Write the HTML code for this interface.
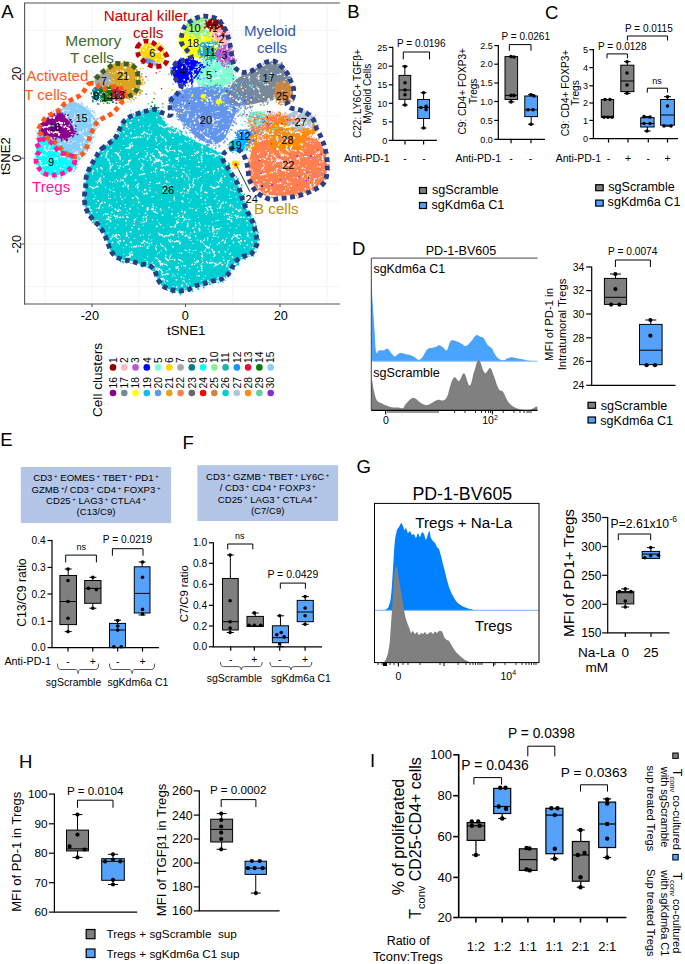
<!DOCTYPE html>
<html><head><meta charset="utf-8"><style>
html,body{margin:0;padding:0;background:#fff;}
body{width:685px;height:964px;overflow:hidden;position:relative;}
svg{position:absolute;left:0;top:0;font-family:"Liberation Sans", sans-serif;}
</style></head><body>
<svg width="685" height="964" viewBox="0 0 685 964">
<defs><pattern id="spk" patternUnits="userSpaceOnUse" width="121" height="109"><path fill="#fff" d="M54.7,61.0h1.5v1.5h-1.5zM56.3,55.4h1v1h-1zM22.3,55.8h1v1h-1zM96.0,10.3h1v1h-1zM11.0,88.3h1.5v1.5h-1.5zM5.1,107.1h1.5v1.5h-1.5zM79.1,67.1h1v1h-1zM1.8,57.6h1v1h-1zM23.0,26.4h1v1h-1zM56.1,48.0h1.5v1.5h-1.5zM62.8,69.8h1v1h-1zM80.2,49.8h1v1h-1zM120.7,108.5h1.5v1.5h-1.5zM85.6,34.4h1v1h-1zM35.0,7.7h1.5v1.5h-1.5zM48.4,92.3h1v1h-1zM115.9,92.4h1v1h-1zM25.4,99.2h1v1h-1zM118.6,43.3h1v1h-1zM76.2,84.9h1v1h-1zM10.5,36.3h1.5v1.5h-1.5zM91.7,12.9h1v1h-1zM12.2,6.5h1.5v1.5h-1.5zM21.5,61.0h1v1h-1zM23.1,79.8h1v1h-1zM77.9,12.7h1v1h-1zM25.8,29.4h1.5v1.5h-1.5zM97.2,33.2h1.5v1.5h-1.5zM25.5,43.0h1.5v1.5h-1.5zM77.7,10.9h1.5v1.5h-1.5zM25.8,28.2h1.5v1.5h-1.5zM39.8,32.3h1v1h-1zM10.9,63.5h1v1h-1zM72.8,40.5h1v1h-1zM116.1,52.7h1v1h-1zM104.8,19.9h1v1h-1zM109.9,89.1h1v1h-1zM23.0,80.6h1.5v1.5h-1.5zM23.8,103.6h1.5v1.5h-1.5zM73.0,45.9h1v1h-1zM4.7,104.9h1v1h-1zM85.3,28.0h1.5v1.5h-1.5zM72.2,32.0h1v1h-1zM87.2,7.5h1v1h-1zM67.7,92.9h1v1h-1zM33.9,100.0h1v1h-1zM2.0,29.3h1v1h-1zM7.3,19.2h1v1h-1zM69.2,14.3h1v1h-1zM107.8,106.9h1.5v1.5h-1.5zM83.6,63.7h1v1h-1zM4.2,2.0h1.5v1.5h-1.5zM84.8,104.9h1v1h-1zM77.0,52.6h1.5v1.5h-1.5zM38.6,108.9h1v1h-1zM66.1,80.3h1.5v1.5h-1.5zM89.2,76.7h1.5v1.5h-1.5zM110.7,38.3h1.5v1.5h-1.5zM109.0,95.0h1v1h-1zM95.7,94.1h1v1h-1zM75.6,41.7h1v1h-1zM73.7,8.7h1v1h-1zM120.2,95.9h1.5v1.5h-1.5zM47.0,80.1h1v1h-1zM53.3,91.4h1v1h-1zM90.8,3.2h1v1h-1zM58.2,25.1h1.5v1.5h-1.5zM60.2,67.0h1.5v1.5h-1.5zM31.0,1.2h1v1h-1zM82.1,22.1h1v1h-1zM109.6,71.9h1v1h-1zM107.9,35.6h1.5v1.5h-1.5zM24.0,47.0h1.5v1.5h-1.5zM110.6,95.9h1v1h-1zM70.6,34.5h1v1h-1zM60.1,91.2h1.5v1.5h-1.5zM86.1,103.6h1v1h-1zM20.5,49.1h1v1h-1zM25.9,45.1h1v1h-1zM59.8,34.4h1.5v1.5h-1.5zM118.8,49.3h1v1h-1zM3.8,95.1h1v1h-1zM85.7,62.2h1v1h-1zM95.8,2.1h1v1h-1zM55.0,2.7h1.5v1.5h-1.5zM28.7,15.4h1v1h-1zM76.1,48.7h1v1h-1zM79.3,88.0h1.5v1.5h-1.5zM82.8,21.7h1v1h-1zM21.6,1.2h1v1h-1zM86.4,19.5h1v1h-1zM41.8,76.0h1v1h-1zM74.3,82.4h1v1h-1zM95.8,98.8h1v1h-1zM112.8,78.7h1v1h-1zM54.9,68.2h1.5v1.5h-1.5zM45.6,62.0h1.5v1.5h-1.5zM96.4,102.9h1v1h-1zM78.8,22.3h1.5v1.5h-1.5zM99.0,69.9h1.5v1.5h-1.5zM25.8,98.1h1.5v1.5h-1.5zM118.3,58.5h1.5v1.5h-1.5zM38.8,99.2h1.5v1.5h-1.5zM42.2,9.0h1v1h-1zM66.6,83.7h1v1h-1zM3.4,88.2h1v1h-1zM96.8,18.8h1v1h-1zM95.3,15.3h1v1h-1zM62.5,78.9h1.5v1.5h-1.5zM83.4,103.1h1v1h-1zM114.8,9.4h1v1h-1zM63.7,31.6h1.5v1.5h-1.5zM77.3,57.0h1.5v1.5h-1.5zM67.8,34.0h1v1h-1zM102.3,98.2h1v1h-1zM102.9,105.6h1v1h-1zM69.3,21.9h1v1h-1zM60.9,66.0h1v1h-1zM117.3,56.2h1v1h-1zM96.9,61.4h1v1h-1zM83.6,7.2h1v1h-1zM50.1,104.3h1.5v1.5h-1.5zM32.6,51.6h1v1h-1zM52.5,88.9h1.5v1.5h-1.5zM57.7,34.6h1v1h-1zM74.8,100.9h1v1h-1zM94.3,2.5h1v1h-1zM27.5,74.9h1v1h-1zM43.0,67.6h1v1h-1zM88.4,13.4h1v1h-1zM30.3,21.6h1v1h-1zM52.8,41.0h1v1h-1zM64.1,17.4h1v1h-1zM76.4,69.6h1v1h-1zM103.0,66.7h1.5v1.5h-1.5zM28.2,80.7h1.5v1.5h-1.5zM109.2,34.4h1v1h-1zM111.7,23.8h1.5v1.5h-1.5zM107.4,14.6h1v1h-1zM87.9,28.3h1v1h-1zM100.7,46.0h1.5v1.5h-1.5zM15.2,43.9h1.5v1.5h-1.5zM2.1,21.9h1.5v1.5h-1.5zM110.3,105.6h1v1h-1zM61.2,82.6h1v1h-1zM83.0,20.6h1v1h-1zM12.8,4.1h1v1h-1zM62.3,62.0h1v1h-1zM22.3,22.2h1.5v1.5h-1.5zM119.8,101.0h1v1h-1zM7.5,103.7h1v1h-1zM92.5,35.6h1v1h-1zM62.3,46.9h1v1h-1zM1.6,76.4h1.5v1.5h-1.5zM21.9,49.5h1.5v1.5h-1.5zM49.0,21.3h1v1h-1zM62.0,1.7h1.5v1.5h-1.5zM97.0,76.8h1.5v1.5h-1.5zM76.2,44.1h1v1h-1zM61.0,107.1h1.5v1.5h-1.5zM31.2,99.3h1.5v1.5h-1.5zM94.1,88.8h1v1h-1zM108.5,95.9h1.5v1.5h-1.5zM92.8,83.4h1v1h-1zM87.4,7.7h1v1h-1zM56.7,1.2h1v1h-1zM77.3,68.0h1v1h-1zM114.3,72.6h1v1h-1zM79.8,62.1h1v1h-1zM47.1,109.0h1v1h-1zM84.9,83.0h1.5v1.5h-1.5zM2.8,67.1h1.5v1.5h-1.5zM31.1,43.8h1v1h-1zM23.6,40.9h1v1h-1zM30.4,98.7h1v1h-1zM61.4,105.4h1v1h-1zM120.4,69.5h1.5v1.5h-1.5zM9.2,65.1h1.5v1.5h-1.5zM5.5,101.4h1v1h-1zM57.1,18.4h1v1h-1zM74.0,6.4h1.5v1.5h-1.5zM50.9,57.4h1v1h-1zM44.2,31.1h1.5v1.5h-1.5zM67.8,30.9h1.5v1.5h-1.5zM35.8,1.5h1v1h-1zM5.2,17.1h1.5v1.5h-1.5zM47.2,97.8h1.5v1.5h-1.5zM6.1,107.8h1.5v1.5h-1.5zM8.9,98.7h1v1h-1zM57.8,106.1h1v1h-1zM63.3,102.2h1.5v1.5h-1.5zM56.7,106.7h1.5v1.5h-1.5zM73.0,12.5h1v1h-1zM55.1,22.2h1v1h-1zM63.9,13.6h1v1h-1zM80.8,49.7h1v1h-1zM70.5,45.7h1.5v1.5h-1.5zM64.2,108.7h1.5v1.5h-1.5zM88.8,26.0h1v1h-1zM108.0,85.5h1v1h-1zM43.5,29.6h1.5v1.5h-1.5zM68.4,64.5h1v1h-1zM91.2,20.7h1v1h-1zM118.5,99.8h1.5v1.5h-1.5zM4.8,6.6h1v1h-1zM51.4,67.9h1v1h-1zM65.5,7.9h1v1h-1zM81.8,60.0h1v1h-1zM45.2,52.2h1v1h-1zM41.6,81.2h1.5v1.5h-1.5zM9.0,13.1h1.5v1.5h-1.5zM75.5,83.8h1v1h-1zM51.3,28.1h1.5v1.5h-1.5zM44.6,71.2h1.5v1.5h-1.5zM39.4,59.8h1.5v1.5h-1.5zM111.4,46.6h1v1h-1zM11.7,95.4h1v1h-1zM10.0,61.5h1v1h-1zM82.9,32.6h1.5v1.5h-1.5zM9.2,23.2h1.5v1.5h-1.5zM9.9,33.1h1.5v1.5h-1.5zM84.0,30.8h1v1h-1zM43.3,79.1h1v1h-1zM14.2,77.3h1v1h-1zM111.1,102.5h1.5v1.5h-1.5zM53.0,87.5h1v1h-1zM38.4,43.6h1.5v1.5h-1.5zM108.3,27.1h1v1h-1zM44.2,39.6h1v1h-1zM46.9,21.3h1v1h-1zM96.4,58.9h1.5v1.5h-1.5zM68.1,19.2h1.5v1.5h-1.5zM106.6,30.7h1v1h-1zM62.4,59.3h1v1h-1zM116.9,71.0h1.5v1.5h-1.5zM7.8,59.6h1.5v1.5h-1.5zM10.2,8.9h1.5v1.5h-1.5zM108.8,9.2h1v1h-1zM17.4,81.3h1v1h-1zM29.7,24.0h1.5v1.5h-1.5zM63.1,83.4h1v1h-1zM40.9,105.5h1.5v1.5h-1.5zM59.7,58.6h1.5v1.5h-1.5zM85.7,99.7h1v1h-1zM100.0,72.7h1.5v1.5h-1.5zM97.5,90.9h1.5v1.5h-1.5zM115.9,69.8h1v1h-1zM85.9,87.4h1v1h-1zM50.9,15.9h1.5v1.5h-1.5zM119.9,40.9h1v1h-1zM24.7,46.3h1v1h-1zM117.3,6.5h1v1h-1zM13.9,70.6h1.5v1.5h-1.5zM21.7,6.8h1v1h-1zM70.7,99.1h1v1h-1zM13.1,20.1h1v1h-1zM28.5,78.2h1v1h-1zM27.1,20.2h1v1h-1zM20.9,82.6h1v1h-1zM66.3,89.1h1v1h-1zM31.5,96.7h1.5v1.5h-1.5zM41.4,59.7h1.5v1.5h-1.5zM58.4,24.1h1v1h-1zM114.6,87.4h1v1h-1zM63.8,56.2h1v1h-1zM119.8,71.7h1v1h-1zM1.3,51.5h1v1h-1zM96.4,77.7h1v1h-1zM19.0,17.1h1v1h-1zM31.4,94.7h1v1h-1zM77.1,108.2h1v1h-1zM64.7,16.4h1.5v1.5h-1.5zM0.2,89.5h1.5v1.5h-1.5zM99.5,9.0h1v1h-1zM86.7,10.6h1v1h-1zM56.7,104.1h1v1h-1zM103.7,33.1h1.5v1.5h-1.5zM50.5,99.9h1v1h-1zM100.0,22.7h1v1h-1zM63.6,17.2h1.5v1.5h-1.5zM37.7,33.9h1v1h-1zM37.0,50.9h1.5v1.5h-1.5zM43.5,74.9h1v1h-1zM47.7,50.3h1.5v1.5h-1.5zM100.4,71.3h1v1h-1zM45.6,77.4h1v1h-1zM68.3,49.9h1v1h-1zM120.0,87.1h1v1h-1zM74.5,31.7h1v1h-1zM65.3,32.5h1v1h-1zM47.5,72.7h1v1h-1zM24.2,79.7h1v1h-1zM114.3,61.3h1.5v1.5h-1.5zM40.1,90.1h1v1h-1zM17.0,10.3h1.5v1.5h-1.5zM85.7,19.6h1v1h-1zM101.3,64.6h1v1h-1zM27.4,17.1h1v1h-1zM49.2,7.9h1.5v1.5h-1.5zM51.7,55.8h1v1h-1zM92.8,89.5h1v1h-1zM40.1,44.9h1v1h-1zM48.5,76.3h1.5v1.5h-1.5zM95.6,72.0h1v1h-1zM2.2,36.1h1v1h-1zM78.7,11.6h1v1h-1zM61.6,86.0h1.5v1.5h-1.5zM74.0,17.3h1.5v1.5h-1.5zM109.3,59.8h1v1h-1zM60.6,15.5h1.5v1.5h-1.5zM119.4,56.2h1.5v1.5h-1.5zM101.1,21.5h1.5v1.5h-1.5zM75.9,21.6h1v1h-1zM29.6,62.8h1.5v1.5h-1.5zM39.8,101.3h1v1h-1zM56.0,13.5h1.5v1.5h-1.5zM16.4,98.5h1v1h-1zM67.8,61.1h1v1h-1zM110.0,108.1h1.5v1.5h-1.5zM72.8,13.4h1.5v1.5h-1.5zM34.9,97.8h1v1h-1zM69.4,90.6h1v1h-1zM66.3,8.3h1v1h-1zM21.8,107.6h1.5v1.5h-1.5zM79.7,33.5h1.5v1.5h-1.5zM89.3,41.6h1v1h-1zM97.3,1.8h1v1h-1zM56.6,15.6h1v1h-1zM68.9,18.9h1v1h-1zM31.9,61.9h1v1h-1zM77.6,4.1h1.5v1.5h-1.5zM17.5,104.6h1v1h-1zM56.9,44.8h1v1h-1zM83.4,82.6h1.5v1.5h-1.5zM58.8,108.4h1.5v1.5h-1.5zM103.5,44.6h1v1h-1zM68.5,98.7h1v1h-1zM63.5,47.1h1.5v1.5h-1.5zM38.8,6.0h1.5v1.5h-1.5zM108.9,79.8h1v1h-1zM91.0,33.2h1v1h-1zM8.4,13.6h1v1h-1zM60.8,43.2h1v1h-1zM84.1,57.4h1v1h-1zM37.1,43.1h1v1h-1zM8.3,99.3h1.5v1.5h-1.5zM80.6,94.4h1v1h-1zM97.4,24.2h1.5v1.5h-1.5zM68.6,98.5h1v1h-1zM95.9,13.5h1v1h-1zM115.1,0.1h1v1h-1zM36.2,35.4h1v1h-1zM108.3,88.9h1v1h-1zM43.1,63.8h1v1h-1zM3.8,97.9h1v1h-1zM60.3,101.8h1.5v1.5h-1.5zM57.2,22.5h1v1h-1zM111.6,97.8h1v1h-1zM101.4,38.6h1v1h-1zM20.8,95.9h1.5v1.5h-1.5zM24.4,68.9h1v1h-1zM106.5,5.5h1v1h-1zM87.8,34.1h1.5v1.5h-1.5zM105.2,77.7h1v1h-1zM84.2,102.2h1v1h-1zM9.6,24.3h1v1h-1zM86.0,21.4h1v1h-1zM28.5,72.4h1.5v1.5h-1.5zM45.1,72.2h1.5v1.5h-1.5zM71.4,25.0h1v1h-1zM112.1,72.7h1v1h-1zM77.4,9.8h1.5v1.5h-1.5zM53.3,57.6h1v1h-1zM5.5,65.4h1v1h-1zM30.4,87.6h1v1h-1zM34.5,82.4h1v1h-1zM33.8,59.7h1v1h-1zM108.5,107.7h1v1h-1zM55.9,81.8h1v1h-1zM112.4,54.5h1v1h-1zM67.3,70.3h1v1h-1zM79.6,85.3h1v1h-1zM61.2,92.1h1.5v1.5h-1.5zM63.0,103.7h1v1h-1zM94.3,18.0h1v1h-1zM28.5,48.0h1.5v1.5h-1.5zM95.2,86.2h1v1h-1zM59.2,24.1h1v1h-1zM60.4,3.9h1v1h-1zM86.5,62.4h1.5v1.5h-1.5zM21.8,16.5h1v1h-1zM60.0,47.4h1v1h-1zM31.8,87.0h1v1h-1zM109.8,62.0h1v1h-1zM95.8,25.9h1v1h-1zM37.6,4.6h1v1h-1zM75.2,57.3h1v1h-1zM71.2,9.6h1.5v1.5h-1.5zM20.8,27.8h1v1h-1zM83.6,90.6h1.5v1.5h-1.5zM7.4,44.8h1v1h-1zM26.2,105.8h1v1h-1zM59.2,83.0h1.5v1.5h-1.5zM17.5,49.6h1.5v1.5h-1.5zM4.7,26.2h1.5v1.5h-1.5zM17.1,42.8h1v1h-1zM51.4,8.3h1v1h-1zM120.5,83.2h1.5v1.5h-1.5zM27.8,27.6h1v1h-1zM29.2,50.3h1.5v1.5h-1.5zM44.0,36.7h1.5v1.5h-1.5zM73.9,4.3h1v1h-1zM78.6,6.4h1v1h-1zM84.1,94.2h1v1h-1zM107.3,50.4h1v1h-1zM102.0,41.5h1.5v1.5h-1.5zM26.1,37.9h1v1h-1zM66.5,17.9h1v1h-1zM25.9,51.0h1v1h-1zM54.1,108.3h1.5v1.5h-1.5zM103.8,22.0h1.2v1.2h-1.2zM103.4,23.4h1.5v1.5h-1.5zM102.9,24.2h1.2v1.2h-1.2zM7.2,79.6h0.9v0.9h-0.9zM6.4,78.0h0.9v0.9h-0.9zM6.5,76.5h1.5v1.5h-1.5zM6.7,75.7h1.2v1.2h-1.2zM18.1,64.9h1.5v1.5h-1.5zM19.8,64.4h1.5v1.5h-1.5zM20.7,65.0h1.2v1.2h-1.2zM22.1,63.9h1.5v1.5h-1.5zM23.1,64.3h1.2v1.2h-1.2zM17.1,92.8h1.5v1.5h-1.5zM16.9,91.7h0.9v0.9h-0.9zM16.4,89.4h1.2v1.2h-1.2zM16.2,88.2h1.2v1.2h-1.2zM15.2,87.7h1.2v1.2h-1.2zM14.4,86.6h1.2v1.2h-1.2zM92.5,38.0h1.2v1.2h-1.2zM93.0,36.6h1.5v1.5h-1.5zM93.3,36.1h0.9v0.9h-0.9zM92.0,34.3h0.9v0.9h-0.9zM92.5,32.9h1.5v1.5h-1.5zM91.1,31.5h1.2v1.2h-1.2zM90.4,30.8h1.5v1.5h-1.5zM77.2,42.1h0.9v0.9h-0.9zM76.9,42.9h1.2v1.2h-1.2zM75.2,43.1h1.2v1.2h-1.2zM74.4,44.5h0.9v0.9h-0.9zM73.4,43.7h1.2v1.2h-1.2zM117.9,16.0h1.5v1.5h-1.5zM119.2,17.1h0.9v0.9h-0.9zM120.5,18.5h0.9v0.9h-0.9zM120.9,19.6h1.2v1.2h-1.2zM12.8,2.3h0.9v0.9h-0.9zM12.9,1.2h1.2v1.2h-1.2zM14.1,0.2h1.2v1.2h-1.2zM15.6,108.4h0.9v0.9h-0.9zM86.0,100.4h1.5v1.5h-1.5zM85.5,98.8h1.5v1.5h-1.5zM84.4,97.9h1.2v1.2h-1.2zM30.4,55.5h1.2v1.2h-1.2zM31.1,54.0h0.9v0.9h-0.9zM32.7,53.3h1.2v1.2h-1.2zM32.8,52.8h1.2v1.2h-1.2zM34.0,51.8h1.5v1.5h-1.5zM35.8,51.9h1.2v1.2h-1.2zM113.6,105.5h1.5v1.5h-1.5zM115.3,107.2h0.9v0.9h-0.9zM116.6,107.7h0.9v0.9h-0.9zM117.5,108.1h0.9v0.9h-0.9zM119.0,108.1h1.2v1.2h-1.2zM119.3,107.5h1.5v1.5h-1.5zM120.9,107.3h0.9v0.9h-0.9zM1.2,107.5h1.5v1.5h-1.5zM105.4,47.9h1.2v1.2h-1.2zM105.0,47.5h1.2v1.2h-1.2zM105.7,46.1h1.2v1.2h-1.2zM106.1,44.3h1.5v1.5h-1.5zM106.2,42.9h1.2v1.2h-1.2zM106.6,42.0h0.9v0.9h-0.9zM107.7,41.7h1.2v1.2h-1.2zM42.6,61.2h1.5v1.5h-1.5zM40.9,60.6h0.9v0.9h-0.9zM40.1,60.5h1.5v1.5h-1.5zM39.3,60.4h1.5v1.5h-1.5zM8.5,39.1h0.9v0.9h-0.9zM8.4,38.2h1.2v1.2h-1.2zM8.8,36.9h1.2v1.2h-1.2zM8.1,35.6h0.9v0.9h-0.9zM8.2,34.5h1.2v1.2h-1.2zM109.9,2.8h1.5v1.5h-1.5zM109.4,1.6h1.5v1.5h-1.5zM107.7,0.6h1.5v1.5h-1.5zM106.2,0.4h1.5v1.5h-1.5zM5.3,13.8h0.9v0.9h-0.9zM5.0,14.9h1.2v1.2h-1.2zM5.0,16.6h1.5v1.5h-1.5zM4.7,17.3h0.9v0.9h-0.9zM91.2,12.3h1.2v1.2h-1.2zM92.8,11.2h1.2v1.2h-1.2zM93.5,11.4h0.9v0.9h-0.9zM94.9,10.0h1.5v1.5h-1.5zM96.0,10.5h0.9v0.9h-0.9zM97.3,10.1h1.5v1.5h-1.5zM61.4,62.2h1.2v1.2h-1.2zM61.8,62.7h0.9v0.9h-0.9zM62.9,63.2h0.9v0.9h-0.9zM63.7,64.4h0.9v0.9h-0.9zM65.2,65.2h1.2v1.2h-1.2zM65.3,66.7h0.9v0.9h-0.9zM67.0,67.4h0.9v0.9h-0.9zM67.4,68.3h0.9v0.9h-0.9zM67.3,70.6h0.9v0.9h-0.9zM61.3,108.1h1.5v1.5h-1.5zM62.9,0.2h1.2v1.2h-1.2zM63.8,0.8h0.9v0.9h-0.9zM65.3,1.0h0.9v0.9h-0.9zM66.6,108.8h1.5v1.5h-1.5zM67.4,1.0h1.2v1.2h-1.2zM69.0,0.7h0.9v0.9h-0.9zM70.0,108.9h1.2v1.2h-1.2zM71.9,108.9h1.2v1.2h-1.2zM120.1,22.6h1.2v1.2h-1.2zM118.9,21.9h1.5v1.5h-1.5zM118.1,20.2h0.9v0.9h-0.9zM116.6,19.8h1.2v1.2h-1.2zM115.6,18.8h1.2v1.2h-1.2zM114.6,18.1h0.9v0.9h-0.9zM114.0,17.5h1.2v1.2h-1.2zM112.6,16.1h1.2v1.2h-1.2zM98.8,44.1h1.5v1.5h-1.5zM97.6,44.8h1.2v1.2h-1.2zM97.2,45.8h0.9v0.9h-0.9zM95.5,46.1h1.2v1.2h-1.2zM94.3,45.9h1.5v1.5h-1.5zM93.5,47.0h1.2v1.2h-1.2zM92.4,48.4h0.9v0.9h-0.9zM29.3,44.8h1.2v1.2h-1.2zM31.2,45.8h0.9v0.9h-0.9zM31.4,46.6h0.9v0.9h-0.9zM32.2,46.4h1.5v1.5h-1.5zM33.4,48.5h0.9v0.9h-0.9zM33.8,48.7h0.9v0.9h-0.9zM34.7,50.5h1.5v1.5h-1.5zM35.6,50.5h1.2v1.2h-1.2zM36.7,51.9h0.9v0.9h-0.9zM8.6,50.4h1.5v1.5h-1.5zM7.1,51.0h1.2v1.2h-1.2zM7.2,52.0h1.5v1.5h-1.5zM6.5,54.2h1.5v1.5h-1.5zM5.5,55.0h0.9v0.9h-0.9zM4.0,55.5h1.2v1.2h-1.2zM3.7,55.6h1.2v1.2h-1.2zM2.2,57.4h0.9v0.9h-0.9zM61.6,13.6h1.2v1.2h-1.2zM60.5,13.0h1.2v1.2h-1.2zM59.4,13.1h0.9v0.9h-0.9zM57.5,13.1h0.9v0.9h-0.9zM60.8,15.8h1.5v1.5h-1.5zM60.0,14.2h0.9v0.9h-0.9zM59.0,13.9h1.2v1.2h-1.2zM58.6,12.1h0.9v0.9h-0.9zM109.8,59.1h0.9v0.9h-0.9zM110.2,58.1h1.2v1.2h-1.2zM109.7,56.9h1.5v1.5h-1.5zM109.9,55.4h0.9v0.9h-0.9zM109.5,54.4h1.2v1.2h-1.2zM108.9,53.2h1.2v1.2h-1.2zM108.8,51.6h0.9v0.9h-0.9zM108.2,50.2h1.2v1.2h-1.2zM107.4,49.1h0.9v0.9h-0.9zM4.2,39.2h0.9v0.9h-0.9zM5.2,38.2h1.5v1.5h-1.5zM6.9,38.1h1.5v1.5h-1.5zM8.0,37.7h1.5v1.5h-1.5zM8.3,36.9h1.2v1.2h-1.2zM9.0,36.0h1.2v1.2h-1.2zM11.0,35.6h1.2v1.2h-1.2zM35.0,73.9h1.2v1.2h-1.2zM35.4,74.1h1.2v1.2h-1.2zM37.4,73.6h1.5v1.5h-1.5zM37.8,73.3h1.5v1.5h-1.5zM113.4,82.0h1.2v1.2h-1.2zM112.6,81.7h0.9v0.9h-0.9zM110.3,81.0h0.9v0.9h-0.9zM54.6,47.9h0.9v0.9h-0.9zM54.5,49.2h1.5v1.5h-1.5zM55.1,49.5h1.5v1.5h-1.5zM57.0,50.4h1.2v1.2h-1.2zM57.0,52.1h0.9v0.9h-0.9zM56.8,3.7h1.2v1.2h-1.2zM56.2,3.8h1.2v1.2h-1.2zM55.4,4.5h1.5v1.5h-1.5zM53.7,6.3h1.5v1.5h-1.5zM53.8,7.1h1.2v1.2h-1.2zM53.2,8.2h1.5v1.5h-1.5zM84.8,42.9h1.5v1.5h-1.5zM85.8,44.3h1.2v1.2h-1.2zM87.8,44.2h1.5v1.5h-1.5zM88.4,44.2h1.5v1.5h-1.5zM90.1,43.9h1.5v1.5h-1.5zM91.1,44.1h0.9v0.9h-0.9zM42.2,17.9h1.2v1.2h-1.2zM40.8,17.5h0.9v0.9h-0.9zM40.7,16.6h1.2v1.2h-1.2zM39.4,16.0h1.2v1.2h-1.2zM37.7,15.9h1.5v1.5h-1.5zM37.1,14.8h1.2v1.2h-1.2zM43.1,18.5h0.9v0.9h-0.9zM43.6,17.2h1.2v1.2h-1.2zM44.8,17.0h1.5v1.5h-1.5zM46.7,16.9h1.5v1.5h-1.5zM48.0,16.5h1.5v1.5h-1.5zM48.6,15.4h1.2v1.2h-1.2zM50.3,15.8h1.5v1.5h-1.5zM51.8,16.1h1.5v1.5h-1.5zM87.5,97.1h1.5v1.5h-1.5zM88.7,96.8h1.5v1.5h-1.5zM89.1,98.4h1.2v1.2h-1.2zM89.1,100.0h0.9v0.9h-0.9zM90.1,100.5h1.5v1.5h-1.5zM90.8,102.8h1.5v1.5h-1.5zM90.8,103.1h1.5v1.5h-1.5zM74.0,100.8h0.9v0.9h-0.9zM74.6,100.7h1.5v1.5h-1.5zM76.4,98.8h0.9v0.9h-0.9zM114.0,106.9h0.9v0.9h-0.9zM115.2,106.7h1.5v1.5h-1.5zM116.3,106.5h0.9v0.9h-0.9zM117.0,106.6h0.9v0.9h-0.9zM104.7,104.0h1.5v1.5h-1.5zM106.5,104.9h0.9v0.9h-0.9zM107.2,104.5h1.2v1.2h-1.2zM49.8,36.3h0.9v0.9h-0.9zM48.5,37.4h1.5v1.5h-1.5zM48.0,39.2h1.2v1.2h-1.2zM18.6,27.2h1.5v1.5h-1.5zM16.6,27.6h1.2v1.2h-1.2zM15.0,27.3h0.9v0.9h-0.9zM14.1,27.9h1.5v1.5h-1.5zM12.8,27.8h1.5v1.5h-1.5zM11.6,28.3h1.2v1.2h-1.2zM10.2,29.2h0.9v0.9h-0.9zM9.9,28.7h0.9v0.9h-0.9zM8.2,28.4h0.9v0.9h-0.9zM35.3,65.2h0.9v0.9h-0.9zM34.5,62.8h0.9v0.9h-0.9zM33.8,62.6h0.9v0.9h-0.9zM34.0,61.4h0.9v0.9h-0.9zM34.4,59.1h0.9v0.9h-0.9zM34.7,58.8h1.5v1.5h-1.5zM80.4,40.5h0.9v0.9h-0.9zM81.1,38.3h1.2v1.2h-1.2zM80.2,37.5h1.5v1.5h-1.5zM80.6,36.5h1.2v1.2h-1.2zM80.8,34.7h0.9v0.9h-0.9zM117.6,101.6h1.5v1.5h-1.5zM117.1,101.4h1.5v1.5h-1.5zM116.2,100.5h1.2v1.2h-1.2zM114.5,99.6h1.5v1.5h-1.5zM91.7,43.5h0.9v0.9h-0.9zM92.7,44.4h1.2v1.2h-1.2zM93.6,44.9h1.2v1.2h-1.2zM95.1,45.5h1.2v1.2h-1.2zM67.8,74.8h1.5v1.5h-1.5zM67.8,76.3h1.2v1.2h-1.2zM68.6,77.5h1.5v1.5h-1.5zM68.2,79.3h0.9v0.9h-0.9zM67.5,80.6h0.9v0.9h-0.9zM66.5,81.2h1.2v1.2h-1.2zM66.9,82.1h0.9v0.9h-0.9zM65.2,83.5h0.9v0.9h-0.9zM111.8,55.9h1.2v1.2h-1.2zM110.8,56.8h0.9v0.9h-0.9zM109.9,57.3h0.9v0.9h-0.9zM33.4,48.4h1.2v1.2h-1.2zM34.5,49.7h1.5v1.5h-1.5zM35.8,49.2h0.9v0.9h-0.9zM37.1,50.0h1.5v1.5h-1.5zM38.1,50.5h0.9v0.9h-0.9zM39.3,51.3h1.5v1.5h-1.5zM40.3,53.0h1.5v1.5h-1.5zM40.8,54.0h0.9v0.9h-0.9zM41.4,54.4h0.9v0.9h-0.9zM80.1,51.8h1.5v1.5h-1.5zM79.8,49.7h1.2v1.2h-1.2zM79.8,48.6h0.9v0.9h-0.9zM79.9,47.2h1.5v1.5h-1.5zM79.5,46.6h0.9v0.9h-0.9zM80.2,44.9h0.9v0.9h-0.9zM81.2,44.0h1.2v1.2h-1.2zM81.0,41.9h0.9v0.9h-0.9zM118.7,25.2h1.2v1.2h-1.2zM117.7,23.7h1.2v1.2h-1.2zM117.2,23.1h0.9v0.9h-0.9zM35.5,103.6h1.2v1.2h-1.2zM34.6,102.6h0.9v0.9h-0.9zM33.2,102.2h1.5v1.5h-1.5zM32.0,101.7h1.2v1.2h-1.2zM31.0,100.0h0.9v0.9h-0.9zM30.3,99.8h1.5v1.5h-1.5zM25.6,100.2h1.5v1.5h-1.5zM26.5,99.4h1.5v1.5h-1.5zM26.7,97.9h0.9v0.9h-0.9zM22.5,84.1h1.5v1.5h-1.5zM24.6,83.8h1.5v1.5h-1.5zM24.9,83.5h0.9v0.9h-0.9zM26.2,84.3h0.9v0.9h-0.9zM120.8,50.6h1.5v1.5h-1.5zM120.2,50.0h0.9v0.9h-0.9zM120.1,47.9h1.5v1.5h-1.5zM119.2,47.3h1.2v1.2h-1.2zM118.1,46.2h1.2v1.2h-1.2zM117.4,45.0h1.5v1.5h-1.5zM117.0,44.1h1.5v1.5h-1.5zM115.5,43.3h1.5v1.5h-1.5zM114.5,42.9h0.9v0.9h-0.9zM95.9,76.8h1.2v1.2h-1.2zM94.7,77.7h1.2v1.2h-1.2zM92.9,78.6h1.5v1.5h-1.5zM92.0,78.2h1.5v1.5h-1.5zM91.2,77.7h1.5v1.5h-1.5zM27.6,25.1h1.2v1.2h-1.2zM26.0,24.6h0.9v0.9h-0.9zM25.6,23.7h1.5v1.5h-1.5zM24.2,23.3h1.2v1.2h-1.2zM22.7,23.0h1.2v1.2h-1.2zM21.8,23.7h1.2v1.2h-1.2zM20.2,24.4h1.5v1.5h-1.5zM71.3,77.6h1.2v1.2h-1.2zM71.8,76.4h0.9v0.9h-0.9zM72.0,74.9h1.5v1.5h-1.5zM71.0,74.1h1.2v1.2h-1.2zM71.5,72.1h1.5v1.5h-1.5zM71.8,71.2h1.2v1.2h-1.2zM71.9,69.5h1.2v1.2h-1.2zM73.4,68.9h1.2v1.2h-1.2zM91.4,8.0h0.9v0.9h-0.9zM91.3,9.3h1.5v1.5h-1.5zM91.3,10.6h1.2v1.2h-1.2zM91.2,12.5h1.5v1.5h-1.5zM91.4,12.8h0.9v0.9h-0.9zM91.5,14.2h0.9v0.9h-0.9zM92.6,15.3h1.2v1.2h-1.2zM91.8,17.4h1.5v1.5h-1.5zM98.0,98.5h1.5v1.5h-1.5zM98.7,97.2h1.5v1.5h-1.5zM99.1,95.7h1.2v1.2h-1.2zM99.9,94.5h0.9v0.9h-0.9zM100.6,93.6h1.2v1.2h-1.2zM101.2,93.5h1.2v1.2h-1.2zM102.2,92.6h0.9v0.9h-0.9zM104.0,92.7h1.5v1.5h-1.5zM101.6,59.3h1.2v1.2h-1.2zM101.1,57.9h0.9v0.9h-0.9zM100.1,57.9h1.5v1.5h-1.5zM81.0,75.5h0.9v0.9h-0.9zM80.1,76.7h1.2v1.2h-1.2zM79.5,78.2h1.2v1.2h-1.2zM79.5,79.1h0.9v0.9h-0.9zM79.6,80.6h1.5v1.5h-1.5zM78.9,82.3h0.9v0.9h-0.9zM47.3,55.5h0.9v0.9h-0.9zM45.7,55.3h1.5v1.5h-1.5zM44.8,55.3h0.9v0.9h-0.9zM43.9,56.0h1.2v1.2h-1.2zM42.4,56.0h1.2v1.2h-1.2zM40.5,56.2h1.5v1.5h-1.5zM40.0,55.2h0.9v0.9h-0.9zM41.1,46.5h0.9v0.9h-0.9zM39.0,46.5h1.2v1.2h-1.2zM38.6,45.2h1.2v1.2h-1.2zM66.1,6.6h1.5v1.5h-1.5zM66.3,5.0h1.2v1.2h-1.2zM66.6,3.7h0.9v0.9h-0.9zM79.2,23.0h1.5v1.5h-1.5zM81.2,23.6h0.9v0.9h-0.9zM81.8,25.2h0.9v0.9h-0.9zM82.9,25.9h0.9v0.9h-0.9zM83.9,27.0h1.5v1.5h-1.5zM83.9,27.4h1.5v1.5h-1.5zM85.1,28.8h1.5v1.5h-1.5zM86.2,29.1h1.5v1.5h-1.5zM87.6,29.2h1.2v1.2h-1.2zM4.5,63.9h0.9v0.9h-0.9zM3.7,66.2h1.5v1.5h-1.5zM3.8,67.0h1.5v1.5h-1.5zM3.0,67.6h0.9v0.9h-0.9zM59.1,41.7h1.5v1.5h-1.5zM58.0,41.3h1.5v1.5h-1.5zM57.1,41.1h0.9v0.9h-0.9zM92.6,61.0h1.5v1.5h-1.5zM91.8,62.5h1.2v1.2h-1.2zM92.2,64.0h0.9v0.9h-0.9zM92.3,64.9h0.9v0.9h-0.9zM19.5,3.6h0.9v0.9h-0.9zM20.7,4.5h0.9v0.9h-0.9zM21.9,3.4h1.2v1.2h-1.2zM23.1,3.5h0.9v0.9h-0.9zM24.7,2.7h1.2v1.2h-1.2zM25.0,1.2h1.2v1.2h-1.2zM24.7,0.5h0.9v0.9h-0.9zM24.4,107.1h1.5v1.5h-1.5zM34.9,31.4h1.2v1.2h-1.2zM34.4,30.1h1.2v1.2h-1.2zM34.2,29.0h0.9v0.9h-0.9zM34.7,27.0h1.2v1.2h-1.2zM41.6,27.9h1.2v1.2h-1.2zM40.4,27.0h1.5v1.5h-1.5zM39.0,25.6h1.2v1.2h-1.2zM115.7,16.0h1.5v1.5h-1.5zM115.7,16.5h1.2v1.2h-1.2zM114.3,17.2h1.5v1.5h-1.5zM113.7,17.5h1.2v1.2h-1.2zM112.0,18.2h1.2v1.2h-1.2zM110.9,18.6h0.9v0.9h-0.9zM110.2,20.0h1.5v1.5h-1.5zM120.5,69.9h0.9v0.9h-0.9zM0.4,70.8h1.2v1.2h-1.2zM1.3,70.4h1.5v1.5h-1.5zM2.2,71.7h0.9v0.9h-0.9zM3.2,73.2h0.9v0.9h-0.9zM3.2,73.2h1.2v1.2h-1.2zM3.8,74.7h1.5v1.5h-1.5zM4.4,75.8h0.9v0.9h-0.9zM16.9,74.2h1.2v1.2h-1.2zM15.7,75.1h1.2v1.2h-1.2zM15.5,75.8h0.9v0.9h-0.9zM16.0,77.0h1.5v1.5h-1.5zM15.8,78.3h1.5v1.5h-1.5zM45.4,46.7h1.2v1.2h-1.2zM44.3,45.8h1.2v1.2h-1.2zM42.7,45.5h1.2v1.2h-1.2zM41.6,44.5h0.9v0.9h-0.9zM43.8,39.3h1.5v1.5h-1.5zM44.9,40.4h1.5v1.5h-1.5zM45.5,41.3h1.2v1.2h-1.2zM46.4,41.8h1.5v1.5h-1.5zM48.4,41.0h0.9v0.9h-0.9zM49.0,40.9h0.9v0.9h-0.9zM50.5,40.9h0.9v0.9h-0.9zM51.5,40.8h0.9v0.9h-0.9zM52.9,41.3h1.5v1.5h-1.5zM68.7,16.3h0.9v0.9h-0.9zM67.6,18.4h0.9v0.9h-0.9zM68.1,19.1h1.2v1.2h-1.2zM67.0,19.8h0.9v0.9h-0.9zM21.2,54.1h0.9v0.9h-0.9zM20.8,55.1h0.9v0.9h-0.9zM21.3,57.0h0.9v0.9h-0.9zM20.2,58.1h1.5v1.5h-1.5zM20.1,58.3h1.5v1.5h-1.5zM19.1,59.5h1.2v1.2h-1.2zM40.4,45.3h1.5v1.5h-1.5zM39.5,45.2h1.2v1.2h-1.2zM39.4,43.2h0.9v0.9h-0.9zM39.2,42.7h0.9v0.9h-0.9zM37.5,42.0h1.5v1.5h-1.5zM36.9,40.9h0.9v0.9h-0.9zM35.6,39.9h1.2v1.2h-1.2zM34.4,39.2h1.5v1.5h-1.5zM97.0,73.2h1.2v1.2h-1.2zM96.8,72.9h1.2v1.2h-1.2zM98.1,71.6h1.5v1.5h-1.5zM98.7,70.3h1.2v1.2h-1.2zM99.4,68.8h1.2v1.2h-1.2zM100.1,68.5h1.2v1.2h-1.2zM57.8,22.5h0.9v0.9h-0.9zM56.3,22.7h1.5v1.5h-1.5zM55.5,22.6h1.2v1.2h-1.2zM54.3,22.7h1.2v1.2h-1.2zM52.8,23.0h1.5v1.5h-1.5zM51.3,22.6h0.9v0.9h-0.9zM50.6,22.2h0.9v0.9h-0.9zM48.7,23.0h1.5v1.5h-1.5zM47.6,22.3h1.2v1.2h-1.2z"/></pattern></defs>
<text x="347.3" y="18.3" font-size="18.5" fill="#000" text-anchor="start" >B</text>
<line x1="392.8" y1="46.8" x2="392.8" y2="140.4" stroke="#000" stroke-width="1.2" />
<line x1="388.8" y1="47.4" x2="392.8" y2="47.4" stroke="#000" stroke-width="1.2" />
<text x="387.3" y="50.64" font-size="9" fill="#000" text-anchor="end" >25</text>
<line x1="388.8" y1="66.2" x2="392.8" y2="66.2" stroke="#000" stroke-width="1.2" />
<text x="387.3" y="69.44" font-size="9" fill="#000" text-anchor="end" >20</text>
<line x1="388.8" y1="84.8" x2="392.8" y2="84.8" stroke="#000" stroke-width="1.2" />
<text x="387.3" y="88.04" font-size="9" fill="#000" text-anchor="end" >15</text>
<line x1="388.8" y1="103.3" x2="392.8" y2="103.3" stroke="#000" stroke-width="1.2" />
<text x="387.3" y="106.54" font-size="9" fill="#000" text-anchor="end" >10</text>
<line x1="388.8" y1="121.9" x2="392.8" y2="121.9" stroke="#000" stroke-width="1.2" />
<text x="387.3" y="125.14" font-size="9" fill="#000" text-anchor="end" >5</text>
<line x1="388.8" y1="140.4" x2="392.8" y2="140.4" stroke="#000" stroke-width="1.2" />
<text x="387.3" y="143.64" font-size="9" fill="#000" text-anchor="end" >0</text>
<line x1="392.2" y1="140.4" x2="436.9" y2="140.4" stroke="#000" stroke-width="1.2" />
<line x1="405" y1="140.4" x2="405" y2="144.4" stroke="#000" stroke-width="1.2" />
<line x1="423.6" y1="140.4" x2="423.6" y2="144.4" stroke="#000" stroke-width="1.2" />
<line x1="404.85" y1="66.2" x2="404.85" y2="75.4" stroke="#000" stroke-width="1.0" />
<line x1="401.93" y1="66.2" x2="407.78" y2="66.2" stroke="#000" stroke-width="1.0" />
<line x1="404.85" y1="99.3" x2="404.85" y2="105" stroke="#000" stroke-width="1.0" />
<line x1="401.93" y1="105" x2="407.78" y2="105" stroke="#000" stroke-width="1.0" />
<rect x="399" y="75.4" width="11.7" height="23.9" fill="#7f7f7f" stroke="#000" stroke-width="1.0" />
<line x1="399" y1="90" x2="410.7" y2="90" stroke="#000" stroke-width="1.0" />
<circle cx="405" cy="66.5" r="1.8" fill="#000"/>
<circle cx="405" cy="82.8" r="1.8" fill="#000"/>
<circle cx="405" cy="90" r="1.8" fill="#000"/>
<circle cx="405" cy="94.8" r="1.8" fill="#000"/>
<circle cx="405" cy="105" r="1.8" fill="#000"/>
<line x1="423.6" y1="92.7" x2="423.6" y2="99.5" stroke="#000" stroke-width="1.0" />
<line x1="420.65" y1="92.7" x2="426.55" y2="92.7" stroke="#000" stroke-width="1.0" />
<line x1="423.6" y1="118.5" x2="423.6" y2="128" stroke="#000" stroke-width="1.0" />
<line x1="420.65" y1="128" x2="426.55" y2="128" stroke="#000" stroke-width="1.0" />
<rect x="417.7" y="99.5" width="11.8" height="19" fill="#54a2fc" stroke="#000" stroke-width="1.0" />
<line x1="417.7" y1="107.5" x2="429.5" y2="107.5" stroke="#000" stroke-width="1.0" />
<circle cx="423.6" cy="92.7" r="1.8" fill="#000"/>
<circle cx="420.9" cy="107.5" r="1.8" fill="#000"/>
<circle cx="426.1" cy="106.2" r="1.8" fill="#000"/>
<circle cx="426.1" cy="109.6" r="1.8" fill="#000"/>
<circle cx="423.6" cy="128" r="1.8" fill="#000"/>
<polyline points="403.3,59.4 403.3,52 429.5,52 429.5,59.4" stroke="#000" stroke-width="1.0" fill="none" />
<text x="397" y="46.8" font-size="10" fill="#000" text-anchor="start" >P = 0.0196</text>
<text x="0" y="0" font-size="10.1" fill="#000" text-anchor="middle" transform="translate(361.1 93.6) rotate(-90)" >C22: LY6C+ TGFβ+</text>
<text x="0" y="0" font-size="10.1" fill="#000" text-anchor="middle" transform="translate(371.3 93.6) rotate(-90)" >Myeloid Cells</text>
<text x="344" y="161.5" font-size="10.5" fill="#000" text-anchor="start" >Anti-PD-1</text>
<text x="405" y="161.5" font-size="10.5" fill="#000" text-anchor="middle" >-</text>
<text x="424" y="161.5" font-size="10.5" fill="#000" text-anchor="middle" >-</text>
<line x1="498.3" y1="45" x2="498.3" y2="139.3" stroke="#000" stroke-width="1.2" />
<line x1="494.3" y1="45.6" x2="498.3" y2="45.6" stroke="#000" stroke-width="1.2" />
<text x="492.8" y="48.84" font-size="9" fill="#000" text-anchor="end" >2.5</text>
<line x1="494.3" y1="64.2" x2="498.3" y2="64.2" stroke="#000" stroke-width="1.2" />
<text x="492.8" y="67.44" font-size="9" fill="#000" text-anchor="end" >2.0</text>
<line x1="494.3" y1="83" x2="498.3" y2="83" stroke="#000" stroke-width="1.2" />
<text x="492.8" y="86.24" font-size="9" fill="#000" text-anchor="end" >1.5</text>
<line x1="494.3" y1="101.5" x2="498.3" y2="101.5" stroke="#000" stroke-width="1.2" />
<text x="492.8" y="104.74" font-size="9" fill="#000" text-anchor="end" >1.0</text>
<line x1="494.3" y1="120.4" x2="498.3" y2="120.4" stroke="#000" stroke-width="1.2" />
<text x="492.8" y="123.64" font-size="9" fill="#000" text-anchor="end" >0.5</text>
<line x1="494.3" y1="139.3" x2="498.3" y2="139.3" stroke="#000" stroke-width="1.2" />
<text x="492.8" y="142.54" font-size="9" fill="#000" text-anchor="end" >0.0</text>
<line x1="497.7" y1="139.3" x2="545" y2="139.3" stroke="#000" stroke-width="1.2" />
<line x1="511.1" y1="139.3" x2="511.1" y2="143.3" stroke="#000" stroke-width="1.2" />
<line x1="531" y1="139.3" x2="531" y2="143.3" stroke="#000" stroke-width="1.2" />
<line x1="511.3" y1="99.5" x2="511.3" y2="101.9" stroke="#000" stroke-width="1.0" />
<line x1="508.15" y1="101.9" x2="514.45" y2="101.9" stroke="#000" stroke-width="1.0" />
<rect x="505" y="56.6" width="12.6" height="42.9" fill="#7f7f7f" stroke="#000" stroke-width="1.0" />
<line x1="505" y1="95.4" x2="517.6" y2="95.4" stroke="#000" stroke-width="1.0" />
<circle cx="511" cy="56.6" r="1.8" fill="#000"/>
<circle cx="514" cy="57" r="1.8" fill="#000"/>
<circle cx="511" cy="95.4" r="1.8" fill="#000"/>
<circle cx="514" cy="95.4" r="1.8" fill="#000"/>
<circle cx="511" cy="101.9" r="1.8" fill="#000"/>
<line x1="531.15" y1="94.7" x2="531.15" y2="96" stroke="#000" stroke-width="1.0" />
<line x1="527.97" y1="94.7" x2="534.33" y2="94.7" stroke="#000" stroke-width="1.0" />
<line x1="531.15" y1="116.6" x2="531.15" y2="124.2" stroke="#000" stroke-width="1.0" />
<line x1="527.97" y1="124.2" x2="534.33" y2="124.2" stroke="#000" stroke-width="1.0" />
<rect x="524.8" y="96" width="12.7" height="20.6" fill="#54a2fc" stroke="#000" stroke-width="1.0" />
<line x1="524.8" y1="109.8" x2="537.5" y2="109.8" stroke="#000" stroke-width="1.0" />
<circle cx="531" cy="94.7" r="1.8" fill="#000"/>
<circle cx="534" cy="96" r="1.8" fill="#000"/>
<circle cx="528" cy="109.8" r="1.8" fill="#000"/>
<circle cx="533" cy="109.8" r="1.8" fill="#000"/>
<circle cx="531" cy="124.2" r="1.8" fill="#000"/>
<polyline points="509.3,50.8 509.3,44.6 531,44.6 531,50.8" stroke="#000" stroke-width="1.0" fill="none" />
<text x="501.5" y="40.3" font-size="10" fill="#000" text-anchor="start" >P = 0.0261</text>
<text x="0" y="0" font-size="10.1" fill="#000" text-anchor="middle" transform="translate(466.1 91.3) rotate(-90)" >C9: CD4+ FOXP3+</text>
<text x="0" y="0" font-size="10.1" fill="#000" text-anchor="middle" transform="translate(477.1 91.3) rotate(-90)" >Tregs</text>
<text x="455.5" y="161.5" font-size="10.5" fill="#000" text-anchor="start" >Anti-PD-1</text>
<text x="511" y="161.5" font-size="10.5" fill="#000" text-anchor="middle" >-</text>
<text x="530.6" y="161.5" font-size="10.5" fill="#000" text-anchor="middle" >-</text>
<rect x="419.5" y="187.5" width="7" height="6" fill="#7f7f7f" stroke="#000" stroke-width="1.2" />
<text x="432" y="193.7" font-size="12.6" fill="#000" text-anchor="start" >sgScramble</text>
<rect x="419.5" y="202.5" width="7" height="6" fill="#54a2fc" stroke="#000" stroke-width="1.2" />
<text x="431.5" y="208.9" font-size="12.6" fill="#000" text-anchor="start" >sgKdm6a C1</text>
<text x="545.1" y="18.8" font-size="18.5" fill="#000" text-anchor="start" >C</text>
<line x1="593.4" y1="49.1" x2="593.4" y2="138.6" stroke="#000" stroke-width="1.2" />
<line x1="589.4" y1="49.7" x2="593.4" y2="49.7" stroke="#000" stroke-width="1.2" />
<text x="587.9" y="52.94" font-size="9" fill="#000" text-anchor="end" >5</text>
<line x1="589.4" y1="67.6" x2="593.4" y2="67.6" stroke="#000" stroke-width="1.2" />
<text x="587.9" y="70.84" font-size="9" fill="#000" text-anchor="end" >4</text>
<line x1="589.4" y1="85.8" x2="593.4" y2="85.8" stroke="#000" stroke-width="1.2" />
<text x="587.9" y="89.04" font-size="9" fill="#000" text-anchor="end" >3</text>
<line x1="589.4" y1="103" x2="593.4" y2="103" stroke="#000" stroke-width="1.2" />
<text x="587.9" y="106.24" font-size="9" fill="#000" text-anchor="end" >2</text>
<line x1="589.4" y1="120.4" x2="593.4" y2="120.4" stroke="#000" stroke-width="1.2" />
<text x="587.9" y="123.64" font-size="9" fill="#000" text-anchor="end" >1</text>
<line x1="589.4" y1="138.6" x2="593.4" y2="138.6" stroke="#000" stroke-width="1.2" />
<text x="587.9" y="141.84" font-size="9" fill="#000" text-anchor="end" >0</text>
<line x1="592.8" y1="138.6" x2="678" y2="138.6" stroke="#000" stroke-width="1.2" />
<line x1="608.5" y1="138.6" x2="608.5" y2="142.6" stroke="#000" stroke-width="1.2" />
<line x1="628" y1="138.6" x2="628" y2="142.6" stroke="#000" stroke-width="1.2" />
<line x1="648.3" y1="138.6" x2="648.3" y2="142.6" stroke="#000" stroke-width="1.2" />
<line x1="667.5" y1="138.6" x2="667.5" y2="142.6" stroke="#000" stroke-width="1.2" />
<rect x="601.3" y="99.5" width="12.3" height="17.8" fill="#7f7f7f" stroke="#000" stroke-width="1.0" />
<line x1="601.3" y1="116.6" x2="613.6" y2="116.6" stroke="#000" stroke-width="1.0" />
<circle cx="605" cy="99.5" r="1.8" fill="#000"/>
<circle cx="610" cy="99.5" r="1.8" fill="#000"/>
<circle cx="604" cy="117.3" r="1.8" fill="#000"/>
<circle cx="608" cy="117.3" r="1.8" fill="#000"/>
<circle cx="612" cy="117.3" r="1.8" fill="#000"/>
<line x1="627.35" y1="61.7" x2="627.35" y2="65.2" stroke="#000" stroke-width="1.0" />
<line x1="624.07" y1="61.7" x2="630.62" y2="61.7" stroke="#000" stroke-width="1.0" />
<line x1="627.35" y1="91.6" x2="627.35" y2="93.3" stroke="#000" stroke-width="1.0" />
<line x1="624.07" y1="93.3" x2="630.62" y2="93.3" stroke="#000" stroke-width="1.0" />
<rect x="620.8" y="65.2" width="13.1" height="26.4" fill="#7f7f7f" stroke="#000" stroke-width="1.0" />
<line x1="620.8" y1="81" x2="633.9" y2="81" stroke="#000" stroke-width="1.0" />
<circle cx="627" cy="61.7" r="1.8" fill="#000"/>
<circle cx="627" cy="73" r="1.8" fill="#000"/>
<circle cx="627" cy="85" r="1.8" fill="#000"/>
<circle cx="627" cy="93.3" r="1.8" fill="#000"/>
<line x1="647.4" y1="116.6" x2="647.4" y2="117.7" stroke="#000" stroke-width="1.0" />
<line x1="644.05" y1="116.6" x2="650.75" y2="116.6" stroke="#000" stroke-width="1.0" />
<line x1="647.4" y1="127" x2="647.4" y2="131" stroke="#000" stroke-width="1.0" />
<line x1="644.05" y1="131" x2="650.75" y2="131" stroke="#000" stroke-width="1.0" />
<rect x="640.7" y="117.7" width="13.4" height="9.3" fill="#54a2fc" stroke="#000" stroke-width="1.0" />
<line x1="640.7" y1="123.5" x2="654.1" y2="123.5" stroke="#000" stroke-width="1.0" />
<circle cx="644" cy="116.6" r="1.8" fill="#000"/>
<circle cx="650" cy="117" r="1.8" fill="#000"/>
<circle cx="644" cy="123.5" r="1.8" fill="#000"/>
<circle cx="650" cy="123.5" r="1.8" fill="#000"/>
<circle cx="647" cy="131" r="1.8" fill="#000"/>
<line x1="667.5" y1="96.7" x2="667.5" y2="99.5" stroke="#000" stroke-width="1.0" />
<line x1="664.05" y1="96.7" x2="670.95" y2="96.7" stroke="#000" stroke-width="1.0" />
<line x1="667.5" y1="125.2" x2="667.5" y2="126.2" stroke="#000" stroke-width="1.0" />
<line x1="664.05" y1="126.2" x2="670.95" y2="126.2" stroke="#000" stroke-width="1.0" />
<rect x="660.6" y="99.5" width="13.8" height="25.7" fill="#54a2fc" stroke="#000" stroke-width="1.0" />
<line x1="660.6" y1="115" x2="674.4" y2="115" stroke="#000" stroke-width="1.0" />
<circle cx="667.5" cy="96.7" r="1.8" fill="#000"/>
<circle cx="667.5" cy="106" r="1.8" fill="#000"/>
<circle cx="664" cy="126" r="1.8" fill="#000"/>
<circle cx="671" cy="126" r="1.8" fill="#000"/>
<polyline points="607,58.3 607,53.9 627.4,53.9 627.4,58.3" stroke="#000" stroke-width="1.0" fill="none" />
<text x="598" y="50.3" font-size="10" fill="#000" text-anchor="start" >P = 0.0128</text>
<polyline points="627.4,40.5 627.4,36 667.5,36 667.5,40.5" stroke="#000" stroke-width="1.0" fill="none" />
<text x="625" y="32.1" font-size="10" fill="#000" text-anchor="start" >P = 0.0115</text>
<polyline points="647.3,92.6 647.3,88.2 667.5,88.2 667.5,92.6" stroke="#000" stroke-width="1.0" fill="none" />
<text x="657" y="84" font-size="9" fill="#000" text-anchor="middle" >ns</text>
<text x="0" y="0" font-size="10.1" fill="#000" text-anchor="middle" transform="translate(568.9 93) rotate(-90)" >C9: CD4+ FOXP3+</text>
<text x="0" y="0" font-size="10.1" fill="#000" text-anchor="middle" transform="translate(579.4 93) rotate(-90)" >Tregs</text>
<text x="555.7" y="161.5" font-size="10.5" fill="#000" text-anchor="start" >Anti-PD-1</text>
<text x="608.5" y="161.5" font-size="10.5" fill="#000" text-anchor="middle" >-</text>
<text x="628" y="161.5" font-size="10.5" fill="#000" text-anchor="middle" >+</text>
<text x="648.3" y="161.5" font-size="10.5" fill="#000" text-anchor="middle" >-</text>
<text x="667.5" y="161.5" font-size="10.5" fill="#000" text-anchor="middle" >+</text>
<rect x="595.7" y="184.7" width="7.5" height="6" fill="#7f7f7f" stroke="#000" stroke-width="1.2" />
<text x="608.2" y="191" font-size="12.6" fill="#000" text-anchor="start" >sgScramble</text>
<rect x="595.7" y="200.1" width="7.5" height="6" fill="#54a2fc" stroke="#000" stroke-width="1.2" />
<text x="607.6" y="206.4" font-size="12.6" fill="#000" text-anchor="start" >sgKdm6a C1</text>
<text x="352.1" y="254.7" font-size="18.5" fill="#000" text-anchor="start" >D</text>
<text x="461" y="254.6" font-size="12.6" fill="#000" text-anchor="middle" >PD-1-BV605</text>
<path d="M371.5,361.1 C371.5,345.9 371.3,297.5 371.5,285.3 C371.7,273.1 371.9,291.1 372.5,300.0 C373.1,308.9 373.8,319.7 374.5,330.0 C375.2,340.3 375.3,347.4 376.1,351.6 C376.9,355.8 377.5,351.1 378.5,350.8 C379.5,350.5 379.9,350.4 381.1,350.3 C382.3,350.2 383.2,350.6 384.4,350.3 C385.6,350.0 385.9,348.5 387.0,348.6 C388.1,348.7 388.7,349.9 389.7,351.0 C390.7,352.1 391.0,352.9 392.0,354.0 C393.0,355.1 393.7,356.5 394.9,356.5 C396.1,356.5 396.7,354.7 398.0,354.0 C399.3,353.3 399.6,352.8 401.5,352.9 C403.4,353.0 405.4,354.1 407.4,354.6 C409.4,355.1 409.9,355.0 411.4,355.6 C412.9,356.2 413.6,356.7 415.0,357.5 C416.4,358.3 417.1,359.9 418.6,359.8 C420.1,359.7 420.8,359.0 422.5,356.9 C424.2,354.8 425.1,351.2 427.1,349.4 C429.1,347.6 430.6,348.2 432.4,347.7 C434.2,347.2 434.7,347.5 436.0,347.0 C437.3,346.5 437.6,345.2 439.0,345.3 C440.4,345.4 441.3,346.3 442.9,347.3 C444.5,348.3 445.4,351.4 446.8,350.3 C448.2,349.2 448.9,343.8 450.1,341.8 C451.3,339.8 451.7,340.4 452.8,340.2 C453.9,340.0 454.4,340.6 455.5,341.0 C456.6,341.4 457.2,341.4 458.5,342.0 C459.8,342.6 460.5,343.2 462.0,344.0 C463.5,344.8 464.0,346.5 465.8,346.0 C467.6,345.5 468.9,343.6 471.0,341.4 C473.1,339.2 474.5,336.1 476.3,335.2 C478.1,334.3 478.8,336.2 480.2,336.8 C481.6,337.4 482.0,336.5 483.5,338.1 C485.0,339.7 485.8,342.6 487.5,344.7 C489.2,346.8 490.6,346.8 492.0,348.6 C493.4,350.4 493.2,351.8 494.7,353.9 C496.2,356.0 497.5,357.8 499.3,359.1 C501.1,360.4 502.4,360.3 503.9,360.2 C505.4,360.1 505.7,359.1 507.0,358.5 C508.3,357.9 508.9,357.5 510.4,357.4 C511.9,357.3 512.7,357.5 514.4,357.8 C516.1,358.1 517.2,358.5 519.0,358.8 C520.8,359.1 521.6,359.1 523.6,359.5 C525.6,359.9 526.0,360.4 528.8,360.7 C531.6,361.0 535.7,361.0 537.4,361.1Z" fill="#49a4ff"/>
<line x1="371.5" y1="361.2" x2="537.5" y2="361.2" stroke="#7ab8f5" stroke-width="1" />
<path d="M371.5,410.3 C371.5,404.4 371.0,384.6 371.5,380.6 C372.0,376.6 372.9,386.7 373.9,390.5 C374.9,394.3 375.1,397.2 376.5,399.7 C377.9,402.2 379.1,401.8 381.1,403.0 C383.1,404.2 384.3,404.7 386.4,405.6 C388.5,406.5 389.3,406.9 391.7,407.3 C394.1,407.7 396.0,407.4 398.2,407.6 C400.4,407.8 401.4,408.7 402.8,408.2 C404.2,407.7 404.1,406.2 405.0,405.0 C405.9,403.8 406.1,403.6 407.4,402.3 C408.7,401.0 409.8,399.2 411.4,398.4 C413.0,397.6 413.6,397.6 415.3,398.4 C417.0,399.2 418.1,401.0 419.9,402.3 C421.7,403.6 422.8,404.2 424.5,404.7 C426.2,405.2 426.3,405.4 428.4,404.7 C430.5,404.0 432.9,402.0 435.0,401.0 C437.1,400.0 437.3,399.8 439.0,399.7 C440.7,399.6 441.9,401.1 443.6,400.3 C445.3,399.5 446.1,399.0 447.5,395.7 C448.9,392.4 449.4,387.6 450.8,383.9 C452.2,380.2 452.9,377.9 454.6,377.3 C456.3,376.7 457.3,381.7 459.2,380.9 C461.1,380.1 462.1,372.5 464.2,373.4 C466.3,374.3 467.7,386.0 469.7,385.5 C471.7,385.0 472.5,376.1 474.3,371.0 C476.1,365.9 476.8,359.8 478.9,360.2 C481.0,360.6 482.6,371.4 484.8,373.0 C487.0,374.6 488.3,367.4 490.1,368.1 C491.9,368.8 492.3,372.2 494.0,376.3 C495.7,380.4 496.8,385.7 498.6,388.8 C500.4,391.9 501.4,389.5 503.2,392.0 C505.0,394.5 505.6,398.2 507.8,401.2 C510.0,404.2 511.2,405.5 514.4,407.2 C517.6,408.9 520.4,409.3 523.6,409.8 C526.8,410.3 527.6,410.5 530.2,409.8 C532.8,409.1 535.3,406.4 536.7,406.5 C538.1,406.6 537.3,409.5 537.4,410.3Z" fill="#808080"/>
<line x1="371.3" y1="258.1" x2="537.5" y2="258.1" stroke="#444" stroke-width="1" />
<line x1="371.3" y1="258.1" x2="371.3" y2="410.5" stroke="#444" stroke-width="1" />
<line x1="371.3" y1="410.4" x2="537.5" y2="410.4" stroke="#000" stroke-width="1.3" />
<line x1="385.5" y1="410.4" x2="385.5" y2="413" stroke="#000" stroke-width="0.8" />
<line x1="388" y1="410.4" x2="388" y2="413" stroke="#000" stroke-width="0.8" />
<line x1="390" y1="410.4" x2="390" y2="413" stroke="#000" stroke-width="0.8" />
<line x1="392" y1="410.4" x2="392" y2="413" stroke="#000" stroke-width="0.8" />
<line x1="394" y1="410.4" x2="394" y2="413" stroke="#000" stroke-width="0.8" />
<line x1="396" y1="410.4" x2="396" y2="413" stroke="#000" stroke-width="0.8" />
<line x1="398" y1="410.4" x2="398" y2="413" stroke="#000" stroke-width="0.8" />
<line x1="400" y1="410.4" x2="400" y2="413" stroke="#000" stroke-width="0.8" />
<line x1="402" y1="410.4" x2="402" y2="413" stroke="#000" stroke-width="0.8" />
<line x1="404" y1="410.4" x2="404" y2="413" stroke="#000" stroke-width="0.8" />
<line x1="406" y1="410.4" x2="406" y2="413" stroke="#000" stroke-width="0.8" />
<line x1="408" y1="410.4" x2="408" y2="413" stroke="#000" stroke-width="0.8" />
<line x1="410" y1="410.4" x2="410" y2="413" stroke="#000" stroke-width="0.8" />
<line x1="412" y1="410.4" x2="412" y2="413" stroke="#000" stroke-width="0.8" />
<line x1="414" y1="410.4" x2="414" y2="413" stroke="#000" stroke-width="0.8" />
<line x1="416" y1="410.4" x2="416" y2="413" stroke="#000" stroke-width="0.8" />
<line x1="418" y1="410.4" x2="418" y2="413" stroke="#000" stroke-width="0.8" />
<line x1="420" y1="410.4" x2="420" y2="413" stroke="#000" stroke-width="0.8" />
<line x1="422" y1="410.4" x2="422" y2="413" stroke="#000" stroke-width="0.8" />
<line x1="424" y1="410.4" x2="424" y2="413" stroke="#000" stroke-width="0.8" />
<line x1="426" y1="410.4" x2="426" y2="413" stroke="#000" stroke-width="0.8" />
<line x1="428" y1="410.4" x2="428" y2="413" stroke="#000" stroke-width="0.8" />
<line x1="430" y1="410.4" x2="430" y2="413" stroke="#000" stroke-width="0.8" />
<line x1="432" y1="410.4" x2="432" y2="413" stroke="#000" stroke-width="0.8" />
<line x1="434" y1="410.4" x2="434" y2="413" stroke="#000" stroke-width="0.8" />
<line x1="436" y1="410.4" x2="436" y2="413" stroke="#000" stroke-width="0.8" />
<line x1="438" y1="410.4" x2="438" y2="413" stroke="#000" stroke-width="0.8" />
<line x1="454.6" y1="410.4" x2="454.6" y2="413" stroke="#000" stroke-width="0.8" />
<line x1="465" y1="410.4" x2="465" y2="413" stroke="#000" stroke-width="0.8" />
<line x1="475.5" y1="410.4" x2="475.5" y2="413" stroke="#000" stroke-width="0.8" />
<line x1="481.5" y1="410.4" x2="481.5" y2="413" stroke="#000" stroke-width="0.8" />
<line x1="485.5" y1="410.4" x2="485.5" y2="413" stroke="#000" stroke-width="0.8" />
<line x1="488.5" y1="410.4" x2="488.5" y2="413" stroke="#000" stroke-width="0.8" />
<line x1="490.5" y1="410.4" x2="490.5" y2="413" stroke="#000" stroke-width="0.8" />
<line x1="492.4" y1="410.4" x2="492.4" y2="413" stroke="#000" stroke-width="0.8" />
<line x1="503.2" y1="410.4" x2="503.2" y2="413" stroke="#000" stroke-width="0.8" />
<line x1="514" y1="410.4" x2="514" y2="413" stroke="#000" stroke-width="0.8" />
<line x1="520" y1="410.4" x2="520" y2="413" stroke="#000" stroke-width="0.8" />
<line x1="524" y1="410.4" x2="524" y2="413" stroke="#000" stroke-width="0.8" />
<line x1="527" y1="410.4" x2="527" y2="413" stroke="#000" stroke-width="0.8" />
<line x1="529" y1="410.4" x2="529" y2="413" stroke="#000" stroke-width="0.8" />
<line x1="531" y1="410.4" x2="531" y2="413" stroke="#000" stroke-width="0.8" />
<line x1="385.7" y1="410.4" x2="385.7" y2="414.5" stroke="#000" stroke-width="1" />
<line x1="492.4" y1="410.4" x2="492.4" y2="414.5" stroke="#000" stroke-width="1" />
<text x="386" y="424.3" font-size="10.5" fill="#000" text-anchor="middle" >0</text>
<text x="482.2" y="424.2" font-size="10.5" fill="#000" text-anchor="start" >10</text>
<text x="494" y="419.5" font-size="7" fill="#000" text-anchor="start" >2</text>
<text x="373.5" y="273.4" font-size="12.4" fill="#000" text-anchor="start" >sgKdm6a C1</text>
<text x="373.3" y="377.1" font-size="12.6" fill="#000" text-anchor="start" >sgScramble</text>
<line x1="591.7" y1="266.4" x2="591.7" y2="385.3" stroke="#000" stroke-width="1.2" />
<line x1="586.2" y1="267" x2="591.7" y2="267" stroke="#000" stroke-width="1.2" />
<text x="584.4" y="270.74" font-size="10.4" fill="#000" text-anchor="end" >34</text>
<line x1="586.2" y1="290.6" x2="591.7" y2="290.6" stroke="#000" stroke-width="1.2" />
<text x="584.4" y="294.34" font-size="10.4" fill="#000" text-anchor="end" >32</text>
<line x1="586.2" y1="314" x2="591.7" y2="314" stroke="#000" stroke-width="1.2" />
<text x="584.4" y="317.74" font-size="10.4" fill="#000" text-anchor="end" >30</text>
<line x1="586.2" y1="337.8" x2="591.7" y2="337.8" stroke="#000" stroke-width="1.2" />
<text x="584.4" y="341.54" font-size="10.4" fill="#000" text-anchor="end" >28</text>
<line x1="586.2" y1="361.4" x2="591.7" y2="361.4" stroke="#000" stroke-width="1.2" />
<text x="584.4" y="365.14" font-size="10.4" fill="#000" text-anchor="end" >26</text>
<line x1="586.2" y1="385.3" x2="591.7" y2="385.3" stroke="#000" stroke-width="1.2" />
<text x="584.4" y="389.04" font-size="10.4" fill="#000" text-anchor="end" >24</text>
<line x1="591.1" y1="385.3" x2="675.5" y2="385.3" stroke="#000" stroke-width="1.2" />
<line x1="615.5" y1="274" x2="615.5" y2="278.4" stroke="#000" stroke-width="1.0" />
<line x1="610" y1="274" x2="621" y2="274" stroke="#000" stroke-width="1.0" />
<rect x="604.4" y="278.4" width="22.2" height="26" fill="#7f7f7f" stroke="#000" stroke-width="1.0" />
<line x1="604.4" y1="297.3" x2="626.6" y2="297.3" stroke="#000" stroke-width="1.0" />
<circle cx="615.4" cy="274.1" r="2.1" fill="#000"/>
<circle cx="615.4" cy="289.1" r="2.1" fill="#000"/>
<circle cx="611.1" cy="304.6" r="2.1" fill="#000"/>
<circle cx="619.4" cy="304.6" r="2.1" fill="#000"/>
<line x1="650.8" y1="320" x2="650.8" y2="324.4" stroke="#000" stroke-width="1.0" />
<line x1="645.3" y1="320" x2="656.3" y2="320" stroke="#000" stroke-width="1.0" />
<rect x="639.5" y="324.4" width="22.6" height="40.3" fill="#54a2fc" stroke="#000" stroke-width="1.0" />
<line x1="639.5" y1="350.2" x2="662.1" y2="350.2" stroke="#000" stroke-width="1.0" />
<circle cx="650.4" cy="320.1" r="2.1" fill="#000"/>
<circle cx="650.4" cy="335.7" r="2.1" fill="#000"/>
<circle cx="646.6" cy="365.2" r="2.1" fill="#000"/>
<circle cx="655" cy="365.2" r="2.1" fill="#000"/>
<polyline points="615.4,267 615.4,260 650.4,260 650.4,267" stroke="#000" stroke-width="1.0" fill="none" />
<text x="608" y="255.1" font-size="10.2" fill="#000" text-anchor="start" >P = 0.0074</text>
<text x="0" y="0" font-size="11.3" fill="#000" text-anchor="middle" transform="translate(553.3 324.5) rotate(-90)" >MFI of PD-1 in</text>
<text x="0" y="0" font-size="11.3" fill="#000" text-anchor="middle" transform="translate(565.9 324.5) rotate(-90)" >Intratumoral Tregs</text>
<rect x="588" y="402.3" width="7.5" height="6" fill="#7f7f7f" stroke="#000" stroke-width="1.2" />
<text x="600.8" y="409.8" font-size="12.6" fill="#000" text-anchor="start" >sgScramble</text>
<rect x="588" y="417" width="7.5" height="6" fill="#54a2fc" stroke="#000" stroke-width="1.2" />
<text x="600.3" y="424.5" font-size="12.6" fill="#000" text-anchor="start" >sgKdm6a C1</text>
<text x="0.3" y="446.3" font-size="18.5" fill="#000" text-anchor="start" >E</text>
<rect x="20.8" y="467" width="150.3" height="56.1" fill="#b4c6e7" stroke="none" stroke-width="1.2" />
<text x="96" y="481" font-size="9.6" text-anchor="middle" xml:space="preserve"><tspan dy="0.0">CD3</tspan><tspan font-size="6.0" dy="-3.2"> +</tspan><tspan dy="3.2"> </tspan><tspan dy="0.0">EOMES</tspan><tspan font-size="6.0" dy="-3.2"> +</tspan><tspan dy="3.2"> </tspan><tspan dy="0.0">TBET</tspan><tspan font-size="6.0" dy="-3.2"> +</tspan><tspan dy="3.2"> </tspan><tspan dy="0.0">PD1</tspan><tspan font-size="6.0" dy="-3.2"> +</tspan></text>
<text x="96" y="492.7" font-size="9.6" text-anchor="middle" xml:space="preserve"><tspan dy="0.0">GZMB</tspan><tspan font-size="6.0" dy="-3.2"> +</tspan><tspan dy="3.2">/ CD3</tspan><tspan font-size="6.0" dy="-3.2"> +</tspan><tspan dy="3.2"> </tspan><tspan dy="0.0">CD4</tspan><tspan font-size="6.0" dy="-3.2"> +</tspan><tspan dy="3.2"> </tspan><tspan dy="0.0">FOXP3</tspan><tspan font-size="6.0" dy="-3.2"> +</tspan></text>
<text x="96" y="504.4" font-size="9.6" text-anchor="middle" xml:space="preserve"><tspan dy="0.0">CD25</tspan><tspan font-size="6.0" dy="-3.2"> +</tspan><tspan dy="3.2"> </tspan><tspan dy="0.0">LAG3</tspan><tspan font-size="6.0" dy="-3.2"> +</tspan><tspan dy="3.2"> </tspan><tspan dy="0.0">CTLA4</tspan><tspan font-size="6.0" dy="-3.2"> +</tspan></text>
<text x="96" y="515.4" font-size="9.6" fill="#000" text-anchor="middle" >(C13/C9)</text>
<line x1="52" y1="539.9" x2="52" y2="647.6" stroke="#000" stroke-width="1.2" />
<line x1="47.5" y1="540.5" x2="52" y2="540.5" stroke="#000" stroke-width="1.2" />
<text x="45.7" y="544.17" font-size="10.2" fill="#000" text-anchor="end" >0.4</text>
<line x1="47.5" y1="567.4" x2="52" y2="567.4" stroke="#000" stroke-width="1.2" />
<text x="45.7" y="571.07" font-size="10.2" fill="#000" text-anchor="end" >0.3</text>
<line x1="47.5" y1="594" x2="52" y2="594" stroke="#000" stroke-width="1.2" />
<text x="45.7" y="597.67" font-size="10.2" fill="#000" text-anchor="end" >0.2</text>
<line x1="47.5" y1="621.4" x2="52" y2="621.4" stroke="#000" stroke-width="1.2" />
<text x="45.7" y="625.07" font-size="10.2" fill="#000" text-anchor="end" >0.1</text>
<line x1="47.5" y1="647.6" x2="52" y2="647.6" stroke="#000" stroke-width="1.2" />
<text x="45.7" y="651.27" font-size="10.2" fill="#000" text-anchor="end" >0.0</text>
<line x1="51.4" y1="647.6" x2="159" y2="647.6" stroke="#000" stroke-width="1.2" />
<line x1="68" y1="647.6" x2="68" y2="651.6" stroke="#000" stroke-width="1.2" />
<line x1="92.8" y1="647.6" x2="92.8" y2="651.6" stroke="#000" stroke-width="1.2" />
<line x1="117.7" y1="647.6" x2="117.7" y2="651.6" stroke="#000" stroke-width="1.2" />
<line x1="142.5" y1="647.6" x2="142.5" y2="651.6" stroke="#000" stroke-width="1.2" />
<line x1="68.2" y1="569" x2="68.2" y2="575.5" stroke="#000" stroke-width="1.0" />
<line x1="64.7" y1="569" x2="71.7" y2="569" stroke="#000" stroke-width="1.0" />
<line x1="68.2" y1="624.6" x2="68.2" y2="631.6" stroke="#000" stroke-width="1.0" />
<line x1="64.7" y1="631.6" x2="71.7" y2="631.6" stroke="#000" stroke-width="1.0" />
<rect x="59.9" y="575.5" width="16.6" height="49.1" fill="#7f7f7f" stroke="#000" stroke-width="1.0" />
<line x1="59.9" y1="601.5" x2="76.5" y2="601.5" stroke="#000" stroke-width="1.0" />
<circle cx="68" cy="569.1" r="1.8" fill="#000"/>
<circle cx="68" cy="580.5" r="1.8" fill="#000"/>
<circle cx="68" cy="601.5" r="1.8" fill="#000"/>
<circle cx="68" cy="618.2" r="1.8" fill="#000"/>
<circle cx="68" cy="631.6" r="1.8" fill="#000"/>
<line x1="92.85" y1="577.3" x2="92.85" y2="580.5" stroke="#000" stroke-width="1.0" />
<line x1="89.35" y1="577.3" x2="96.35" y2="577.3" stroke="#000" stroke-width="1.0" />
<line x1="92.85" y1="603.3" x2="92.85" y2="608.2" stroke="#000" stroke-width="1.0" />
<line x1="89.35" y1="608.2" x2="96.35" y2="608.2" stroke="#000" stroke-width="1.0" />
<rect x="84.7" y="580.5" width="16.3" height="22.8" fill="#7f7f7f" stroke="#000" stroke-width="1.0" />
<line x1="84.7" y1="588.4" x2="101" y2="588.4" stroke="#000" stroke-width="1.0" />
<circle cx="92.8" cy="577.3" r="1.8" fill="#000"/>
<circle cx="88.5" cy="588.4" r="1.8" fill="#000"/>
<circle cx="96.4" cy="589.6" r="1.8" fill="#000"/>
<circle cx="92.8" cy="608.2" r="1.8" fill="#000"/>
<line x1="117.5" y1="620.2" x2="117.5" y2="623.4" stroke="#000" stroke-width="1.0" />
<line x1="114" y1="620.2" x2="121" y2="620.2" stroke="#000" stroke-width="1.0" />
<rect x="109.5" y="623.4" width="16" height="24.2" fill="#54a2fc" stroke="#000" stroke-width="1.0" />
<line x1="109.5" y1="630" x2="125.5" y2="630" stroke="#000" stroke-width="1.0" />
<circle cx="117.7" cy="620.5" r="1.8" fill="#000"/>
<circle cx="117.7" cy="626" r="1.8" fill="#000"/>
<circle cx="117.7" cy="630.1" r="1.8" fill="#000"/>
<circle cx="113.9" cy="646.7" r="1.8" fill="#000"/>
<circle cx="121.2" cy="646.7" r="1.8" fill="#000"/>
<line x1="142.15" y1="562" x2="142.15" y2="566.8" stroke="#000" stroke-width="1.0" />
<line x1="138.65" y1="562" x2="145.65" y2="562" stroke="#000" stroke-width="1.0" />
<line x1="142.15" y1="613" x2="142.15" y2="615" stroke="#000" stroke-width="1.0" />
<line x1="138.65" y1="615" x2="145.65" y2="615" stroke="#000" stroke-width="1.0" />
<rect x="134.3" y="566.8" width="15.7" height="46.2" fill="#54a2fc" stroke="#000" stroke-width="1.0" />
<line x1="134.3" y1="593.4" x2="150" y2="593.4" stroke="#000" stroke-width="1.0" />
<circle cx="142.5" cy="562.1" r="1.8" fill="#000"/>
<circle cx="142.5" cy="577.3" r="1.8" fill="#000"/>
<circle cx="142.5" cy="609.4" r="1.8" fill="#000"/>
<circle cx="142.5" cy="614" r="1.8" fill="#000"/>
<text x="81.2" y="549.8" font-size="9" fill="#000" text-anchor="middle" >ns</text>
<polyline points="65.7,562.4 65.7,555.1 96.4,555.1 96.4,562.4" stroke="#000" stroke-width="1.0" fill="none" />
<text x="102.8" y="542.7" font-size="10.2" fill="#000" text-anchor="start" >P = 0.0219</text>
<polyline points="112.4,555.7 112.4,548.7 143,548.7 143,555.7" stroke="#000" stroke-width="1.0" fill="none" />
<text x="0" y="0" font-size="12.2" fill="#000" text-anchor="middle" transform="translate(26.2 592.6) rotate(-90)" >C13/C9  ratio</text>
<text x="4.4" y="665.2" font-size="10.75" fill="#000" text-anchor="start" >Anti-PD-1</text>
<text x="68" y="665.2" font-size="10.5" fill="#000" text-anchor="middle" >-</text>
<text x="92.8" y="665.2" font-size="10.5" fill="#000" text-anchor="middle" >+</text>
<text x="117.7" y="665.2" font-size="10.5" fill="#000" text-anchor="middle" >-</text>
<text x="142.5" y="665.2" font-size="10.5" fill="#000" text-anchor="middle" >+</text>
<path d="M57.5,663.6 Q57.5,669.5 60.5,669.5 L75.1,669.5 Q78.1,669.5 78.1,673.6 Q78.1,669.5 81.1,669.5 L95.7,669.5 Q98.7,669.5 98.7,663.6" fill="none" stroke="#555" stroke-width="1"/>
<path d="M109.5,663.6 Q109.5,669.5 112.5,669.5 L129.1,669.5 Q132.1,669.5 132.1,673.6 Q132.1,669.5 135.1,669.5 L151.7,669.5 Q154.7,669.5 154.7,663.6" fill="none" stroke="#555" stroke-width="1"/>
<text x="45.8" y="686.1" font-size="10.5" fill="#000" text-anchor="start" >sgScramble</text>
<text x="107.4" y="686.1" font-size="10.55" fill="#000" text-anchor="start" >sgKdm6a C1</text>
<text x="182.5" y="448.7" font-size="18.5" fill="#000" text-anchor="start" >F</text>
<rect x="197.4" y="465.2" width="140.7" height="55.8" fill="#b4c6e7" stroke="none" stroke-width="1.2" />
<text x="267.7" y="479.8" font-size="9.6" text-anchor="middle" xml:space="preserve"><tspan dy="0.0">CD3</tspan><tspan font-size="6.0" dy="-3.2"> +</tspan><tspan dy="3.2"> </tspan><tspan dy="0.0">GZMB</tspan><tspan font-size="6.0" dy="-3.2"> +</tspan><tspan dy="3.2"> </tspan><tspan dy="0.0">TBET</tspan><tspan font-size="6.0" dy="-3.2"> +</tspan><tspan dy="3.2"> </tspan><tspan dy="0.0">LY6C</tspan><tspan font-size="6.0" dy="-3.2"> +</tspan></text>
<text x="267.7" y="491" font-size="9.6" text-anchor="middle" xml:space="preserve"><tspan dy="0.0">/ CD3</tspan><tspan font-size="6.0" dy="-3.2"> +</tspan><tspan dy="3.2"> </tspan><tspan dy="0.0">CD4</tspan><tspan font-size="6.0" dy="-3.2"> +</tspan><tspan dy="3.2"> </tspan><tspan dy="0.0">FOXP3</tspan><tspan font-size="6.0" dy="-3.2"> +</tspan></text>
<text x="267.7" y="502.5" font-size="9.6" text-anchor="middle" xml:space="preserve"><tspan dy="0.0">CD25</tspan><tspan font-size="6.0" dy="-3.2"> +</tspan><tspan dy="3.2"> </tspan><tspan dy="0.0">LAG3</tspan><tspan font-size="6.0" dy="-3.2"> +</tspan><tspan dy="3.2"> </tspan><tspan dy="0.0">CTLA4</tspan><tspan font-size="6.0" dy="-3.2"> +</tspan></text>
<text x="267.7" y="514.2" font-size="9.6" fill="#000" text-anchor="middle" >(C7/C9)</text>
<line x1="213.4" y1="542.2" x2="213.4" y2="646.8" stroke="#000" stroke-width="1.2" />
<line x1="208.9" y1="542.8" x2="213.4" y2="542.8" stroke="#000" stroke-width="1.2" />
<text x="207.1" y="546.47" font-size="10.2" fill="#000" text-anchor="end" >1.0</text>
<line x1="208.9" y1="563.3" x2="213.4" y2="563.3" stroke="#000" stroke-width="1.2" />
<text x="207.1" y="566.97" font-size="10.2" fill="#000" text-anchor="end" >0.8</text>
<line x1="208.9" y1="584.3" x2="213.4" y2="584.3" stroke="#000" stroke-width="1.2" />
<text x="207.1" y="587.97" font-size="10.2" fill="#000" text-anchor="end" >0.6</text>
<line x1="208.9" y1="605.3" x2="213.4" y2="605.3" stroke="#000" stroke-width="1.2" />
<text x="207.1" y="608.97" font-size="10.2" fill="#000" text-anchor="end" >0.4</text>
<line x1="208.9" y1="626" x2="213.4" y2="626" stroke="#000" stroke-width="1.2" />
<text x="207.1" y="629.67" font-size="10.2" fill="#000" text-anchor="end" >0.2</text>
<line x1="208.9" y1="646.8" x2="213.4" y2="646.8" stroke="#000" stroke-width="1.2" />
<text x="207.1" y="650.47" font-size="10.2" fill="#000" text-anchor="end" >0.0</text>
<line x1="212.8" y1="646.8" x2="322" y2="646.8" stroke="#000" stroke-width="1.2" />
<line x1="230.7" y1="646.8" x2="230.7" y2="650.8" stroke="#000" stroke-width="1.2" />
<line x1="254.3" y1="646.8" x2="254.3" y2="650.8" stroke="#000" stroke-width="1.2" />
<line x1="279.7" y1="646.8" x2="279.7" y2="650.8" stroke="#000" stroke-width="1.2" />
<line x1="305.1" y1="646.8" x2="305.1" y2="650.8" stroke="#000" stroke-width="1.2" />
<line x1="230.35" y1="555" x2="230.35" y2="578.5" stroke="#000" stroke-width="1.0" />
<line x1="226.85" y1="555" x2="233.85" y2="555" stroke="#000" stroke-width="1.0" />
<line x1="230.35" y1="630" x2="230.35" y2="632.5" stroke="#000" stroke-width="1.0" />
<line x1="226.85" y1="632.5" x2="233.85" y2="632.5" stroke="#000" stroke-width="1.0" />
<rect x="222.5" y="578.5" width="15.7" height="51.5" fill="#7f7f7f" stroke="#000" stroke-width="1.0" />
<line x1="222.5" y1="621.7" x2="238.2" y2="621.7" stroke="#000" stroke-width="1.0" />
<circle cx="230.1" cy="555.1" r="1.8" fill="#000"/>
<circle cx="230.1" cy="600.7" r="1.8" fill="#000"/>
<circle cx="230.1" cy="621.7" r="1.8" fill="#000"/>
<circle cx="230.1" cy="628.1" r="1.8" fill="#000"/>
<circle cx="230.1" cy="632.5" r="1.8" fill="#000"/>
<line x1="255.2" y1="613" x2="255.2" y2="616.4" stroke="#000" stroke-width="1.0" />
<line x1="251.7" y1="613" x2="258.7" y2="613" stroke="#000" stroke-width="1.0" />
<rect x="247" y="616.4" width="16.4" height="10" fill="#7f7f7f" stroke="#000" stroke-width="1.0" />
<line x1="247" y1="626" x2="263.4" y2="626" stroke="#000" stroke-width="1.0" />
<circle cx="254.3" cy="612.9" r="1.8" fill="#000"/>
<circle cx="249" cy="625.2" r="1.8" fill="#000"/>
<circle cx="254.3" cy="625.2" r="1.8" fill="#000"/>
<circle cx="260.7" cy="625.2" r="1.8" fill="#000"/>
<line x1="280.45" y1="615.8" x2="280.45" y2="625.8" stroke="#000" stroke-width="1.0" />
<line x1="276.95" y1="615.8" x2="283.95" y2="615.8" stroke="#000" stroke-width="1.0" />
<line x1="280.45" y1="642.7" x2="280.45" y2="646.7" stroke="#000" stroke-width="1.0" />
<line x1="276.95" y1="646.7" x2="283.95" y2="646.7" stroke="#000" stroke-width="1.0" />
<rect x="272.4" y="625.8" width="16.1" height="16.9" fill="#54a2fc" stroke="#000" stroke-width="1.0" />
<line x1="272.4" y1="637.7" x2="288.5" y2="637.7" stroke="#000" stroke-width="1.0" />
<circle cx="279.7" cy="615.8" r="1.8" fill="#000"/>
<circle cx="281.2" cy="632.5" r="1.8" fill="#000"/>
<circle cx="276.8" cy="634.8" r="1.8" fill="#000"/>
<circle cx="284.1" cy="636.9" r="1.8" fill="#000"/>
<circle cx="279.7" cy="644" r="1.8" fill="#000"/>
<line x1="305.25" y1="596.6" x2="305.25" y2="600.4" stroke="#000" stroke-width="1.0" />
<line x1="301.75" y1="596.6" x2="308.75" y2="596.6" stroke="#000" stroke-width="1.0" />
<line x1="305.25" y1="621.7" x2="305.25" y2="624.3" stroke="#000" stroke-width="1.0" />
<line x1="301.75" y1="624.3" x2="308.75" y2="624.3" stroke="#000" stroke-width="1.0" />
<rect x="297.2" y="600.4" width="16.1" height="21.3" fill="#54a2fc" stroke="#000" stroke-width="1.0" />
<line x1="297.2" y1="612" x2="313.3" y2="612" stroke="#000" stroke-width="1.0" />
<circle cx="305.1" cy="596.6" r="1.8" fill="#000"/>
<circle cx="305.1" cy="608" r="1.8" fill="#000"/>
<circle cx="305.1" cy="615.8" r="1.8" fill="#000"/>
<circle cx="305.1" cy="624.3" r="1.8" fill="#000"/>
<text x="239.7" y="539.3" font-size="9" fill="#000" text-anchor="middle" >ns</text>
<polyline points="227.7,549.3 227.7,544 252.8,544 252.8,549.3" stroke="#000" stroke-width="1.0" fill="none" />
<text x="267.4" y="577.8" font-size="10.5" fill="#000" text-anchor="start" >P = 0.0429</text>
<polyline points="280.3,588.7 280.3,583.1 305.4,583.1 305.4,588.7" stroke="#000" stroke-width="1.0" fill="none" />
<text x="0" y="0" font-size="11.3" fill="#000" text-anchor="middle" transform="translate(187.5 593.8) rotate(-90)" >C7/C9 ratio</text>
<text x="230.7" y="663.1" font-size="10.5" fill="#000" text-anchor="middle" >-</text>
<text x="254.3" y="663.1" font-size="10.5" fill="#000" text-anchor="middle" >+</text>
<text x="279.7" y="663.1" font-size="10.5" fill="#000" text-anchor="middle" >-</text>
<text x="305.1" y="663.1" font-size="10.5" fill="#000" text-anchor="middle" >+</text>
<path d="M220.4,662 Q220.4,666.6 223.4,666.6 L238.3,666.6 Q241.3,666.6 241.3,670 Q241.3,666.6 244.3,666.6 L259.2,666.6 Q262.2,666.6 262.2,662" fill="none" stroke="#555" stroke-width="1"/>
<path d="M270,662 Q270,666.6 273,666.6 L287.9,666.6 Q290.9,666.6 290.9,670 Q290.9,666.6 293.9,666.6 L308.8,666.6 Q311.8,666.6 311.8,662" fill="none" stroke="#555" stroke-width="1"/>
<text x="206.7" y="682" font-size="10.5" fill="#000" text-anchor="start" >sgScramble</text>
<text x="271" y="682" font-size="10.35" fill="#000" text-anchor="start" >sgKdm6a C1</text>
<text x="356.6" y="472.6" font-size="18.5" fill="#000" text-anchor="start" >G</text>
<text x="462.3" y="500.2" font-size="17.8" fill="#000" text-anchor="middle" >PD-1-BV605</text>
<path d="M383.8,610.3 C384.0,610.2 385.5,609.8 386.0,609.5 C386.5,609.2 388.1,608.0 388.5,607.0 C388.9,606.0 390.1,602.2 390.5,600.0 C390.9,597.8 391.7,589.0 392.0,585.0 C392.3,581.0 393.2,564.5 393.5,560.0 C393.8,555.5 394.6,543.0 395.0,540.0 C395.4,537.0 396.6,531.3 397.0,530.0 C397.4,528.7 398.6,527.7 399.0,527.0 C399.4,526.3 400.9,523.1 401.3,523.0 C401.7,522.9 402.7,525.3 403.0,526.0 C403.3,526.7 404.2,529.8 404.5,530.0 C404.8,530.2 405.6,527.7 406.0,528.0 C406.4,528.3 407.6,532.7 408.0,533.0 C408.4,533.3 409.6,530.8 410.0,531.0 C410.4,531.2 411.6,534.7 412.0,535.0 C412.4,535.3 413.6,533.7 414.0,534.0 C414.4,534.3 415.6,538.1 416.0,538.0 C416.4,537.9 417.6,533.1 418.0,533.0 C418.4,532.9 419.6,537.1 420.0,537.0 C420.4,536.9 421.6,532.3 422.0,532.0 C422.4,531.7 423.6,533.2 424.0,534.0 C424.4,534.8 425.6,540.0 426.0,540.0 C426.4,540.0 427.6,534.9 428.0,534.0 C428.4,533.1 429.2,530.6 429.5,531.0 C429.8,531.4 430.6,537.0 431.0,538.0 C431.4,539.0 432.6,540.5 433.0,541.0 C433.4,541.5 434.6,542.4 435.0,543.0 C435.4,543.6 436.6,546.4 437.0,547.0 C437.4,547.6 438.6,548.1 439.0,549.0 C439.4,549.9 440.6,554.5 441.0,556.0 C441.4,557.5 442.6,562.4 443.0,564.0 C443.4,565.6 444.6,570.4 445.0,572.0 C445.4,573.6 446.6,578.5 447.0,580.0 C447.4,581.5 448.6,585.8 449.0,587.0 C449.4,588.2 450.6,591.1 451.0,592.0 C451.4,592.9 452.5,595.1 453.0,596.0 C453.5,596.9 455.4,600.2 456.0,601.0 C456.6,601.8 458.3,603.5 459.0,604.0 C459.7,604.5 462.1,606.0 463.0,606.5 C463.9,607.0 466.9,608.1 468.0,608.5 C469.1,608.9 473.4,609.8 474.0,610.0 C474.6,610.2 474.4,610.3 474.5,610.3Z" fill="#0080ff"/>
<line x1="374.5" y1="610.3" x2="539" y2="610.3" stroke="#6fb4fb" stroke-width="1" />
<path d="M383.8,662.6 C384.0,662.2 385.6,660.0 386.0,659.0 C386.4,658.0 387.6,654.9 388.0,653.0 C388.4,651.1 389.6,644.3 390.0,640.0 C390.4,635.7 391.6,615.5 392.0,610.0 C392.4,604.5 393.2,589.0 393.5,585.0 C393.8,581.0 394.8,571.9 395.0,570.0 C395.2,568.1 395.8,566.6 396.0,566.5 C396.2,566.4 397.2,567.6 397.5,569.0 C397.8,570.4 398.6,577.7 399.0,580.0 C399.4,582.3 400.7,590.1 401.0,592.0 C401.3,593.9 402.0,597.5 402.3,599.3 C402.6,601.1 403.6,608.0 404.0,610.0 C404.4,612.0 405.6,617.5 406.0,619.0 C406.4,620.5 407.6,624.0 408.0,625.0 C408.4,626.0 409.4,628.2 409.7,629.0 C410.0,629.8 410.7,632.8 411.0,633.0 C411.3,633.2 412.6,630.9 413.0,631.0 C413.4,631.1 414.6,633.9 415.0,634.0 C415.4,634.1 416.6,631.9 417.0,632.0 C417.4,632.1 418.6,634.9 419.0,635.0 C419.4,635.1 420.6,633.1 421.0,633.0 C421.4,632.9 422.6,634.1 423.0,634.0 C423.4,633.9 424.6,632.0 425.0,632.0 C425.4,632.0 426.6,634.4 427.0,634.5 C427.4,634.6 428.6,633.2 429.0,633.0 C429.4,632.8 430.6,631.9 431.0,632.0 C431.4,632.1 432.6,634.0 433.0,634.0 C433.4,634.0 434.6,631.6 435.0,631.5 C435.4,631.4 436.6,633.0 437.0,633.0 C437.4,633.0 438.5,631.1 439.0,631.0 C439.5,630.9 441.4,630.8 442.0,631.5 C442.6,632.2 444.0,636.9 444.5,637.7 C445.0,638.6 446.5,639.6 447.0,640.0 C447.5,640.4 448.9,640.8 449.4,641.4 C449.9,642.0 451.4,645.0 452.0,646.0 C452.6,647.0 455.0,650.6 455.6,651.4 C456.2,652.2 457.4,653.4 458.0,654.0 C458.6,654.6 461.1,657.0 461.8,657.6 C462.5,658.2 464.4,659.6 465.0,660.0 C465.6,660.4 467.5,661.0 468.0,661.3 C468.5,661.6 469.8,662.5 470.0,662.6Z" fill="#808080"/>
<rect x="374.5" y="503.4" width="164.5" height="159.2" fill="none" stroke="#000" stroke-width="1" />
<line x1="378" y1="662.6" x2="378" y2="665" stroke="#000" stroke-width="0.8" />
<line x1="382" y1="662.6" x2="382" y2="665" stroke="#000" stroke-width="0.8" />
<line x1="386.5" y1="662.6" x2="386.5" y2="665" stroke="#000" stroke-width="0.8" />
<line x1="390" y1="662.6" x2="390" y2="665" stroke="#000" stroke-width="0.8" />
<line x1="394" y1="662.6" x2="394" y2="665" stroke="#000" stroke-width="0.8" />
<line x1="398.4" y1="662.6" x2="398.4" y2="665" stroke="#000" stroke-width="0.8" />
<line x1="403" y1="662.6" x2="403" y2="665" stroke="#000" stroke-width="0.8" />
<line x1="408" y1="662.6" x2="408" y2="665" stroke="#000" stroke-width="0.8" />
<line x1="420" y1="662.6" x2="420" y2="665" stroke="#000" stroke-width="0.8" />
<line x1="440" y1="662.6" x2="440" y2="665" stroke="#000" stroke-width="0.8" />
<line x1="458" y1="662.6" x2="458" y2="665" stroke="#000" stroke-width="0.8" />
<line x1="466" y1="662.6" x2="466" y2="665" stroke="#000" stroke-width="0.8" />
<line x1="470" y1="662.6" x2="470" y2="665" stroke="#000" stroke-width="0.8" />
<line x1="473" y1="662.6" x2="473" y2="665" stroke="#000" stroke-width="0.8" />
<line x1="475.5" y1="662.6" x2="475.5" y2="665" stroke="#000" stroke-width="0.8" />
<line x1="478" y1="662.6" x2="478" y2="665" stroke="#000" stroke-width="0.8" />
<line x1="480" y1="662.6" x2="480" y2="665" stroke="#000" stroke-width="0.8" />
<line x1="482" y1="662.6" x2="482" y2="665" stroke="#000" stroke-width="0.8" />
<line x1="495" y1="662.6" x2="495" y2="665" stroke="#000" stroke-width="0.8" />
<line x1="505" y1="662.6" x2="505" y2="665" stroke="#000" stroke-width="0.8" />
<line x1="516" y1="662.6" x2="516" y2="665" stroke="#000" stroke-width="0.8" />
<line x1="522" y1="662.6" x2="522" y2="665" stroke="#000" stroke-width="0.8" />
<line x1="526" y1="662.6" x2="526" y2="665" stroke="#000" stroke-width="0.8" />
<line x1="529" y1="662.6" x2="529" y2="665" stroke="#000" stroke-width="0.8" />
<line x1="531.5" y1="662.6" x2="531.5" y2="665" stroke="#000" stroke-width="0.8" />
<line x1="534" y1="662.6" x2="534" y2="665" stroke="#000" stroke-width="0.8" />
<line x1="536" y1="662.6" x2="536" y2="665" stroke="#000" stroke-width="0.8" />
<line x1="398.4" y1="662.6" x2="398.4" y2="666.5" stroke="#000" stroke-width="1" />
<line x1="493.6" y1="662.6" x2="493.6" y2="666.5" stroke="#000" stroke-width="1" />
<line x1="444" y1="662.6" x2="444" y2="666" stroke="#000" stroke-width="1" />
<rect x="383" y="663" width="4" height="3" fill="#000"/>
<text x="398.4" y="680" font-size="10.5" fill="#000" text-anchor="middle" >0</text>
<text x="500.5" y="680" font-size="10.5" fill="#000" text-anchor="start" >10</text>
<text x="512.3" y="675" font-size="7" fill="#000" text-anchor="start" >4</text>
<text x="415.3" y="527.5" font-size="15.2" fill="#000" text-anchor="start" >Tregs + Na-La</text>
<text x="474.9" y="631.4" font-size="14.85" fill="#000" text-anchor="start" >Tregs</text>
<line x1="607.7" y1="516.9" x2="607.7" y2="632.9" stroke="#000" stroke-width="1.2" />
<line x1="602.2" y1="517.5" x2="607.7" y2="517.5" stroke="#000" stroke-width="1.2" />
<text x="601.4" y="521.82" font-size="12" fill="#000" text-anchor="end" >350</text>
<line x1="602.2" y1="546.5" x2="607.7" y2="546.5" stroke="#000" stroke-width="1.2" />
<text x="601.4" y="550.82" font-size="12" fill="#000" text-anchor="end" >300</text>
<line x1="602.2" y1="575.3" x2="607.7" y2="575.3" stroke="#000" stroke-width="1.2" />
<text x="601.4" y="579.62" font-size="12" fill="#000" text-anchor="end" >250</text>
<line x1="602.2" y1="604.3" x2="607.7" y2="604.3" stroke="#000" stroke-width="1.2" />
<text x="601.4" y="608.62" font-size="12" fill="#000" text-anchor="end" >200</text>
<line x1="602.2" y1="632.9" x2="607.7" y2="632.9" stroke="#000" stroke-width="1.2" />
<text x="601.4" y="637.22" font-size="12" fill="#000" text-anchor="end" >150</text>
<line x1="607.1" y1="632.9" x2="669.5" y2="632.9" stroke="#000" stroke-width="1.2" />
<line x1="625.3" y1="632.9" x2="625.3" y2="636.9" stroke="#000" stroke-width="1.2" />
<line x1="651" y1="632.9" x2="651" y2="636.9" stroke="#000" stroke-width="1.2" />
<line x1="625.2" y1="588.9" x2="625.2" y2="591.6" stroke="#000" stroke-width="1.0" />
<line x1="621.2" y1="588.9" x2="629.2" y2="588.9" stroke="#000" stroke-width="1.0" />
<line x1="625.2" y1="603.9" x2="625.2" y2="607" stroke="#000" stroke-width="1.0" />
<line x1="621.2" y1="607" x2="629.2" y2="607" stroke="#000" stroke-width="1.0" />
<rect x="616.6" y="591.6" width="17.2" height="12.3" fill="#7f7f7f" stroke="#000" stroke-width="1.0" />
<line x1="616.6" y1="592.7" x2="633.8" y2="592.7" stroke="#000" stroke-width="1.0" />
<circle cx="625.3" cy="588.9" r="1.8" fill="#000"/>
<circle cx="619.4" cy="591.6" r="1.8" fill="#000"/>
<circle cx="631" cy="591.6" r="1.8" fill="#000"/>
<circle cx="625.3" cy="601.1" r="1.8" fill="#000"/>
<circle cx="625.3" cy="607" r="1.8" fill="#000"/>
<line x1="650.9" y1="547.6" x2="650.9" y2="551.4" stroke="#000" stroke-width="1.0" />
<line x1="646.9" y1="547.6" x2="654.9" y2="547.6" stroke="#000" stroke-width="1.0" />
<rect x="642.2" y="551.4" width="17.4" height="7" fill="#54a2fc" stroke="#000" stroke-width="1.0" />
<line x1="642.2" y1="554.1" x2="659.6" y2="554.1" stroke="#000" stroke-width="1.0" />
<circle cx="650.7" cy="547.6" r="1.8" fill="#000"/>
<circle cx="644.8" cy="557.7" r="1.8" fill="#000"/>
<circle cx="650.7" cy="555.6" r="1.8" fill="#000"/>
<circle cx="658.5" cy="555.2" r="1.8" fill="#000"/>
<polyline points="618.3,540.2 618.3,534 650.7,534 650.7,540.2" stroke="#000" stroke-width="1.0" fill="none" />
<text x="610.5" y="528.3" font-size="12.2" fill="#000" text-anchor="start" >P=2.61x10</text>
<text x="669.5" y="522" font-size="8.5" fill="#000" text-anchor="start" >-6</text>
<text x="0" y="0" font-size="15.2" fill="#000" text-anchor="middle" transform="translate(574 573) rotate(-90)" >MFI of PD1+ Tregs</text>
<text x="578" y="657" font-size="13.6" fill="#000" text-anchor="start" >Na-La</text>
<text x="585.5" y="671.7" font-size="13.6" fill="#000" text-anchor="start" >mM</text>
<text x="625.3" y="657" font-size="13.6" fill="#000" text-anchor="middle" >0</text>
<text x="651.1" y="657" font-size="13.6" fill="#000" text-anchor="middle" >25</text>
<text x="19" y="768.1" font-size="18.5" fill="#000" text-anchor="start" >H</text>
<line x1="54.4" y1="793.5" x2="54.4" y2="912.1" stroke="#000" stroke-width="1.2" />
<line x1="48.9" y1="794.1" x2="54.4" y2="794.1" stroke="#000" stroke-width="1.2" />
<text x="47.7" y="798.35" font-size="11.8" fill="#000" text-anchor="end" >100</text>
<line x1="48.9" y1="823.8" x2="54.4" y2="823.8" stroke="#000" stroke-width="1.2" />
<text x="47.7" y="828.05" font-size="11.8" fill="#000" text-anchor="end" >90</text>
<line x1="48.9" y1="853.2" x2="54.4" y2="853.2" stroke="#000" stroke-width="1.2" />
<text x="47.7" y="857.45" font-size="11.8" fill="#000" text-anchor="end" >80</text>
<line x1="48.9" y1="882.7" x2="54.4" y2="882.7" stroke="#000" stroke-width="1.2" />
<text x="47.7" y="886.95" font-size="11.8" fill="#000" text-anchor="end" >70</text>
<line x1="48.9" y1="912.1" x2="54.4" y2="912.1" stroke="#000" stroke-width="1.2" />
<text x="47.7" y="916.35" font-size="11.8" fill="#000" text-anchor="end" >60</text>
<line x1="53.8" y1="912.1" x2="137.2" y2="912.1" stroke="#000" stroke-width="1.2" />
<line x1="77.5" y1="814.6" x2="77.5" y2="830.1" stroke="#000" stroke-width="1.0" />
<line x1="72.5" y1="814.6" x2="82.5" y2="814.6" stroke="#000" stroke-width="1.0" />
<line x1="77.5" y1="850.9" x2="77.5" y2="857.4" stroke="#000" stroke-width="1.0" />
<line x1="72.5" y1="857.4" x2="82.5" y2="857.4" stroke="#000" stroke-width="1.0" />
<rect x="66.5" y="830.1" width="22" height="20.8" fill="#7f7f7f" stroke="#000" stroke-width="1.0" />
<line x1="66.5" y1="848.8" x2="88.5" y2="848.8" stroke="#000" stroke-width="1.0" />
<circle cx="77.5" cy="814.6" r="2.1" fill="#000"/>
<circle cx="77.5" cy="834.6" r="2.1" fill="#000"/>
<circle cx="69.6" cy="846.4" r="2.1" fill="#000"/>
<circle cx="84.6" cy="849.5" r="2.1" fill="#000"/>
<circle cx="77.5" cy="857.4" r="2.1" fill="#000"/>
<line x1="113" y1="854.3" x2="113" y2="858.7" stroke="#000" stroke-width="1.0" />
<line x1="108" y1="854.3" x2="118" y2="854.3" stroke="#000" stroke-width="1.0" />
<line x1="113" y1="880.3" x2="113" y2="884.5" stroke="#000" stroke-width="1.0" />
<line x1="108" y1="884.5" x2="118" y2="884.5" stroke="#000" stroke-width="1.0" />
<rect x="101.7" y="858.7" width="22.6" height="21.6" fill="#54a2fc" stroke="#000" stroke-width="1.0" />
<line x1="101.7" y1="861.4" x2="124.3" y2="861.4" stroke="#000" stroke-width="1.0" />
<circle cx="113" cy="854.3" r="2.1" fill="#000"/>
<circle cx="105.1" cy="861.4" r="2.1" fill="#000"/>
<circle cx="113" cy="859.5" r="2.1" fill="#000"/>
<circle cx="120.3" cy="861.4" r="2.1" fill="#000"/>
<circle cx="113" cy="879.8" r="2.1" fill="#000"/>
<circle cx="113" cy="884.5" r="2.1" fill="#000"/>
<text x="67" y="795.2" font-size="11.66" fill="#000" text-anchor="start" >P = 0.0104</text>
<polyline points="77.5,807.8 77.5,800.2 113,800.2 113,807.8" stroke="#000" stroke-width="1.0" fill="none" />
<text x="0" y="0" font-size="13" fill="#000" text-anchor="middle" transform="translate(21 851.8) rotate(-90)" >MFI of PD-1 in Tregs</text>
<line x1="199.3" y1="790.3" x2="199.3" y2="910.9" stroke="#000" stroke-width="1.2" />
<line x1="193.8" y1="790.9" x2="199.3" y2="790.9" stroke="#000" stroke-width="1.2" />
<text x="192.6" y="795.33" font-size="12.3" fill="#000" text-anchor="end" >260</text>
<line x1="193.8" y1="815.1" x2="199.3" y2="815.1" stroke="#000" stroke-width="1.2" />
<text x="192.6" y="819.53" font-size="12.3" fill="#000" text-anchor="end" >240</text>
<line x1="193.8" y1="839" x2="199.3" y2="839" stroke="#000" stroke-width="1.2" />
<text x="192.6" y="843.43" font-size="12.3" fill="#000" text-anchor="end" >220</text>
<line x1="193.8" y1="863" x2="199.3" y2="863" stroke="#000" stroke-width="1.2" />
<text x="192.6" y="867.43" font-size="12.3" fill="#000" text-anchor="end" >200</text>
<line x1="193.8" y1="886.9" x2="199.3" y2="886.9" stroke="#000" stroke-width="1.2" />
<text x="192.6" y="891.33" font-size="12.3" fill="#000" text-anchor="end" >180</text>
<line x1="193.8" y1="910.9" x2="199.3" y2="910.9" stroke="#000" stroke-width="1.2" />
<text x="192.6" y="915.33" font-size="12.3" fill="#000" text-anchor="end" >160</text>
<line x1="198.7" y1="910.9" x2="279.6" y2="910.9" stroke="#000" stroke-width="1.2" />
<line x1="221.65" y1="813.6" x2="221.65" y2="819.2" stroke="#000" stroke-width="1.0" />
<line x1="216.65" y1="813.6" x2="226.65" y2="813.6" stroke="#000" stroke-width="1.0" />
<line x1="221.65" y1="842" x2="221.65" y2="849.3" stroke="#000" stroke-width="1.0" />
<line x1="216.65" y1="849.3" x2="226.65" y2="849.3" stroke="#000" stroke-width="1.0" />
<rect x="210.7" y="819.2" width="21.9" height="22.8" fill="#7f7f7f" stroke="#000" stroke-width="1.0" />
<line x1="210.7" y1="829.4" x2="232.6" y2="829.4" stroke="#000" stroke-width="1.0" />
<circle cx="221.2" cy="813.6" r="2.1" fill="#000"/>
<circle cx="221.2" cy="820" r="2.1" fill="#000"/>
<circle cx="221.2" cy="826.5" r="2.1" fill="#000"/>
<circle cx="221.2" cy="832.6" r="2.1" fill="#000"/>
<circle cx="221.2" cy="839" r="2.1" fill="#000"/>
<circle cx="221.2" cy="849.3" r="2.1" fill="#000"/>
<line x1="255.75" y1="874.4" x2="255.75" y2="893.1" stroke="#000" stroke-width="1.0" />
<line x1="250.75" y1="893.1" x2="260.75" y2="893.1" stroke="#000" stroke-width="1.0" />
<rect x="245.1" y="861.2" width="21.3" height="13.2" fill="#54a2fc" stroke="#000" stroke-width="1.0" />
<line x1="245.1" y1="868.2" x2="266.4" y2="868.2" stroke="#000" stroke-width="1.0" />
<circle cx="251.8" cy="861" r="2.1" fill="#000"/>
<circle cx="259.7" cy="861" r="2.1" fill="#000"/>
<circle cx="248" cy="868.2" r="2.1" fill="#000"/>
<circle cx="254.7" cy="868.2" r="2.1" fill="#000"/>
<circle cx="262.6" cy="868.2" r="2.1" fill="#000"/>
<circle cx="255.9" cy="893.1" r="2.1" fill="#000"/>
<text x="210" y="794.2" font-size="11.64" fill="#000" text-anchor="start" >P = 0.0002</text>
<polyline points="221.2,807 221.2,799.6 255.9,799.6 255.9,807" stroke="#000" stroke-width="1.0" fill="none" />
<text x="0" y="0" font-size="13.2" fill="#000" text-anchor="middle" transform="translate(165.8 850) rotate(-90)" >MFI of TGFβ1 in Tregs</text>
<rect x="86.2" y="929.5" width="8.8" height="9.2" fill="#7f7f7f" stroke="#000" stroke-width="1.2" />
<text x="106.4" y="938.4" font-size="11.76" fill="#000" text-anchor="start" xml:space="preserve">Tregs + sgScramble  sup</text>
<rect x="86.2" y="949" width="8.8" height="8.5" fill="#54a2fc" stroke="#000" stroke-width="1.2" />
<text x="106.4" y="957.5" font-size="11.76" fill="#000" text-anchor="start" >Tregs + sgKdm6a C1 sup</text>
<text x="370" y="767.4" font-size="18.5" fill="#000" text-anchor="start" >I</text>
<line x1="458.7" y1="754.2" x2="458.7" y2="917.5" stroke="#000" stroke-width="1.6" />
<line x1="453.2" y1="754.8" x2="458.7" y2="754.8" stroke="#000" stroke-width="1.6" />
<text x="452" y="759.48" font-size="13" fill="#000" text-anchor="end" >100</text>
<line x1="453.2" y1="795.7" x2="458.7" y2="795.7" stroke="#000" stroke-width="1.6" />
<text x="452" y="800.38" font-size="13" fill="#000" text-anchor="end" >80</text>
<line x1="453.2" y1="836.6" x2="458.7" y2="836.6" stroke="#000" stroke-width="1.6" />
<text x="452" y="841.28" font-size="13" fill="#000" text-anchor="end" >60</text>
<line x1="453.2" y1="877.4" x2="458.7" y2="877.4" stroke="#000" stroke-width="1.6" />
<text x="452" y="882.08" font-size="13" fill="#000" text-anchor="end" >40</text>
<line x1="453.2" y1="917.5" x2="458.7" y2="917.5" stroke="#000" stroke-width="1.6" />
<text x="452" y="922.18" font-size="13" fill="#000" text-anchor="end" >20</text>
<line x1="458.1" y1="917.5" x2="626.4" y2="917.5" stroke="#000" stroke-width="1.6" />
<line x1="475.9" y1="917.5" x2="475.9" y2="922.5" stroke="#000" stroke-width="1.6" />
<line x1="502.2" y1="917.5" x2="502.2" y2="922.5" stroke="#000" stroke-width="1.6" />
<line x1="527.9" y1="917.5" x2="527.9" y2="922.5" stroke="#000" stroke-width="1.6" />
<line x1="554.2" y1="917.5" x2="554.2" y2="922.5" stroke="#000" stroke-width="1.6" />
<line x1="580.5" y1="917.5" x2="580.5" y2="922.5" stroke="#000" stroke-width="1.6" />
<line x1="607.2" y1="917.5" x2="607.2" y2="922.5" stroke="#000" stroke-width="1.6" />
<line x1="475.95" y1="840.4" x2="475.95" y2="855" stroke="#000" stroke-width="1.2" />
<line x1="471.95" y1="855" x2="479.95" y2="855" stroke="#000" stroke-width="1.2" />
<rect x="467.2" y="822.6" width="17.5" height="17.8" fill="#7f7f7f" stroke="#000" stroke-width="1.2" />
<line x1="467.2" y1="825.8" x2="484.7" y2="825.8" stroke="#000" stroke-width="1.2" />
<circle cx="471.8" cy="821.4" r="2.2" fill="#000"/>
<circle cx="478.2" cy="821.4" r="2.2" fill="#000"/>
<circle cx="471.8" cy="825.8" r="2.2" fill="#000"/>
<circle cx="479.7" cy="825.8" r="2.2" fill="#000"/>
<circle cx="475.9" cy="855" r="2.2" fill="#000"/>
<line x1="502.2" y1="813.5" x2="502.2" y2="818.5" stroke="#000" stroke-width="1.2" />
<line x1="498.2" y1="818.5" x2="506.2" y2="818.5" stroke="#000" stroke-width="1.2" />
<rect x="493.7" y="788.4" width="17" height="25.1" fill="#54a2fc" stroke="#000" stroke-width="1.2" />
<line x1="493.7" y1="806.5" x2="510.7" y2="806.5" stroke="#000" stroke-width="1.2" />
<circle cx="500.3" cy="787.8" r="2.2" fill="#000"/>
<circle cx="505.5" cy="787.8" r="2.2" fill="#000"/>
<circle cx="498.7" cy="806.5" r="2.2" fill="#000"/>
<circle cx="506" cy="808.8" r="2.2" fill="#000"/>
<circle cx="502.2" cy="818.5" r="2.2" fill="#000"/>
<rect x="519.4" y="848.8" width="17.6" height="21.6" fill="#7f7f7f" stroke="#000" stroke-width="1.2" />
<line x1="519.4" y1="859.6" x2="537" y2="859.6" stroke="#000" stroke-width="1.2" />
<circle cx="526.5" cy="848" r="2.2" fill="#000"/>
<circle cx="529.5" cy="848.5" r="2.2" fill="#000"/>
<circle cx="526.5" cy="869.5" r="2.2" fill="#000"/>
<circle cx="529.7" cy="870.4" r="2.2" fill="#000"/>
<line x1="554.4" y1="853.7" x2="554.4" y2="858.8" stroke="#000" stroke-width="1.2" />
<line x1="550.4" y1="858.8" x2="558.4" y2="858.8" stroke="#000" stroke-width="1.2" />
<rect x="545.9" y="808.3" width="17" height="45.4" fill="#54a2fc" stroke="#000" stroke-width="1.2" />
<line x1="545.9" y1="815.1" x2="562.9" y2="815.1" stroke="#000" stroke-width="1.2" />
<circle cx="551.3" cy="808.3" r="2.2" fill="#000"/>
<circle cx="557.5" cy="808.3" r="2.2" fill="#000"/>
<circle cx="554.8" cy="815.1" r="2.2" fill="#000"/>
<circle cx="554.8" cy="848.8" r="2.2" fill="#000"/>
<circle cx="554.8" cy="858.8" r="2.2" fill="#000"/>
<line x1="580.75" y1="830" x2="580.75" y2="841.5" stroke="#000" stroke-width="1.2" />
<line x1="576.75" y1="830" x2="584.75" y2="830" stroke="#000" stroke-width="1.2" />
<line x1="580.75" y1="881.2" x2="580.75" y2="887.2" stroke="#000" stroke-width="1.2" />
<line x1="576.75" y1="887.2" x2="584.75" y2="887.2" stroke="#000" stroke-width="1.2" />
<rect x="572.4" y="841.5" width="16.7" height="39.7" fill="#7f7f7f" stroke="#000" stroke-width="1.2" />
<line x1="572.4" y1="855" x2="589.1" y2="855" stroke="#000" stroke-width="1.2" />
<circle cx="580.5" cy="830" r="2.2" fill="#000"/>
<circle cx="577.8" cy="855" r="2.2" fill="#000"/>
<circle cx="584.5" cy="852.9" r="2.2" fill="#000"/>
<circle cx="580.5" cy="877.2" r="2.2" fill="#000"/>
<circle cx="580.5" cy="887.2" r="2.2" fill="#000"/>
<line x1="607.1" y1="798.9" x2="607.1" y2="802.1" stroke="#000" stroke-width="1.2" />
<line x1="603.1" y1="798.9" x2="611.1" y2="798.9" stroke="#000" stroke-width="1.2" />
<line x1="607.1" y1="847.5" x2="607.1" y2="857.5" stroke="#000" stroke-width="1.2" />
<line x1="603.1" y1="857.5" x2="611.1" y2="857.5" stroke="#000" stroke-width="1.2" />
<rect x="598.6" y="802.1" width="17" height="45.4" fill="#54a2fc" stroke="#000" stroke-width="1.2" />
<line x1="598.6" y1="824" x2="615.6" y2="824" stroke="#000" stroke-width="1.2" />
<circle cx="607.2" cy="799.4" r="2.2" fill="#000"/>
<circle cx="607.2" cy="803.5" r="2.2" fill="#000"/>
<circle cx="607.2" cy="824" r="2.2" fill="#000"/>
<circle cx="607.2" cy="838.6" r="2.2" fill="#000"/>
<circle cx="607.2" cy="857.5" r="2.2" fill="#000"/>
<text x="461.3" y="770" font-size="13.9" fill="#000" text-anchor="start" >P = 0.0436</text>
<polyline points="473.9,784.6 473.9,777.6 501.6,777.6 501.6,784.6" stroke="#000" stroke-width="1.0" fill="none" />
<text x="508" y="738.2" font-size="13.8" fill="#000" text-anchor="start" >P = 0.0398</text>
<polyline points="527.8,756.3 527.8,746.2 554.8,746.2 554.8,756.3" stroke="#000" stroke-width="1.0" fill="none" />
<text x="560.8" y="777.4" font-size="13.7" fill="#000" text-anchor="start" >P = 0.0363</text>
<polyline points="580.5,791.6 580.5,784.8 607.5,784.8 607.5,791.6" stroke="#000" stroke-width="1.0" fill="none" />
<text x="0" y="0" font-size="16" fill="#000" text-anchor="middle" transform="translate(403.8 837) rotate(-90)" >% of proliferated</text>
<text x="0" y="0" font-size="16" text-anchor="middle" transform="translate(421.3 838) rotate(-90)">T<tspan font-size="11" dy="4">conv</tspan><tspan dy="-4"> CD25-CD4+ cells</tspan></text>
<text x="408.2" y="945" font-size="12.5" fill="#000" text-anchor="middle" >Ratio of</text>
<text x="407.8" y="961" font-size="12.9" fill="#000" text-anchor="middle" >Tconv:Tregs</text>
<text x="475.9" y="950.5" font-size="13" fill="#000" text-anchor="middle" >1:2</text>
<text x="502.2" y="950.5" font-size="13" fill="#000" text-anchor="middle" >1:2</text>
<text x="527.9" y="950.5" font-size="13" fill="#000" text-anchor="middle" >1:1</text>
<text x="554.2" y="950.5" font-size="13" fill="#000" text-anchor="middle" >1:1</text>
<text x="580.5" y="950.5" font-size="13" fill="#000" text-anchor="middle" >2:1</text>
<text x="607.2" y="950.5" font-size="13" fill="#000" text-anchor="middle" >2:1</text>
<rect x="672.8" y="753" width="5.4" height="5.4" fill="#7f7f7f" stroke="#000" stroke-width="1" />
<rect x="672.8" y="854.4" width="5.4" height="5.6" fill="#54a2fc" stroke="#000" stroke-width="1" />
<text x="0" y="0" font-size="11" transform="translate(673.3 768.8) rotate(90)" ><tspan font-size="12.5">T</tspan><tspan font-size="7.5" dy="3">conv</tspan><tspan dy="-3"> co-cultured</tspan></text>
<text x="0" y="0" font-size="11" transform="translate(660.6 766.7) rotate(90)" >with sgScramble</text>
<text x="0" y="0" font-size="11" transform="translate(647.3 765.6) rotate(90)" >sup treated Tregs</text>
<text x="0" y="0" font-size="11" transform="translate(673.3 872.4) rotate(90)" ><tspan font-size="12.5">T</tspan><tspan font-size="7.5" dy="3">conv</tspan><tspan dy="-3"> co-cultured</tspan></text>
<text x="0" y="0" font-size="11" transform="translate(660.6 870.2) rotate(90)" >with sgKdm6a C1</text>
<text x="0" y="0" font-size="11" transform="translate(647.3 869) rotate(90)" >Sup treated Tregs</text>
<line x1="45" y1="3.5" x2="45" y2="303.5" stroke="#f1f1f1" stroke-width="0.8" />
<line x1="92" y1="3.5" x2="92" y2="303.5" stroke="#f1f1f1" stroke-width="0.8" />
<line x1="138.8" y1="3.5" x2="138.8" y2="303.5" stroke="#f1f1f1" stroke-width="0.8" />
<line x1="185.5" y1="3.5" x2="185.5" y2="303.5" stroke="#f1f1f1" stroke-width="0.8" />
<line x1="232.8" y1="3.5" x2="232.8" y2="303.5" stroke="#f1f1f1" stroke-width="0.8" />
<line x1="280" y1="3.5" x2="280" y2="303.5" stroke="#f1f1f1" stroke-width="0.8" />
<line x1="327" y1="3.5" x2="327" y2="303.5" stroke="#f1f1f1" stroke-width="0.8" />
<line x1="25" y1="30.4" x2="340" y2="30.4" stroke="#f1f1f1" stroke-width="0.8" />
<line x1="25" y1="73.8" x2="340" y2="73.8" stroke="#f1f1f1" stroke-width="0.8" />
<line x1="25" y1="115.7" x2="340" y2="115.7" stroke="#f1f1f1" stroke-width="0.8" />
<line x1="25" y1="158.2" x2="340" y2="158.2" stroke="#f1f1f1" stroke-width="0.8" />
<line x1="25" y1="201" x2="340" y2="201" stroke="#f1f1f1" stroke-width="0.8" />
<line x1="25" y1="244" x2="340" y2="244" stroke="#f1f1f1" stroke-width="0.8" />
<line x1="25" y1="286.5" x2="340" y2="286.5" stroke="#f1f1f1" stroke-width="0.8" />
<path d="M101.5,148.9 C103.5,146.9 106.5,145.4 108.8,143.5 C111.1,141.6 113.5,140.0 115.3,137.7 C117.0,135.4 117.9,132.5 119.3,129.9 C120.7,127.3 121.6,124.1 123.4,121.9 C125.2,119.7 127.5,118.2 129.9,116.8 C132.3,115.4 135.2,114.4 138.0,113.4 C140.8,112.4 143.5,111.7 146.4,111.0 C149.3,110.3 152.9,109.0 155.2,109.5 C157.5,110.0 158.7,112.1 160.0,114.0 C161.3,115.9 161.7,118.9 163.0,121.0 C164.3,123.1 166.0,125.0 168.0,126.5 C170.0,128.0 172.7,128.8 175.0,130.0 C177.3,131.2 179.5,132.6 182.0,134.0 C184.5,135.4 187.3,137.1 190.0,138.5 C192.7,139.9 195.3,141.2 198.0,142.5 C200.7,143.8 203.3,144.8 206.0,146.0 C208.7,147.2 211.8,148.7 214.0,150.0 C216.2,151.3 218.1,152.6 219.5,154.0 C220.9,155.4 221.4,156.2 222.6,158.2 C223.8,160.2 225.2,163.5 226.7,166.1 C228.2,168.7 229.7,170.9 231.4,173.7 C233.2,176.5 235.8,180.1 237.2,182.9 C238.6,185.8 239.2,188.3 240.0,190.8 C240.8,193.3 241.2,195.2 242.0,197.8 C242.8,200.4 243.8,203.3 245.0,206.1 C246.2,208.9 247.7,212.0 249.0,214.6 C250.3,217.2 251.6,219.0 252.6,221.6 C253.6,224.2 254.5,227.6 255.2,230.4 C255.9,233.2 256.5,235.8 256.6,238.4 C256.8,241.1 257.1,243.7 256.1,246.3 C255.1,248.9 253.0,252.5 250.8,254.2 C248.6,255.9 245.4,255.3 242.9,256.5 C240.4,257.7 237.6,259.5 235.8,261.3 C234.0,263.1 233.6,264.9 232.3,267.1 C231.0,269.3 229.8,272.4 227.9,274.5 C226.0,276.6 223.5,278.3 220.8,279.4 C218.2,280.5 214.8,280.5 212.0,281.2 C209.2,281.9 206.5,282.9 203.7,283.7 C200.9,284.5 198.0,285.0 195.4,286.0 C192.8,287.0 190.8,288.8 188.1,289.6 C185.4,290.4 181.9,290.9 179.0,290.9 C176.1,290.9 173.5,290.4 170.8,289.6 C168.1,288.8 165.1,287.7 163.0,286.0 C160.9,284.3 159.4,282.1 158.0,279.6 C156.6,277.1 156.3,273.2 154.7,270.8 C153.1,268.4 150.9,266.1 148.4,265.0 C145.9,263.9 142.6,264.8 139.8,264.1 C137.1,263.4 134.6,261.7 131.9,261.0 C129.2,260.3 126.5,260.6 123.9,259.9 C121.3,259.2 118.3,258.4 116.1,256.8 C113.9,255.2 112.0,252.8 110.6,250.4 C109.2,248.0 108.6,244.9 107.5,242.2 C106.4,239.4 105.5,236.5 104.2,233.9 C102.9,231.3 101.4,228.9 99.6,226.6 C97.8,224.3 95.1,222.2 93.2,219.9 C91.3,217.6 89.5,215.5 88.1,213.0 C86.7,210.5 85.6,207.6 85.0,204.7 C84.4,201.8 84.4,198.5 84.5,195.6 C84.6,192.7 85.3,190.3 85.6,187.4 C85.8,184.5 85.5,181.2 86.0,178.3 C86.5,175.4 87.6,172.8 88.7,170.1 C89.8,167.4 91.3,164.8 92.7,162.4 C94.1,160.0 95.4,157.8 96.9,155.5 C98.4,153.2 99.5,150.9 101.5,148.9Z" fill="#00CED1" />
<path d="M170.8,98.0 C171.6,96.2 173.8,94.4 176.0,93.0 C178.2,91.6 181.2,90.4 184.0,89.5 C186.8,88.6 189.8,88.0 193.0,87.5 C196.2,87.0 199.3,86.8 203.0,86.5 C206.7,86.2 211.2,85.8 215.0,86.0 C218.8,86.2 222.7,86.5 226.0,87.5 C229.3,88.5 232.5,90.1 235.0,92.0 C237.5,93.9 240.2,96.5 241.0,99.0 C241.8,101.5 240.8,104.7 240.0,107.0 C239.2,109.3 237.2,110.8 236.0,113.0 C234.8,115.2 234.1,117.3 233.0,120.0 C231.9,122.7 230.5,126.0 229.2,129.0 C227.9,132.0 226.9,135.7 225.0,138.0 C223.1,140.3 220.7,142.1 218.0,143.0 C215.3,143.9 212.2,144.2 209.0,143.5 C205.8,142.8 202.4,141.2 199.0,139.0 C195.6,136.8 191.4,132.9 188.4,130.0 C185.4,127.1 183.2,124.7 181.0,121.5 C178.8,118.3 176.9,113.9 175.2,111.0 C173.5,108.1 171.7,106.2 171.0,104.0 C170.3,101.8 170.0,99.8 170.8,98.0Z" fill="#6495ED" />
<path d="M229.0,93.0 C229.3,90.5 230.2,86.7 232.0,84.0 C233.8,81.3 237.0,78.9 240.0,77.0 C243.0,75.1 247.0,74.2 250.0,72.5 C253.0,70.8 255.3,68.6 258.0,67.0 C260.7,65.4 263.3,63.8 266.0,63.0 C268.7,62.2 271.5,61.5 274.0,62.0 C276.5,62.5 278.9,64.2 281.0,66.0 C283.1,67.8 285.2,70.7 286.5,73.0 C287.8,75.3 289.2,77.5 289.0,80.0 C288.8,82.5 286.5,85.3 285.0,88.0 C283.5,90.7 282.5,94.0 280.0,96.0 C277.5,98.0 273.7,98.8 270.0,100.0 C266.3,101.2 262.0,102.2 258.0,103.0 C254.0,103.8 249.7,105.0 246.0,105.0 C242.3,105.0 238.7,104.0 236.0,103.0 C233.3,102.0 231.2,100.7 230.0,99.0 C228.8,97.3 228.7,95.5 229.0,93.0Z" fill="#778899" />
<path d="M276.0,85.0 C277.5,83.6 281.5,81.3 284.0,81.5 C286.5,81.7 289.5,83.9 291.0,86.0 C292.5,88.1 293.3,91.5 293.0,94.0 C292.7,96.5 291.0,99.6 289.0,101.0 C287.0,102.4 283.2,103.2 281.0,102.5 C278.8,101.8 276.5,99.1 275.5,97.0 C274.5,94.9 274.9,92.0 275.0,90.0 C275.1,88.0 274.5,86.4 276.0,85.0Z" fill="#CD853F" />
<path d="M252.0,124.0 C253.7,121.8 258.0,119.3 262.0,118.0 C266.0,116.7 271.7,116.2 276.0,116.0 C280.3,115.8 284.7,116.2 288.0,117.0 C291.3,117.8 294.3,119.0 296.0,121.0 C297.7,123.0 299.0,126.5 298.0,129.0 C297.0,131.5 294.3,134.3 290.0,136.0 C285.7,137.7 277.3,138.8 272.0,139.0 C266.7,139.2 261.3,138.3 258.0,137.0 C254.7,135.7 253.0,133.2 252.0,131.0 C251.0,128.8 250.3,126.2 252.0,124.0Z" fill="#FF7F50" />
<path d="M248.0,117.0 C248.8,114.9 252.3,112.2 255.0,111.5 C257.7,110.8 262.2,111.4 264.0,113.0 C265.8,114.6 267.0,118.8 266.0,121.0 C265.0,123.2 260.7,125.5 258.0,126.0 C255.3,126.5 251.7,125.5 250.0,124.0 C248.3,122.5 247.2,119.1 248.0,117.0Z" fill="#7FEBCB" />
<path d="M249.5,160.0 C250.1,156.0 250.9,151.2 253.0,148.0 C255.1,144.8 258.2,142.5 262.0,141.0 C265.8,139.5 271.0,139.3 276.0,139.0 C281.0,138.7 286.8,139.3 292.0,139.0 C297.2,138.7 302.7,136.7 307.0,137.0 C311.3,137.3 315.2,138.8 318.0,141.0 C320.8,143.2 322.6,146.7 324.0,150.0 C325.4,153.3 326.2,157.2 326.5,161.0 C326.8,164.8 326.9,169.3 326.0,173.0 C325.1,176.7 323.3,180.2 321.0,183.0 C318.7,185.8 315.8,187.8 312.0,189.5 C308.2,191.2 302.5,192.5 298.0,193.5 C293.5,194.5 289.5,195.2 285.0,195.5 C280.5,195.8 275.2,195.8 271.0,195.0 C266.8,194.2 263.0,193.0 260.0,191.0 C257.0,189.0 254.8,186.2 253.0,183.0 C251.2,179.8 250.1,175.8 249.5,172.0 C248.9,168.2 248.9,164.0 249.5,160.0Z" fill="#FF7F50" />
<path d="M268.0,139.0 C267.8,136.3 267.8,132.7 269.0,130.0 C270.2,127.3 272.2,124.8 275.0,123.0 C277.8,121.2 281.8,119.8 286.0,119.0 C290.2,118.2 295.8,117.7 300.0,118.0 C304.2,118.3 308.3,119.3 311.0,121.0 C313.7,122.7 316.0,125.8 316.0,128.0 C316.0,130.2 313.0,132.2 311.0,134.0 C309.0,135.8 305.7,136.9 304.0,139.0 C302.3,141.1 303.2,144.7 301.0,146.5 C298.8,148.3 294.8,149.4 291.0,150.0 C287.2,150.6 281.5,150.7 278.0,150.0 C274.5,149.3 271.7,147.8 270.0,146.0 C268.3,144.2 268.2,141.7 268.0,139.0Z" fill="#FF8C00" />
<path d="M289.0,114.0 C290.6,112.2 294.7,110.7 298.0,110.5 C301.3,110.3 306.2,111.6 309.0,113.0 C311.8,114.4 314.2,116.8 315.0,119.0 C315.8,121.2 315.7,124.9 314.0,126.5 C312.3,128.1 308.3,128.4 305.0,128.5 C301.7,128.6 296.8,128.2 294.0,127.0 C291.2,125.8 289.3,123.2 288.5,121.0 C287.7,118.8 287.4,115.8 289.0,114.0Z" fill="#B0C4DE" />
<path d="M237.0,132.0 C237.8,130.2 240.8,129.7 243.0,129.5 C245.2,129.3 248.3,129.9 250.0,131.0 C251.7,132.1 252.8,134.2 253.0,136.0 C253.2,137.8 252.5,140.3 251.0,141.5 C249.5,142.7 246.2,143.2 244.0,143.0 C241.8,142.8 239.2,141.8 238.0,140.0 C236.8,138.2 236.2,133.8 237.0,132.0Z" fill="#1E90FF" />
<path d="M229.0,143.0 C229.9,141.5 232.8,139.5 235.0,139.0 C237.2,138.5 240.2,139.1 242.0,140.0 C243.8,140.9 245.8,142.8 246.0,144.5 C246.2,146.2 244.8,148.9 243.0,150.0 C241.2,151.1 237.2,151.3 235.0,151.0 C232.8,150.7 230.5,149.3 229.5,148.0 C228.5,146.7 228.1,144.5 229.0,143.0Z" fill="#00BFFF" />
<path d="M248.0,140.0 C248.7,138.3 250.6,136.3 252.0,136.0 C253.4,135.7 255.7,136.3 256.5,138.0 C257.3,139.7 257.8,144.2 257.0,146.0 C256.2,147.8 253.5,149.0 252.0,149.0 C250.5,149.0 248.7,147.5 248.0,146.0 C247.3,144.5 247.3,141.7 248.0,140.0Z" fill="#FF8C00" />
<path d="M193.5,74.0 C193.2,70.9 195.2,68.1 197.0,66.0 C198.8,63.9 201.3,62.4 204.0,61.5 C206.7,60.6 209.8,60.4 213.0,60.5 C216.2,60.6 220.0,61.0 223.0,62.0 C226.0,63.0 229.2,64.5 231.0,66.5 C232.8,68.5 234.0,71.4 234.0,74.0 C234.0,76.6 233.2,79.9 231.0,82.0 C228.8,84.1 224.7,85.7 221.0,86.5 C217.3,87.3 212.5,87.3 208.8,87.0 C205.1,86.7 201.6,86.7 199.0,84.5 C196.4,82.3 193.8,77.1 193.5,74.0Z" fill="#7FFFD4" />
<path d="M172.5,70.0 C172.7,67.6 173.6,64.8 175.0,63.0 C176.4,61.2 178.7,60.1 181.0,59.5 C183.3,58.9 186.3,59.0 189.0,59.3 C191.7,59.5 194.9,59.9 197.0,61.0 C199.1,62.1 201.2,64.0 201.5,66.0 C201.8,68.0 200.2,70.8 199.0,73.0 C197.8,75.2 196.0,77.2 194.0,79.0 C192.0,80.8 189.4,82.8 187.0,83.5 C184.6,84.2 181.7,84.5 179.5,83.5 C177.3,82.5 175.2,79.8 174.0,77.5 C172.8,75.2 172.3,72.4 172.5,70.0Z" fill="#0000FF" />
<path d="M179.5,42.0 C179.3,39.8 179.9,37.0 181.0,35.0 C182.1,33.0 183.7,31.2 186.0,30.0 C188.3,28.8 191.7,27.6 195.0,27.5 C198.3,27.4 202.8,28.1 206.0,29.5 C209.2,30.9 212.2,33.4 214.0,36.0 C215.8,38.6 217.2,42.2 217.0,45.0 C216.8,47.8 215.0,51.0 213.0,53.0 C211.0,55.0 207.8,56.2 205.0,57.0 C202.2,57.8 198.8,58.0 196.0,57.5 C193.2,57.0 190.3,55.5 188.0,54.0 C185.7,52.5 183.4,50.5 182.0,48.5 C180.6,46.5 179.7,44.2 179.5,42.0Z" fill="#FFFF00" />
<path d="M185.5,26.0 C186.1,24.3 188.1,22.3 190.0,21.0 C191.9,19.7 194.5,18.6 197.0,18.0 C199.5,17.4 202.7,17.0 205.0,17.5 C207.3,18.0 209.7,19.2 211.0,21.0 C212.3,22.8 213.5,25.8 213.0,28.0 C212.5,30.2 210.3,32.8 208.0,34.0 C205.7,35.2 201.8,35.5 199.0,35.5 C196.2,35.5 193.1,34.8 191.0,34.0 C188.9,33.2 187.4,32.3 186.5,31.0 C185.6,29.7 184.9,27.7 185.5,26.0Z" fill="#90EE90" />
<path d="M207.0,20.0 C208.2,18.8 211.8,18.2 214.0,18.5 C216.2,18.8 218.3,20.0 220.0,21.5 C221.7,23.0 223.6,25.4 224.0,27.5 C224.4,29.6 223.8,32.7 222.5,34.0 C221.2,35.3 217.9,35.9 216.0,35.5 C214.1,35.1 212.6,33.2 211.0,31.5 C209.4,29.8 207.2,27.4 206.5,25.5 C205.8,23.6 205.8,21.2 207.0,20.0Z" fill="#8B0000" />
<path d="M213.5,31.0 C214.8,29.6 218.7,29.1 221.0,29.5 C223.3,29.9 226.0,31.6 227.5,33.5 C229.0,35.4 229.9,38.7 230.0,41.0 C230.1,43.3 229.5,46.2 228.0,47.5 C226.5,48.8 223.2,49.0 221.0,48.5 C218.8,48.0 216.3,46.2 215.0,44.5 C213.7,42.8 213.2,40.2 213.0,38.0 C212.8,35.8 212.2,32.4 213.5,31.0Z" fill="#FFB6C1" />
<path d="M200.0,45.0 C201.2,42.9 204.5,41.9 207.0,41.5 C209.5,41.1 212.8,41.4 215.0,42.5 C217.2,43.6 219.3,45.8 220.0,48.0 C220.7,50.2 220.2,54.1 219.0,56.0 C217.8,57.9 215.3,58.9 213.0,59.5 C210.7,60.1 207.2,60.4 205.0,59.5 C202.8,58.6 200.3,56.4 199.5,54.0 C198.7,51.6 198.8,47.1 200.0,45.0Z" fill="#20B2AA" />
<path d="M218.5,47.0 C220.0,45.8 223.9,45.0 226.0,45.5 C228.1,46.0 229.8,48.1 231.0,50.0 C232.2,51.9 233.2,54.8 233.0,57.0 C232.8,59.2 231.5,62.2 230.0,63.5 C228.5,64.8 225.8,65.1 224.0,64.5 C222.2,63.9 220.2,61.9 219.0,60.0 C217.8,58.1 217.1,55.2 217.0,53.0 C216.9,50.8 217.0,48.2 218.5,47.0Z" fill="#BA55D3" />
<path d="M141.0,50.0 C141.6,48.2 143.2,45.7 145.0,44.5 C146.8,43.3 149.7,42.8 152.0,43.0 C154.3,43.2 157.0,44.2 159.0,45.5 C161.0,46.8 163.0,49.1 164.0,51.0 C165.0,52.9 165.7,55.2 165.0,57.0 C164.3,58.8 162.2,60.7 160.0,61.5 C157.8,62.3 154.5,62.4 152.0,62.0 C149.5,61.6 146.8,60.2 145.0,59.0 C143.2,57.8 142.2,56.5 141.5,55.0 C140.8,53.5 140.4,51.8 141.0,50.0Z" fill="#FFD700" />
<path d="M143.0,58.0 C144.0,57.5 147.8,58.2 150.0,59.0 C152.2,59.8 156.0,61.6 156.0,62.5 C156.0,63.4 152.0,64.6 150.0,64.5 C148.0,64.4 145.2,63.1 144.0,62.0 C142.8,60.9 142.0,58.5 143.0,58.0Z" fill="#6495ED" />
<path d="M104.0,80.0 C104.1,76.7 104.5,72.7 106.0,70.0 C107.5,67.3 110.3,65.2 113.0,64.0 C115.7,62.8 119.0,62.9 122.0,63.0 C125.0,63.1 128.4,63.3 131.0,64.5 C133.6,65.7 135.9,67.8 137.5,70.0 C139.1,72.2 140.1,75.2 140.5,78.0 C140.9,80.8 140.7,83.9 140.0,86.5 C139.3,89.1 138.2,91.6 136.5,93.5 C134.8,95.4 132.6,97.1 130.0,98.0 C127.4,98.9 124.2,99.2 121.0,99.0 C117.8,98.8 113.6,98.5 111.0,97.0 C108.4,95.5 106.7,92.8 105.5,90.0 C104.3,87.2 103.9,83.3 104.0,80.0Z" fill="#DAA520" />
<path d="M94.5,81.0 C94.2,79.4 94.6,77.2 95.5,76.0 C96.4,74.8 98.1,73.9 100.0,73.5 C101.9,73.1 105.2,72.8 107.0,73.5 C108.8,74.2 110.5,76.2 111.0,78.0 C111.5,79.8 111.2,82.7 110.0,84.0 C108.8,85.3 106.2,85.8 104.0,86.0 C101.8,86.2 98.6,86.3 97.0,85.5 C95.4,84.7 94.8,82.6 94.5,81.0Z" fill="#A9A9A9" />
<path d="M93.0,93.0 C92.9,91.2 92.3,89.2 93.5,88.0 C94.7,86.8 98.2,85.8 100.0,86.0 C101.8,86.2 103.9,87.3 104.5,89.0 C105.1,90.7 104.5,94.1 103.5,96.0 C102.5,97.9 100.1,100.1 98.5,100.5 C96.9,100.9 94.9,99.8 94.0,98.5 C93.1,97.2 93.1,94.8 93.0,93.0Z" fill="#008080" />
<path d="M101.0,94.0 C100.7,91.9 100.5,89.2 102.0,88.0 C103.5,86.8 107.6,86.3 110.0,86.5 C112.4,86.7 115.3,87.5 116.5,89.0 C117.7,90.5 117.8,93.6 117.0,95.5 C116.2,97.4 114.2,99.7 112.0,100.5 C109.8,101.3 105.8,101.6 104.0,100.5 C102.2,99.4 101.3,96.1 101.0,94.0Z" fill="#008000" />
<path d="M112.5,93.0 C112.6,91.4 112.3,89.4 113.5,88.5 C114.7,87.6 117.8,86.9 119.5,87.5 C121.2,88.1 123.2,90.2 124.0,92.0 C124.8,93.8 125.0,96.6 124.0,98.0 C123.0,99.4 119.8,100.5 118.0,100.5 C116.2,100.5 113.9,99.2 113.0,98.0 C112.1,96.8 112.4,94.6 112.5,93.0Z" fill="#DC143C" />
<path d="M64.0,106.0 C66.8,104.3 69.3,102.2 72.0,102.0 C74.7,101.8 77.3,103.2 80.0,104.5 C82.7,105.8 85.5,107.8 88.0,110.0 C90.5,112.2 93.8,115.3 95.0,118.0 C96.2,120.7 95.9,123.3 95.5,126.0 C95.1,128.7 93.5,131.3 92.5,134.0 C91.5,136.7 90.7,139.3 89.5,142.0 C88.3,144.7 87.3,147.7 85.5,150.0 C83.7,152.3 81.1,154.8 78.5,156.0 C75.9,157.2 72.8,157.7 70.0,157.5 C67.2,157.3 64.7,156.2 62.0,155.0 C59.3,153.8 56.8,151.5 54.0,150.0 C51.2,148.5 47.4,147.5 45.0,146.0 C42.6,144.5 40.8,143.0 39.5,141.0 C38.2,139.0 37.4,136.3 37.5,134.0 C37.6,131.7 38.7,129.4 40.0,127.0 C41.3,124.6 43.0,122.0 45.5,119.5 C48.0,117.0 51.9,114.2 55.0,112.0 C58.1,109.8 61.2,107.7 64.0,106.0Z" fill="#87CEFA" />
<path d="M48.0,117.0 C50.5,115.2 53.5,113.5 56.0,113.0 C58.5,112.5 61.0,112.8 63.0,114.0 C65.0,115.2 66.4,118.0 68.0,120.0 C69.6,122.0 71.5,124.0 72.5,126.0 C73.5,128.0 74.4,130.2 74.0,132.0 C73.6,133.8 72.0,135.9 70.0,137.0 C68.0,138.1 64.7,138.5 62.0,138.5 C59.3,138.5 56.7,137.4 54.0,137.0 C51.3,136.6 48.2,136.9 46.0,136.0 C43.8,135.1 41.8,133.5 41.0,131.5 C40.2,129.5 39.8,126.4 41.0,124.0 C42.2,121.6 45.5,118.8 48.0,117.0Z" fill="#8B008B" />
<path d="M38.0,142.0 C39.7,140.4 43.2,140.2 46.0,140.5 C48.8,140.8 52.3,142.4 55.0,144.0 C57.7,145.6 59.5,148.5 62.0,150.0 C64.5,151.5 67.6,151.6 70.0,153.0 C72.4,154.4 75.8,156.3 76.5,158.5 C77.2,160.7 76.1,163.8 74.5,166.0 C72.9,168.2 70.1,170.4 67.0,172.0 C63.9,173.6 59.5,175.1 56.0,175.5 C52.5,175.9 48.7,175.6 46.0,174.5 C43.3,173.4 41.6,171.4 40.0,169.0 C38.4,166.6 37.2,163.2 36.5,160.0 C35.8,156.8 35.8,153.0 36.0,150.0 C36.2,147.0 36.3,143.6 38.0,142.0Z" fill="#00FFFF" />
<path d="M232.0,162.0 C232.5,160.9 234.8,160.3 236.0,160.5 C237.2,160.7 238.8,161.8 239.0,163.0 C239.2,164.2 238.5,166.8 237.5,167.5 C236.5,168.2 233.9,167.9 233.0,167.0 C232.1,166.1 231.5,163.1 232.0,162.0Z" fill="#FFD700" />
<circle cx="235.5" cy="164.5" r="1.4" fill="#FF0000"/>
<line x1="236.2" y1="165" x2="249.9" y2="191.7" stroke="#000" stroke-width="0.8" />
<path fill="#6495ED" d="M232.8,84.8h1.6v1.6h-1.6zM247.7,96.1h1v1h-1zM246.4,91.7h1.3v1.3h-1.3zM243.3,105.2h1.6v1.6h-1.6zM226.5,87.3h1.3v1.3h-1.3zM252.0,88.0h1.3v1.3h-1.3zM228.9,82.6h1.6v1.6h-1.6zM247.1,100.9h1.3v1.3h-1.3zM240.2,80.7h1.6v1.6h-1.6zM241.3,104.3h1v1h-1zM248.5,81.5h1.6v1.6h-1.6zM229.3,95.5h1v1h-1zM244.8,92.3h1v1h-1zM247.1,107.9h1v1h-1zM244.7,79.1h1v1h-1zM232.0,83.7h1.3v1.3h-1.3zM238.2,107.1h1v1h-1zM233.1,101.4h1.6v1.6h-1.6zM239.3,109.2h1v1h-1zM229.9,97.8h1v1h-1zM236.9,110.0h1.6v1.6h-1.6zM243.0,98.7h1.6v1.6h-1.6zM242.0,80.5h1.6v1.6h-1.6zM249.8,95.5h1.6v1.6h-1.6zM247.0,84.1h1.3v1.3h-1.3zM247.7,96.3h1v1h-1zM235.4,100.9h1.3v1.3h-1.3zM235.2,94.8h1.6v1.6h-1.6zM252.1,86.1h1.3v1.3h-1.3zM235.1,104.5h1.6v1.6h-1.6zM247.0,103.0h1.3v1.3h-1.3zM234.0,106.7h1.3v1.3h-1.3zM233.5,81.5h1.3v1.3h-1.3zM245.7,108.6h1.3v1.3h-1.3zM237.8,97.3h1.3v1.3h-1.3zM238.1,100.6h1.6v1.6h-1.6zM243.6,103.9h1.6v1.6h-1.6zM238.6,105.0h1.6v1.6h-1.6zM237.7,108.7h1v1h-1zM228.4,85.1h1.6v1.6h-1.6zM237.3,84.2h1.6v1.6h-1.6zM252.2,97.1h1.3v1.3h-1.3zM239.6,86.6h1.3v1.3h-1.3zM253.0,97.7h1v1h-1zM244.6,81.7h1v1h-1zM232.3,88.5h1.3v1.3h-1.3zM248.4,90.3h1.3v1.3h-1.3zM244.8,104.3h1v1h-1zM228.0,100.4h1v1h-1zM250.6,85.5h1.3v1.3h-1.3zM249.0,89.2h1.3v1.3h-1.3zM246.6,92.2h1.6v1.6h-1.6zM232.6,105.3h1.3v1.3h-1.3zM238.9,105.9h1.3v1.3h-1.3zM231.8,93.3h1.3v1.3h-1.3zM239.6,103.5h1.6v1.6h-1.6zM241.6,89.3h1.3v1.3h-1.3zM246.1,83.7h1.3v1.3h-1.3zM242.4,93.4h1v1h-1zM226.1,94.2h1.6v1.6h-1.6zM241.9,91.6h1.6v1.6h-1.6zM231.2,95.3h1.3v1.3h-1.3zM233.5,97.6h1.6v1.6h-1.6zM243.9,98.3h1v1h-1zM229.3,87.8h1.6v1.6h-1.6zM253.5,92.4h1.3v1.3h-1.3zM250.3,97.2h1v1h-1z"/>
<path fill="#778899" d="M240.2,77.9h1.6v1.6h-1.6zM249.8,101.4h1v1h-1zM230.9,103.7h1.3v1.3h-1.3zM242.5,101.7h1v1h-1zM235.8,84.3h1.6v1.6h-1.6zM244.7,98.3h1.6v1.6h-1.6zM231.8,93.2h1.6v1.6h-1.6zM246.0,84.7h1v1h-1zM234.1,86.4h1.6v1.6h-1.6zM252.3,99.5h1v1h-1zM231.9,96.6h1.6v1.6h-1.6zM237.7,97.4h1v1h-1zM240.3,80.2h1v1h-1zM248.6,88.9h1v1h-1zM240.2,84.0h1v1h-1zM243.2,94.1h1.3v1.3h-1.3zM226.7,94.0h1.6v1.6h-1.6zM246.1,102.0h1.6v1.6h-1.6zM246.7,79.1h1v1h-1zM231.6,100.4h1v1h-1zM249.1,105.3h1v1h-1zM245.1,89.4h1.6v1.6h-1.6zM244.9,95.9h1v1h-1zM229.3,94.0h1.3v1.3h-1.3zM245.2,94.0h1v1h-1zM241.4,103.2h1.6v1.6h-1.6zM242.1,88.1h1.6v1.6h-1.6zM246.9,85.4h1.6v1.6h-1.6zM247.8,82.4h1v1h-1zM227.0,91.8h1v1h-1zM246.1,82.2h1.3v1.3h-1.3zM242.6,82.2h1.3v1.3h-1.3zM237.0,98.7h1v1h-1zM229.1,101.5h1v1h-1zM240.2,100.3h1.6v1.6h-1.6zM237.0,106.2h1v1h-1zM240.5,99.2h1v1h-1zM245.5,84.9h1v1h-1zM242.4,102.1h1.3v1.3h-1.3zM231.8,100.0h1v1h-1zM240.6,78.8h1v1h-1zM247.8,93.6h1v1h-1zM244.1,86.6h1.3v1.3h-1.3zM230.8,91.5h1.3v1.3h-1.3zM234.8,100.8h1v1h-1zM238.9,86.0h1.6v1.6h-1.6zM243.4,103.2h1v1h-1zM236.7,102.0h1.6v1.6h-1.6zM251.2,98.0h1.6v1.6h-1.6zM239.7,92.2h1.3v1.3h-1.3zM251.3,106.1h1.3v1.3h-1.3zM234.8,94.3h1.3v1.3h-1.3zM230.8,104.9h1.6v1.6h-1.6zM246.4,86.7h1v1h-1zM246.8,92.7h1.3v1.3h-1.3zM231.1,101.2h1.6v1.6h-1.6zM235.8,96.4h1.6v1.6h-1.6zM232.0,81.2h1v1h-1zM240.8,86.9h1v1h-1zM233.5,89.6h1.6v1.6h-1.6zM244.4,103.3h1v1h-1zM244.0,86.3h1v1h-1zM243.0,87.2h1.6v1.6h-1.6zM233.0,107.1h1v1h-1zM227.7,84.9h1.3v1.3h-1.3zM240.0,94.3h1v1h-1zM243.3,77.9h1.6v1.6h-1.6z"/>
<path fill="#7FFFD4" d="M236.2,92.9h1v1h-1zM238.5,110.4h1.3v1.3h-1.3zM229.9,93.2h1v1h-1zM235.8,82.5h1.6v1.6h-1.6zM240.2,85.8h1v1h-1zM249.7,107.2h1.3v1.3h-1.3zM251.5,84.8h1.3v1.3h-1.3zM235.2,105.7h1v1h-1zM238.0,95.2h1.6v1.6h-1.6zM237.8,110.2h1.6v1.6h-1.6zM248.9,84.7h1.6v1.6h-1.6zM243.1,110.3h1.6v1.6h-1.6zM250.9,86.7h1.3v1.3h-1.3zM231.5,88.8h1v1h-1zM233.6,90.6h1.3v1.3h-1.3zM241.2,102.7h1v1h-1z"/>
<path fill="#008000" d="M226.0,90.4h1.6v1.6h-1.6z"/>
<path fill="#8A2BE2" d="M232.0,96.4h1.6v1.6h-1.6zM244.7,93.0h1v1h-1zM233.6,100.2h1v1h-1zM244.0,100.1h1.3v1.3h-1.3zM250.8,97.1h1.6v1.6h-1.6z"/>
<path fill="#FFFF00" d="M234.7,81.6h1v1h-1zM241.1,86.6h1.6v1.6h-1.6z"/>
<path fill="#0000FF" d="M234.5,107.3h1.3v1.3h-1.3z"/>
<path fill="#FF0000" d="M242.0,87.6h1v1h-1z"/>
<path fill="#8A2BE2" d="M244.4,120.9h1v1h-1zM246.1,114.0h1.6v1.6h-1.6z"/>
<path fill="#6495ED" d="M244.3,114.6h1v1h-1zM244.0,112.2h1.3v1.3h-1.3zM239.9,107.4h1.6v1.6h-1.6zM249.6,112.1h1.3v1.3h-1.3zM254.1,116.0h1v1h-1zM250.4,107.5h1.3v1.3h-1.3zM241.5,124.5h1v1h-1zM251.4,121.0h1v1h-1zM252.9,113.9h1.6v1.6h-1.6zM250.4,115.3h1.6v1.6h-1.6zM249.5,106.6h1.3v1.3h-1.3zM244.1,110.6h1v1h-1zM253.8,116.1h1.6v1.6h-1.6zM237.5,115.5h1.6v1.6h-1.6zM249.2,115.9h1.3v1.3h-1.3zM242.4,113.3h1.6v1.6h-1.6zM250.9,121.7h1v1h-1zM241.2,114.8h1.6v1.6h-1.6z"/>
<path fill="#FF7F50" d="M252.9,112.6h1.3v1.3h-1.3zM248.6,114.4h1v1h-1zM250.6,120.3h1v1h-1zM244.7,104.8h1v1h-1zM245.6,115.9h1.3v1.3h-1.3zM239.4,114.7h1v1h-1zM248.0,120.1h1.6v1.6h-1.6z"/>
<path fill="#7FFFD4" d="M244.2,105.4h1.6v1.6h-1.6zM245.0,122.6h1.3v1.3h-1.3zM243.1,116.5h1.3v1.3h-1.3zM240.2,111.8h1.6v1.6h-1.6zM244.8,107.9h1.3v1.3h-1.3zM241.3,123.8h1.3v1.3h-1.3zM249.5,125.1h1.6v1.6h-1.6zM239.8,120.2h1v1h-1zM253.5,116.7h1.6v1.6h-1.6zM251.5,111.6h1v1h-1zM249.0,116.9h1v1h-1zM248.5,111.1h1.6v1.6h-1.6zM240.8,115.5h1.6v1.6h-1.6zM253.3,113.5h1.3v1.3h-1.3z"/>
<path fill="#778899" d="M239.3,114.0h1.3v1.3h-1.3zM241.3,106.6h1v1h-1zM237.7,106.1h1.6v1.6h-1.6zM251.1,110.0h1v1h-1z"/>
<path fill="#6495ED" d="M291.0,117.7h1.3v1.3h-1.3zM253.6,121.1h1.3v1.3h-1.3zM299.3,126.2h1v1h-1zM251.9,112.9h1v1h-1zM295.0,120.5h1.6v1.6h-1.6zM256.2,114.6h1v1h-1zM263.4,121.3h1v1h-1zM282.5,134.9h1.6v1.6h-1.6zM255.2,118.9h1.6v1.6h-1.6zM279.3,122.7h1v1h-1zM281.8,118.2h1.3v1.3h-1.3zM296.0,125.6h1.6v1.6h-1.6zM254.6,128.2h1v1h-1zM265.3,122.0h1.6v1.6h-1.6zM284.6,119.0h1.3v1.3h-1.3zM274.8,131.6h1.3v1.3h-1.3zM296.0,129.7h1v1h-1zM261.4,113.3h1v1h-1zM281.6,117.0h1v1h-1zM256.9,132.1h1.6v1.6h-1.6zM260.8,117.1h1.3v1.3h-1.3zM284.2,137.4h1.6v1.6h-1.6zM251.8,125.3h1.3v1.3h-1.3zM271.5,134.2h1.3v1.3h-1.3zM268.7,133.1h1.6v1.6h-1.6zM258.2,115.7h1.6v1.6h-1.6zM271.7,134.1h1.3v1.3h-1.3zM287.5,124.7h1.6v1.6h-1.6zM273.0,115.0h1v1h-1zM254.6,134.6h1v1h-1zM290.6,121.0h1v1h-1zM288.1,117.1h1.6v1.6h-1.6z"/>
<path fill="#7FFFD4" d="M293.1,134.1h1v1h-1zM252.3,130.6h1.6v1.6h-1.6zM257.9,134.9h1.6v1.6h-1.6zM272.2,133.3h1v1h-1zM288.5,136.0h1.3v1.3h-1.3zM281.7,136.3h1v1h-1zM269.8,136.6h1.3v1.3h-1.3zM276.5,127.6h1.3v1.3h-1.3zM263.6,113.1h1v1h-1zM259.9,127.7h1.3v1.3h-1.3zM251.0,129.0h1v1h-1zM256.4,133.2h1.6v1.6h-1.6zM263.8,123.2h1.6v1.6h-1.6zM279.6,125.2h1.6v1.6h-1.6zM289.9,115.0h1.3v1.3h-1.3zM262.1,132.5h1.6v1.6h-1.6zM260.6,135.0h1.6v1.6h-1.6zM263.0,111.4h1.6v1.6h-1.6zM270.8,121.1h1v1h-1zM271.0,137.0h1v1h-1zM266.6,134.1h1.6v1.6h-1.6zM268.1,131.5h1.3v1.3h-1.3zM253.8,134.9h1.6v1.6h-1.6zM269.1,129.2h1.6v1.6h-1.6zM283.5,114.7h1.3v1.3h-1.3zM276.8,119.6h1.3v1.3h-1.3zM271.7,136.4h1v1h-1zM293.8,129.6h1.6v1.6h-1.6zM257.6,125.3h1v1h-1zM278.5,125.2h1.3v1.3h-1.3zM264.6,113.3h1.3v1.3h-1.3zM273.6,128.3h1.6v1.6h-1.6zM285.6,131.2h1.6v1.6h-1.6zM264.2,129.9h1.3v1.3h-1.3zM297.7,123.8h1.6v1.6h-1.6zM289.6,117.9h1v1h-1zM259.9,130.1h1.6v1.6h-1.6zM281.6,136.4h1.6v1.6h-1.6zM271.1,129.2h1v1h-1zM263.3,122.2h1.6v1.6h-1.6zM254.0,122.5h1.6v1.6h-1.6zM258.5,112.2h1.6v1.6h-1.6zM283.2,129.9h1.6v1.6h-1.6zM282.7,126.3h1v1h-1zM249.3,123.2h1v1h-1zM295.3,128.8h1.3v1.3h-1.3zM288.6,119.6h1v1h-1zM262.9,115.5h1v1h-1zM295.5,121.1h1.6v1.6h-1.6zM296.5,127.4h1v1h-1zM273.6,130.9h1v1h-1zM262.9,126.9h1.3v1.3h-1.3zM251.6,122.9h1.6v1.6h-1.6zM270.0,122.6h1v1h-1zM262.4,130.8h1.6v1.6h-1.6zM271.5,131.3h1.3v1.3h-1.3zM269.4,121.3h1.6v1.6h-1.6zM272.4,122.0h1.6v1.6h-1.6zM258.8,132.4h1.6v1.6h-1.6zM254.5,119.4h1v1h-1zM286.2,125.5h1.3v1.3h-1.3zM277.6,134.0h1.3v1.3h-1.3zM298.1,125.2h1.6v1.6h-1.6zM273.1,131.3h1v1h-1zM262.3,133.4h1.3v1.3h-1.3zM289.7,127.1h1.6v1.6h-1.6zM277.4,138.6h1.6v1.6h-1.6zM287.4,130.3h1.6v1.6h-1.6z"/>
<path fill="#FFFF00" d="M292.6,131.7h1.6v1.6h-1.6zM249.7,120.0h1.6v1.6h-1.6zM266.3,131.6h1.6v1.6h-1.6zM274.9,125.2h1.6v1.6h-1.6zM287.5,118.4h1.6v1.6h-1.6zM277.1,113.2h1.3v1.3h-1.3zM291.2,132.7h1.3v1.3h-1.3zM275.1,118.2h1v1h-1zM285.4,125.0h1v1h-1z"/>
<path fill="#FF7F50" d="M266.4,133.7h1.6v1.6h-1.6zM263.0,122.2h1v1h-1zM263.1,124.8h1.6v1.6h-1.6zM255.2,122.4h1.3v1.3h-1.3zM279.6,138.2h1.6v1.6h-1.6zM266.0,121.9h1v1h-1zM258.4,136.1h1v1h-1zM288.8,127.9h1v1h-1zM259.6,119.7h1v1h-1zM253.7,122.6h1v1h-1zM279.2,112.0h1.6v1.6h-1.6zM278.0,131.4h1.6v1.6h-1.6zM268.1,131.9h1.3v1.3h-1.3zM282.3,121.2h1.3v1.3h-1.3zM281.8,116.7h1.6v1.6h-1.6zM256.6,131.1h1.3v1.3h-1.3zM265.6,115.4h1.6v1.6h-1.6zM251.9,125.9h1.3v1.3h-1.3zM278.6,136.5h1.6v1.6h-1.6zM261.5,132.6h1.3v1.3h-1.3zM267.9,128.0h1.3v1.3h-1.3zM287.5,118.7h1.3v1.3h-1.3zM286.6,115.3h1.6v1.6h-1.6zM293.1,132.4h1v1h-1zM290.2,117.1h1v1h-1zM263.0,118.2h1.6v1.6h-1.6zM250.9,123.9h1.3v1.3h-1.3zM255.0,111.9h1.3v1.3h-1.3zM274.8,128.3h1.3v1.3h-1.3zM288.8,129.4h1v1h-1zM276.6,121.6h1.6v1.6h-1.6zM298.1,128.1h1v1h-1zM277.9,114.2h1.6v1.6h-1.6zM282.5,125.3h1.3v1.3h-1.3zM288.6,137.1h1.6v1.6h-1.6zM271.5,118.5h1.6v1.6h-1.6zM269.2,114.9h1.6v1.6h-1.6zM262.1,132.9h1.6v1.6h-1.6zM249.8,125.1h1v1h-1zM281.4,133.7h1.3v1.3h-1.3zM249.3,121.6h1.6v1.6h-1.6zM286.0,120.0h1.6v1.6h-1.6zM271.3,118.8h1v1h-1zM293.9,119.5h1.3v1.3h-1.3zM260.4,132.6h1.3v1.3h-1.3zM275.9,119.6h1.6v1.6h-1.6zM283.6,120.5h1.3v1.3h-1.3zM251.0,129.1h1.6v1.6h-1.6zM277.4,125.9h1.6v1.6h-1.6zM274.4,137.4h1.3v1.3h-1.3zM295.6,124.7h1v1h-1zM284.6,131.0h1.3v1.3h-1.3zM274.0,113.6h1v1h-1zM259.5,124.8h1.6v1.6h-1.6zM287.8,134.7h1.3v1.3h-1.3zM269.9,137.3h1v1h-1zM274.5,119.1h1.6v1.6h-1.6zM274.5,118.5h1v1h-1zM280.7,126.5h1.3v1.3h-1.3zM287.9,117.9h1.6v1.6h-1.6zM275.9,129.3h1v1h-1zM289.6,130.5h1v1h-1zM257.8,128.2h1.6v1.6h-1.6zM270.8,114.2h1.3v1.3h-1.3zM285.2,115.7h1.6v1.6h-1.6zM277.9,111.5h1.6v1.6h-1.6zM254.1,117.9h1.3v1.3h-1.3zM266.2,118.7h1.3v1.3h-1.3zM279.4,113.9h1.3v1.3h-1.3zM289.6,125.6h1.6v1.6h-1.6zM254.8,130.4h1.6v1.6h-1.6zM294.5,121.8h1v1h-1zM259.3,113.0h1.3v1.3h-1.3zM252.3,133.1h1.6v1.6h-1.6zM292.1,124.0h1v1h-1zM263.0,131.7h1.6v1.6h-1.6zM270.7,131.1h1.6v1.6h-1.6zM277.4,114.5h1.6v1.6h-1.6zM270.8,137.5h1v1h-1zM260.1,120.4h1.6v1.6h-1.6zM278.7,131.1h1.6v1.6h-1.6zM278.7,130.2h1.3v1.3h-1.3zM274.6,122.4h1.6v1.6h-1.6zM275.1,121.7h1.3v1.3h-1.3zM275.4,134.9h1.3v1.3h-1.3zM272.4,136.1h1v1h-1zM259.9,128.1h1v1h-1zM276.3,133.3h1.6v1.6h-1.6zM281.4,119.3h1.3v1.3h-1.3zM292.8,132.2h1.6v1.6h-1.6zM254.4,126.4h1.6v1.6h-1.6zM274.8,135.2h1.6v1.6h-1.6zM254.3,128.9h1v1h-1zM247.5,125.2h1.6v1.6h-1.6zM252.7,112.9h1v1h-1zM279.8,117.6h1.3v1.3h-1.3zM267.1,126.6h1v1h-1zM272.2,111.4h1.3v1.3h-1.3zM294.7,126.9h1.3v1.3h-1.3zM282.9,126.2h1.6v1.6h-1.6zM252.2,117.0h1.6v1.6h-1.6zM268.0,133.2h1.3v1.3h-1.3zM288.5,123.5h1.6v1.6h-1.6zM267.1,133.2h1v1h-1zM284.8,112.5h1.6v1.6h-1.6zM288.5,114.6h1.3v1.3h-1.3zM263.3,120.8h1v1h-1zM268.6,110.8h1v1h-1zM262.5,121.6h1.6v1.6h-1.6zM277.3,115.1h1v1h-1zM261.3,118.1h1v1h-1zM278.5,115.9h1.3v1.3h-1.3zM272.4,115.3h1.3v1.3h-1.3zM288.4,119.8h1.3v1.3h-1.3zM266.3,138.0h1.6v1.6h-1.6zM256.5,133.0h1.6v1.6h-1.6zM299.1,130.3h1.3v1.3h-1.3zM298.2,122.9h1.3v1.3h-1.3zM277.5,123.4h1.6v1.6h-1.6zM278.2,125.0h1v1h-1zM274.6,120.4h1.6v1.6h-1.6zM283.9,119.6h1.6v1.6h-1.6zM276.7,138.8h1.3v1.3h-1.3zM248.5,128.4h1.6v1.6h-1.6zM264.3,123.7h1.3v1.3h-1.3zM267.8,113.4h1.3v1.3h-1.3zM253.2,119.2h1.6v1.6h-1.6zM256.2,115.0h1v1h-1zM263.7,123.5h1.3v1.3h-1.3zM297.4,124.5h1.3v1.3h-1.3zM287.3,118.8h1.6v1.6h-1.6zM276.1,113.4h1.6v1.6h-1.6zM287.3,123.2h1.3v1.3h-1.3zM260.9,135.9h1v1h-1zM255.8,114.2h1v1h-1zM286.8,122.3h1.3v1.3h-1.3zM280.5,128.8h1v1h-1zM280.6,136.4h1.6v1.6h-1.6zM297.4,119.8h1.6v1.6h-1.6z"/>
<path fill="#8A2BE2" d="M278.0,134.7h1v1h-1zM266.6,123.3h1.3v1.3h-1.3zM256.6,116.4h1.3v1.3h-1.3zM254.8,123.1h1v1h-1zM290.3,136.5h1.3v1.3h-1.3zM266.9,110.8h1.6v1.6h-1.6zM289.1,120.2h1v1h-1zM261.8,119.0h1.3v1.3h-1.3zM263.8,120.5h1.6v1.6h-1.6zM257.7,126.2h1.6v1.6h-1.6zM268.0,124.9h1.3v1.3h-1.3zM299.0,124.3h1v1h-1zM282.0,128.4h1v1h-1zM254.2,119.6h1v1h-1z"/>
<path fill="#FF8C00" d="M282.8,124.1h1.6v1.6h-1.6zM264.4,128.3h1.6v1.6h-1.6zM254.2,123.6h1.6v1.6h-1.6zM283.9,126.2h1.6v1.6h-1.6zM251.9,116.4h1v1h-1zM271.0,116.6h1.6v1.6h-1.6zM269.6,113.2h1.3v1.3h-1.3zM275.1,123.6h1v1h-1zM266.5,132.9h1.3v1.3h-1.3zM290.4,128.4h1v1h-1zM279.3,129.7h1v1h-1zM268.2,114.3h1v1h-1zM265.1,121.1h1.6v1.6h-1.6zM270.5,122.7h1.3v1.3h-1.3zM252.9,130.3h1.6v1.6h-1.6zM259.2,126.8h1.3v1.3h-1.3zM277.5,127.2h1.3v1.3h-1.3zM277.3,115.6h1.6v1.6h-1.6zM267.5,133.2h1v1h-1zM284.0,121.8h1v1h-1zM282.1,136.3h1.6v1.6h-1.6zM254.3,117.5h1.3v1.3h-1.3zM275.4,129.0h1.6v1.6h-1.6zM254.6,122.9h1v1h-1zM277.2,115.6h1.6v1.6h-1.6zM265.3,132.0h1.6v1.6h-1.6zM271.6,130.9h1v1h-1zM265.0,115.6h1.3v1.3h-1.3zM262.7,123.4h1v1h-1zM279.6,123.0h1v1h-1zM253.7,117.1h1.3v1.3h-1.3zM267.3,127.0h1.6v1.6h-1.6zM284.3,116.4h1.6v1.6h-1.6zM299.3,130.0h1.6v1.6h-1.6zM281.0,123.5h1.3v1.3h-1.3zM279.6,112.8h1.6v1.6h-1.6zM281.9,131.6h1.6v1.6h-1.6zM266.4,122.0h1v1h-1zM263.9,121.8h1.3v1.3h-1.3zM289.2,131.8h1v1h-1zM278.6,118.0h1.6v1.6h-1.6zM277.6,131.6h1v1h-1zM263.6,114.5h1.3v1.3h-1.3zM265.8,133.2h1.6v1.6h-1.6zM287.9,131.1h1.3v1.3h-1.3zM261.5,113.7h1.3v1.3h-1.3zM262.4,118.6h1.3v1.3h-1.3zM264.5,131.9h1.6v1.6h-1.6zM282.7,115.8h1.6v1.6h-1.6zM274.3,112.6h1v1h-1zM266.1,117.1h1.3v1.3h-1.3zM287.8,130.7h1.3v1.3h-1.3zM255.1,132.4h1.3v1.3h-1.3zM290.8,132.9h1.6v1.6h-1.6zM270.4,130.4h1.3v1.3h-1.3zM259.8,112.0h1.3v1.3h-1.3zM259.4,137.5h1.6v1.6h-1.6zM249.5,120.3h1.3v1.3h-1.3zM292.0,119.0h1.3v1.3h-1.3zM289.6,127.6h1v1h-1zM257.4,116.9h1v1h-1zM273.5,129.6h1.3v1.3h-1.3zM271.3,117.3h1.3v1.3h-1.3zM283.3,135.4h1.6v1.6h-1.6zM259.2,137.0h1.6v1.6h-1.6zM296.9,123.0h1.6v1.6h-1.6zM266.1,138.3h1.3v1.3h-1.3zM291.9,133.9h1v1h-1zM280.6,117.3h1.6v1.6h-1.6zM294.5,126.1h1v1h-1zM252.8,117.4h1v1h-1zM253.1,135.5h1.6v1.6h-1.6zM280.4,115.6h1.3v1.3h-1.3zM258.4,118.4h1v1h-1zM275.0,129.2h1.6v1.6h-1.6zM279.7,134.4h1.3v1.3h-1.3zM295.7,127.7h1.3v1.3h-1.3zM254.5,121.7h1.6v1.6h-1.6zM267.3,115.6h1.6v1.6h-1.6zM283.5,135.8h1.3v1.3h-1.3zM275.6,119.7h1.3v1.3h-1.3zM292.9,117.5h1v1h-1z"/>
<path fill="#B0C4DE" d="M282.5,122.3h1.3v1.3h-1.3zM289.5,128.5h1.3v1.3h-1.3zM287.3,123.5h1.6v1.6h-1.6zM287.9,135.1h1v1h-1zM267.0,114.9h1.6v1.6h-1.6zM276.4,113.1h1v1h-1zM295.6,124.2h1.6v1.6h-1.6zM271.9,128.5h1v1h-1zM271.2,113.3h1.6v1.6h-1.6zM264.9,129.3h1.6v1.6h-1.6zM294.1,132.3h1.3v1.3h-1.3zM275.7,136.7h1.6v1.6h-1.6zM264.0,129.4h1v1h-1zM252.9,134.9h1v1h-1zM281.3,137.7h1v1h-1zM282.7,128.1h1v1h-1zM280.8,138.0h1.6v1.6h-1.6zM284.3,112.5h1.6v1.6h-1.6zM288.6,127.0h1v1h-1zM278.6,133.5h1v1h-1zM291.6,121.4h1.3v1.3h-1.3zM264.7,134.5h1.6v1.6h-1.6zM272.6,118.9h1v1h-1zM286.7,130.8h1.3v1.3h-1.3zM280.6,130.9h1.6v1.6h-1.6zM268.1,139.0h1.3v1.3h-1.3z"/>
<path fill="#0000FF" d="M293.0,131.6h1.6v1.6h-1.6zM262.3,122.2h1v1h-1zM292.8,122.5h1v1h-1zM297.1,125.2h1v1h-1zM266.5,116.6h1.3v1.3h-1.3zM295.5,126.9h1.6v1.6h-1.6zM269.2,111.1h1.6v1.6h-1.6z"/>
<path fill="#008000" d="M269.5,122.9h1v1h-1zM286.8,118.9h1.3v1.3h-1.3z"/>
<path fill="#FF0000" d="M281.2,122.6h1.3v1.3h-1.3z"/>
<path fill="#8A2BE2" d="M271.3,184.1h1.6v1.6h-1.6zM297.1,184.5h1v1h-1zM258.7,159.7h1.6v1.6h-1.6zM317.1,149.6h1.3v1.3h-1.3zM286.3,147.9h1.6v1.6h-1.6zM279.6,179.0h1.3v1.3h-1.3zM278.5,156.6h1v1h-1zM298.2,176.2h1.6v1.6h-1.6zM306.2,171.7h1.3v1.3h-1.3zM274.6,148.3h1v1h-1zM305.8,156.4h1v1h-1zM270.9,143.1h1.3v1.3h-1.3zM296.4,155.4h1.6v1.6h-1.6zM320.6,153.4h1.3v1.3h-1.3zM260.4,172.8h1.6v1.6h-1.6zM305.4,179.5h1.6v1.6h-1.6zM310.1,155.1h1.6v1.6h-1.6z"/>
<path fill="#0000FF" d="M261.4,185.3h1.6v1.6h-1.6zM308.1,176.9h1.6v1.6h-1.6zM274.8,161.1h1.3v1.3h-1.3z"/>
<path fill="#FFFF00" d="M301.6,147.9h1v1h-1zM269.9,172.3h1.3v1.3h-1.3zM278.3,176.5h1v1h-1zM301.0,144.4h1.6v1.6h-1.6zM270.7,160.3h1.3v1.3h-1.3z"/>
<path fill="#6495ED" d="M304.3,180.3h1v1h-1zM283.7,178.6h1v1h-1zM318.2,173.0h1v1h-1zM315.1,151.7h1v1h-1zM287.6,146.9h1.6v1.6h-1.6zM288.5,173.7h1.3v1.3h-1.3zM282.5,161.9h1.6v1.6h-1.6zM263.2,158.0h1.6v1.6h-1.6zM287.7,159.0h1.6v1.6h-1.6zM322.2,173.6h1.6v1.6h-1.6zM277.9,167.0h1.3v1.3h-1.3zM304.0,152.9h1v1h-1z"/>
<path fill="#7FFFD4" d="M276.7,147.3h1.6v1.6h-1.6zM304.8,147.1h1.3v1.3h-1.3zM263.3,181.2h1.6v1.6h-1.6z"/>
<path fill="#FFFF00" d="M224.1,92.5h1.3v1.3h-1.3zM191.2,95.4h1.6v1.6h-1.6zM213.7,94.3h1.6v1.6h-1.6zM179.9,112.5h1.3v1.3h-1.3zM194.3,116.3h1v1h-1zM191.7,93.9h1.6v1.6h-1.6zM189.3,103.5h1.3v1.3h-1.3zM215.2,124.4h1.3v1.3h-1.3zM222.3,122.7h1.3v1.3h-1.3zM230.2,109.4h1.3v1.3h-1.3zM206.8,96.2h1v1h-1z"/>
<path fill="#0000FF" d="M197.4,98.6h1v1h-1zM188.6,102.9h1.3v1.3h-1.3zM198.8,115.6h1v1h-1z"/>
<path fill="#7FFFD4" d="M207.0,132.2h1.3v1.3h-1.3zM192.3,126.5h1v1h-1zM217.0,116.0h1v1h-1zM189.0,107.2h1v1h-1zM201.3,112.4h1v1h-1z"/>
<path fill="#8A2BE2" d="M202.0,118.0h1v1h-1zM229.3,92.1h1.6v1.6h-1.6zM216.7,96.6h1v1h-1zM201.7,124.9h1.6v1.6h-1.6zM182.1,96.6h1.3v1.3h-1.3zM177.7,109.8h1.6v1.6h-1.6z"/>
<path fill="#6495ED" d="M200.6,61.7h1v1h-1zM210.1,77.6h1.6v1.6h-1.6zM208.6,61.2h1v1h-1zM231.1,72.1h1.3v1.3h-1.3zM230.5,67.7h1v1h-1zM215.0,84.7h1v1h-1zM209.6,75.2h1.6v1.6h-1.6zM204.3,83.7h1.3v1.3h-1.3zM214.2,69.3h1v1h-1zM198.3,64.1h1v1h-1zM225.9,66.3h1v1h-1z"/>
<path fill="#8A2BE2" d="M203.5,78.1h1v1h-1zM218.7,60.8h1.3v1.3h-1.3zM208.9,65.0h1.3v1.3h-1.3z"/>
<path fill="#0000FF" d="M197.1,79.1h1v1h-1zM197.3,77.3h1.3v1.3h-1.3zM206.6,63.8h1.6v1.6h-1.6zM216.7,60.5h1.6v1.6h-1.6zM215.1,70.9h1.3v1.3h-1.3zM199.8,78.4h1.6v1.6h-1.6zM202.6,66.6h1.6v1.6h-1.6zM232.9,75.2h1v1h-1zM199.4,66.5h1.6v1.6h-1.6zM210.2,86.4h1v1h-1zM232.5,78.2h1.6v1.6h-1.6zM210.4,80.6h1v1h-1z"/>
<path fill="#FFFF00" d="M216.1,81.5h1v1h-1zM197.1,79.6h1.6v1.6h-1.6zM208.8,69.0h1.6v1.6h-1.6zM232.1,71.0h1.6v1.6h-1.6z"/>
<path fill="#8A2BE2" d="M201.0,53.3h1.6v1.6h-1.6zM207.1,52.4h1v1h-1zM213.1,52.2h1.6v1.6h-1.6z"/>
<path fill="#7FFFD4" d="M210.6,41.7h1.3v1.3h-1.3zM221.4,56.0h1v1h-1zM228.2,47.7h1.3v1.3h-1.3zM230.1,61.5h1.6v1.6h-1.6zM228.6,55.5h1.6v1.6h-1.6zM212.6,52.1h1v1h-1zM209.9,48.7h1.6v1.6h-1.6zM208.5,54.1h1.3v1.3h-1.3zM228.3,48.1h1.3v1.3h-1.3zM202.0,56.5h1v1h-1zM221.4,57.8h1.6v1.6h-1.6zM207.3,41.3h1.6v1.6h-1.6z"/>
<path fill="#0000FF" d="M205.4,59.5h1.6v1.6h-1.6zM208.5,45.5h1.3v1.3h-1.3zM225.2,55.8h1.3v1.3h-1.3zM200.6,45.7h1.3v1.3h-1.3zM205.3,59.6h1v1h-1zM208.5,46.2h1v1h-1zM211.5,49.4h1.6v1.6h-1.6zM220.0,50.6h1v1h-1zM205.5,46.4h1v1h-1z"/>
<path fill="#FFFF00" d="M223.4,61.3h1.3v1.3h-1.3zM225.2,52.7h1v1h-1zM205.2,41.6h1.3v1.3h-1.3zM205.4,48.3h1.6v1.6h-1.6zM214.1,45.8h1.6v1.6h-1.6zM213.4,51.8h1.3v1.3h-1.3z"/>
<path fill="#6495ED" d="M159.2,71.0h1.3v1.3h-1.3zM145.5,93.3h1.6v1.6h-1.6zM172.2,83.4h1.3v1.3h-1.3zM160.5,63.4h1v1h-1zM170.9,74.6h1.6v1.6h-1.6zM168.2,73.5h1.3v1.3h-1.3zM154.4,93.4h1.3v1.3h-1.3zM157.1,68.0h1.6v1.6h-1.6z"/>
<path fill="#FFD700" d="M171.4,89.1h1.6v1.6h-1.6zM167.6,87.7h1v1h-1zM141.2,83.1h1.3v1.3h-1.3zM138.5,88.6h1.3v1.3h-1.3zM142.2,67.7h1.6v1.6h-1.6zM170.5,72.0h1.6v1.6h-1.6zM152.9,91.7h1.6v1.6h-1.6z"/>
<path fill="#7FFFD4" d="M173.1,79.1h1v1h-1zM142.7,78.1h1.3v1.3h-1.3zM147.5,96.6h1v1h-1zM169.8,88.0h1v1h-1zM165.4,90.9h1v1h-1zM147.2,79.3h1.6v1.6h-1.6z"/>
<path fill="#FF0000" d="M160.9,87.9h1.3v1.3h-1.3zM155.6,72.2h1.3v1.3h-1.3zM160.4,65.4h1.3v1.3h-1.3zM145.4,76.0h1.3v1.3h-1.3z"/>
<path fill="#008000" d="M153.4,98.0h1.3v1.3h-1.3zM151.5,101.6h1.3v1.3h-1.3zM158.0,107.0h1.3v1.3h-1.3zM153.9,105.6h1.3v1.3h-1.3zM156.5,107.3h1.3v1.3h-1.3zM162.1,103.3h1.3v1.3h-1.3zM150.5,105.5h1.6v1.6h-1.6z"/>
<path fill="#00CED1" d="M147.6,103.1h1.3v1.3h-1.3zM130.0,109.7h1v1h-1zM162.3,106.4h1.3v1.3h-1.3zM154.1,104.2h1.6v1.6h-1.6z"/>
<path fill="#DC143C" d="M155.1,109.2h1v1h-1z"/>
<path d="M201.0,95.0 C201.5,94.4 203.2,93.8 204.0,94.0 C204.8,94.2 206.1,95.8 206.0,96.5 C205.9,97.2 204.3,98.3 203.5,98.5 C202.7,98.7 201.4,98.1 201.0,97.5 C200.6,96.9 200.5,95.6 201.0,95.0Z" fill="#FFFF00" />
<path d="M216.0,100.5 C216.7,99.9 219.0,99.2 220.0,99.5 C221.0,99.8 222.2,101.2 222.0,102.0 C221.8,102.8 220.0,103.8 219.0,104.0 C218.0,104.2 216.5,103.6 216.0,103.0 C215.5,102.4 215.3,101.1 216.0,100.5Z" fill="#FFFF00" />
<path d="M101.5,148.9 C103.5,146.9 106.5,145.4 108.8,143.5 C111.1,141.6 113.5,140.0 115.3,137.7 C117.0,135.4 117.9,132.5 119.3,129.9 C120.7,127.3 121.6,124.1 123.4,121.9 C125.2,119.7 127.5,118.2 129.9,116.8 C132.3,115.4 135.2,114.4 138.0,113.4 C140.8,112.4 143.5,111.7 146.4,111.0 C149.3,110.3 152.9,109.0 155.2,109.5 C157.5,110.0 158.7,112.1 160.0,114.0 C161.3,115.9 161.7,118.9 163.0,121.0 C164.3,123.1 166.0,125.0 168.0,126.5 C170.0,128.0 172.7,128.8 175.0,130.0 C177.3,131.2 179.5,132.6 182.0,134.0 C184.5,135.4 187.3,137.1 190.0,138.5 C192.7,139.9 195.3,141.2 198.0,142.5 C200.7,143.8 203.3,144.8 206.0,146.0 C208.7,147.2 211.8,148.7 214.0,150.0 C216.2,151.3 218.1,152.6 219.5,154.0 C220.9,155.4 221.4,156.2 222.6,158.2 C223.8,160.2 225.2,163.5 226.7,166.1 C228.2,168.7 229.7,170.9 231.4,173.7 C233.2,176.5 235.8,180.1 237.2,182.9 C238.6,185.8 239.2,188.3 240.0,190.8 C240.8,193.3 241.2,195.2 242.0,197.8 C242.8,200.4 243.8,203.3 245.0,206.1 C246.2,208.9 247.7,212.0 249.0,214.6 C250.3,217.2 251.6,219.0 252.6,221.6 C253.6,224.2 254.5,227.6 255.2,230.4 C255.9,233.2 256.5,235.8 256.6,238.4 C256.8,241.1 257.1,243.7 256.1,246.3 C255.1,248.9 253.0,252.5 250.8,254.2 C248.6,255.9 245.4,255.3 242.9,256.5 C240.4,257.7 237.6,259.5 235.8,261.3 C234.0,263.1 233.6,264.9 232.3,267.1 C231.0,269.3 229.8,272.4 227.9,274.5 C226.0,276.6 223.5,278.3 220.8,279.4 C218.2,280.5 214.8,280.5 212.0,281.2 C209.2,281.9 206.5,282.9 203.7,283.7 C200.9,284.5 198.0,285.0 195.4,286.0 C192.8,287.0 190.8,288.8 188.1,289.6 C185.4,290.4 181.9,290.9 179.0,290.9 C176.1,290.9 173.5,290.4 170.8,289.6 C168.1,288.8 165.1,287.7 163.0,286.0 C160.9,284.3 159.4,282.1 158.0,279.6 C156.6,277.1 156.3,273.2 154.7,270.8 C153.1,268.4 150.9,266.1 148.4,265.0 C145.9,263.9 142.6,264.8 139.8,264.1 C137.1,263.4 134.6,261.7 131.9,261.0 C129.2,260.3 126.5,260.6 123.9,259.9 C121.3,259.2 118.3,258.4 116.1,256.8 C113.9,255.2 112.0,252.8 110.6,250.4 C109.2,248.0 108.6,244.9 107.5,242.2 C106.4,239.4 105.5,236.5 104.2,233.9 C102.9,231.3 101.4,228.9 99.6,226.6 C97.8,224.3 95.1,222.2 93.2,219.9 C91.3,217.6 89.5,215.5 88.1,213.0 C86.7,210.5 85.6,207.6 85.0,204.7 C84.4,201.8 84.4,198.5 84.5,195.6 C84.6,192.7 85.3,190.3 85.6,187.4 C85.8,184.5 85.5,181.2 86.0,178.3 C86.5,175.4 87.6,172.8 88.7,170.1 C89.8,167.4 91.3,164.8 92.7,162.4 C94.1,160.0 95.4,157.8 96.9,155.5 C98.4,153.2 99.5,150.9 101.5,148.9Z" fill="url(#spk)"/>
<path fill="#00CED1" d="M170.5,290.7h1v1h-1zM142.0,266.1h1.3v1.3h-1.3zM155.5,109.6h1v1h-1zM152.1,108.9h1v1h-1zM209.1,283.3h1.6v1.6h-1.6zM240.9,190.7h1.6v1.6h-1.6zM157.7,110.7h1.3v1.3h-1.3zM84.8,182.4h1.6v1.6h-1.6zM250.3,254.2h1.3v1.3h-1.3zM215.1,279.3h1.3v1.3h-1.3zM227.7,164.6h1.6v1.6h-1.6zM185.1,290.8h1v1h-1zM174.9,128.3h1.6v1.6h-1.6zM191.9,290.7h1.3v1.3h-1.3zM157.3,279.5h1v1h-1zM253.7,228.0h1.3v1.3h-1.3zM163.4,120.8h1.3v1.3h-1.3zM224.8,280.0h1v1h-1zM222.9,158.3h1.6v1.6h-1.6zM239.4,192.6h1.6v1.6h-1.6zM179.6,292.6h1.6v1.6h-1.6zM141.9,110.4h1.6v1.6h-1.6zM113.5,254.4h1v1h-1zM159.2,113.4h1v1h-1zM105.6,145.3h1v1h-1zM250.4,218.6h1.3v1.3h-1.3zM85.0,176.6h1.3v1.3h-1.3zM194.3,285.3h1.6v1.6h-1.6zM229.7,169.9h1.6v1.6h-1.6zM122.6,123.1h1.3v1.3h-1.3zM140.0,264.6h1.6v1.6h-1.6zM166.2,289.1h1v1h-1zM252.9,253.7h1.3v1.3h-1.3zM122.3,119.8h1.6v1.6h-1.6zM156.9,278.9h1.3v1.3h-1.3zM163.6,121.9h1.6v1.6h-1.6zM104.4,144.7h1.6v1.6h-1.6zM206.7,144.0h1v1h-1zM89.4,215.2h1.3v1.3h-1.3zM83.6,182.6h1v1h-1zM119.1,126.1h1.6v1.6h-1.6zM87.5,172.2h1v1h-1zM186.7,134.5h1v1h-1zM119.9,127.9h1.3v1.3h-1.3zM101.5,228.2h1.6v1.6h-1.6zM97.6,228.1h1.6v1.6h-1.6zM117.8,129.7h1v1h-1zM238.3,182.9h1.6v1.6h-1.6zM92.5,163.9h1.3v1.3h-1.3zM135.9,113.7h1v1h-1zM84.6,210.0h1.3v1.3h-1.3zM82.7,199.6h1.6v1.6h-1.6zM233.8,268.3h1.3v1.3h-1.3zM201.5,143.6h1v1h-1zM197.4,288.1h1.6v1.6h-1.6zM147.1,266.6h1v1h-1zM111.8,250.5h1.6v1.6h-1.6zM87.5,212.9h1v1h-1zM147.8,265.3h1.3v1.3h-1.3zM208.2,282.3h1v1h-1zM164.8,122.9h1v1h-1zM93.3,221.1h1.6v1.6h-1.6zM99.9,151.6h1.3v1.3h-1.3zM160.2,116.4h1.6v1.6h-1.6zM257.4,231.4h1.6v1.6h-1.6zM99.3,227.2h1v1h-1zM197.2,143.1h1.6v1.6h-1.6zM191.4,288.0h1.3v1.3h-1.3zM154.1,274.5h1.6v1.6h-1.6zM243.4,202.3h1.6v1.6h-1.6zM89.4,216.3h1.3v1.3h-1.3zM256.0,230.7h1.6v1.6h-1.6zM215.7,150.8h1v1h-1zM239.5,257.9h1.6v1.6h-1.6zM215.6,281.4h1.3v1.3h-1.3zM84.3,205.4h1.3v1.3h-1.3zM252.1,255.0h1.3v1.3h-1.3zM131.4,260.6h1v1h-1zM169.7,127.4h1v1h-1zM201.3,284.3h1v1h-1zM116.7,258.4h1.6v1.6h-1.6zM221.8,152.9h1.6v1.6h-1.6zM220.4,152.8h1v1h-1zM256.0,239.5h1.3v1.3h-1.3zM83.5,199.8h1.3v1.3h-1.3zM237.7,262.7h1.6v1.6h-1.6zM173.0,129.2h1v1h-1zM235.9,264.2h1.3v1.3h-1.3zM102.0,150.0h1v1h-1zM244.5,207.1h1.3v1.3h-1.3zM213.2,150.9h1.6v1.6h-1.6zM254.5,227.5h1.3v1.3h-1.3zM206.2,144.4h1.3v1.3h-1.3zM116.9,136.8h1.3v1.3h-1.3zM120.1,261.4h1v1h-1zM232.6,266.5h1v1h-1zM145.5,266.3h1v1h-1zM95.5,157.3h1.3v1.3h-1.3zM186.8,289.8h1.3v1.3h-1.3zM204.6,146.4h1.3v1.3h-1.3zM139.7,263.7h1.3v1.3h-1.3zM221.2,279.0h1.6v1.6h-1.6zM223.6,159.7h1.3v1.3h-1.3zM92.1,221.8h1.6v1.6h-1.6zM251.2,219.4h1v1h-1zM217.9,281.9h1.3v1.3h-1.3zM162.0,284.4h1.3v1.3h-1.3zM255.3,248.7h1v1h-1zM160.4,112.6h1.3v1.3h-1.3zM83.3,200.3h1.6v1.6h-1.6zM170.7,126.7h1v1h-1zM104.2,239.6h1v1h-1zM95.4,152.1h1.6v1.6h-1.6zM255.0,223.2h1.3v1.3h-1.3zM189.0,290.6h1.6v1.6h-1.6zM87.1,170.7h1.6v1.6h-1.6zM85.4,178.0h1.6v1.6h-1.6zM190.3,137.0h1.3v1.3h-1.3zM166.2,124.5h1v1h-1zM196.2,287.1h1v1h-1zM175.7,129.1h1v1h-1zM101.4,149.5h1.6v1.6h-1.6zM246.6,256.0h1.6v1.6h-1.6zM195.5,286.2h1v1h-1zM241.6,258.0h1.6v1.6h-1.6zM159.2,281.0h1.3v1.3h-1.3zM155.5,108.3h1v1h-1zM83.5,185.7h1.3v1.3h-1.3zM243.3,196.3h1.6v1.6h-1.6zM221.0,158.5h1.3v1.3h-1.3zM144.0,112.3h1.3v1.3h-1.3zM198.8,139.7h1.6v1.6h-1.6zM83.9,186.6h1.3v1.3h-1.3zM88.2,211.3h1v1h-1zM252.0,218.1h1v1h-1zM144.1,111.9h1.3v1.3h-1.3zM141.9,264.7h1.6v1.6h-1.6zM110.5,250.2h1.3v1.3h-1.3zM246.4,203.7h1.6v1.6h-1.6zM131.1,114.0h1v1h-1zM155.3,110.5h1.3v1.3h-1.3zM237.4,262.2h1v1h-1zM197.7,287.2h1.3v1.3h-1.3zM82.3,191.9h1v1h-1zM248.8,256.0h1v1h-1zM90.9,220.6h1v1h-1zM100.2,230.5h1.3v1.3h-1.3zM84.0,190.8h1.6v1.6h-1.6zM203.9,144.8h1.3v1.3h-1.3zM234.7,261.9h1.6v1.6h-1.6zM244.3,200.5h1v1h-1zM179.3,129.8h1v1h-1zM85.1,195.8h1v1h-1zM245.8,205.5h1.3v1.3h-1.3zM101.5,147.1h1.3v1.3h-1.3zM161.9,285.0h1.6v1.6h-1.6zM253.9,220.5h1.6v1.6h-1.6zM194.6,285.4h1.3v1.3h-1.3zM180.3,131.7h1.6v1.6h-1.6zM229.4,169.4h1.3v1.3h-1.3zM140.0,111.4h1.3v1.3h-1.3zM247.8,209.4h1v1h-1zM99.6,225.4h1v1h-1zM206.9,145.8h1v1h-1zM133.9,261.0h1v1h-1zM156.1,109.9h1v1h-1zM204.4,286.4h1v1h-1zM122.4,261.6h1.6v1.6h-1.6zM256.8,235.8h1.6v1.6h-1.6zM254.7,222.3h1v1h-1zM244.3,258.3h1.6v1.6h-1.6zM127.5,118.2h1.6v1.6h-1.6zM190.3,288.3h1.3v1.3h-1.3zM84.3,200.9h1.3v1.3h-1.3zM255.4,251.0h1.3v1.3h-1.3zM110.6,248.6h1.3v1.3h-1.3zM131.1,116.8h1.6v1.6h-1.6zM163.0,121.1h1v1h-1zM121.8,121.1h1v1h-1zM215.1,149.9h1v1h-1zM256.0,230.5h1.6v1.6h-1.6zM221.5,280.3h1.3v1.3h-1.3zM252.0,218.8h1v1h-1zM241.9,193.2h1.3v1.3h-1.3zM236.4,180.3h1.3v1.3h-1.3zM84.1,199.0h1.6v1.6h-1.6zM111.5,252.1h1v1h-1zM145.4,264.2h1v1h-1zM205.4,284.0h1.6v1.6h-1.6zM181.2,292.0h1.6v1.6h-1.6zM90.0,217.1h1.6v1.6h-1.6zM130.3,117.0h1.3v1.3h-1.3zM255.3,233.5h1.3v1.3h-1.3zM229.1,165.2h1v1h-1zM158.4,109.9h1.3v1.3h-1.3zM108.3,141.8h1.6v1.6h-1.6zM85.3,207.5h1v1h-1zM130.3,116.9h1v1h-1zM111.3,138.7h1.6v1.6h-1.6zM100.5,227.5h1v1h-1zM93.0,165.4h1.3v1.3h-1.3zM166.2,123.7h1v1h-1zM123.7,119.9h1.3v1.3h-1.3zM139.8,112.2h1.6v1.6h-1.6zM237.3,264.1h1.6v1.6h-1.6zM108.7,140.3h1v1h-1zM177.6,290.9h1.6v1.6h-1.6zM85.5,173.3h1.6v1.6h-1.6zM256.0,243.2h1v1h-1zM230.8,176.1h1.3v1.3h-1.3zM220.4,157.8h1v1h-1zM159.0,113.3h1.6v1.6h-1.6zM159.6,111.4h1v1h-1zM249.6,216.5h1.6v1.6h-1.6zM173.5,127.4h1v1h-1zM250.0,216.5h1.3v1.3h-1.3zM143.6,112.0h1.6v1.6h-1.6zM86.3,170.7h1.3v1.3h-1.3zM177.7,129.3h1v1h-1zM218.3,279.3h1v1h-1zM104.8,148.0h1.3v1.3h-1.3zM154.8,271.6h1v1h-1zM256.0,241.4h1.6v1.6h-1.6zM187.0,136.3h1.6v1.6h-1.6zM170.8,126.2h1.3v1.3h-1.3zM235.4,176.2h1.6v1.6h-1.6zM125.0,120.5h1.6v1.6h-1.6zM178.1,291.5h1v1h-1zM166.7,289.8h1.3v1.3h-1.3zM228.1,162.5h1.3v1.3h-1.3zM229.7,167.3h1v1h-1zM236.2,183.5h1.3v1.3h-1.3zM200.2,283.8h1v1h-1zM121.5,257.6h1v1h-1zM208.1,281.8h1.6v1.6h-1.6zM244.3,257.1h1.3v1.3h-1.3zM258.2,244.5h1.6v1.6h-1.6zM257.5,244.1h1.6v1.6h-1.6zM181.1,134.0h1v1h-1zM236.7,261.7h1.6v1.6h-1.6zM241.3,197.6h1v1h-1zM125.5,121.5h1v1h-1zM157.5,280.2h1.6v1.6h-1.6zM116.6,130.8h1.3v1.3h-1.3zM252.3,222.2h1.6v1.6h-1.6zM150.5,266.4h1v1h-1zM99.0,227.8h1v1h-1zM256.8,233.8h1.3v1.3h-1.3zM86.6,186.1h1.6v1.6h-1.6zM244.1,202.4h1.3v1.3h-1.3zM105.9,237.8h1.3v1.3h-1.3zM150.1,266.4h1.3v1.3h-1.3zM243.5,193.7h1.6v1.6h-1.6zM201.5,284.6h1.3v1.3h-1.3zM227.6,164.8h1.3v1.3h-1.3zM217.3,152.1h1v1h-1zM161.3,118.1h1v1h-1zM241.3,196.8h1.6v1.6h-1.6zM237.2,178.1h1.6v1.6h-1.6zM202.7,286.1h1.3v1.3h-1.3zM194.0,140.1h1.3v1.3h-1.3zM150.5,107.5h1v1h-1zM102.8,147.9h1.3v1.3h-1.3zM85.9,183.2h1.6v1.6h-1.6zM143.5,263.9h1.3v1.3h-1.3zM179.3,130.5h1.6v1.6h-1.6zM101.6,229.2h1.3v1.3h-1.3zM249.9,215.9h1.3v1.3h-1.3zM209.2,283.6h1.6v1.6h-1.6zM154.9,272.2h1.3v1.3h-1.3zM203.0,287.3h1.3v1.3h-1.3zM109.3,244.7h1v1h-1zM86.7,173.4h1.6v1.6h-1.6zM126.5,261.6h1.6v1.6h-1.6zM163.9,121.1h1v1h-1zM241.7,197.5h1v1h-1zM132.9,261.3h1.3v1.3h-1.3zM240.9,194.0h1v1h-1zM99.6,152.8h1.6v1.6h-1.6zM109.8,246.3h1.6v1.6h-1.6zM224.4,161.8h1v1h-1zM224.9,163.1h1v1h-1zM253.6,229.5h1v1h-1zM84.2,198.5h1.6v1.6h-1.6zM221.5,157.8h1.3v1.3h-1.3zM235.1,259.7h1.6v1.6h-1.6zM165.1,123.7h1.3v1.3h-1.3zM149.0,107.9h1v1h-1zM222.8,157.9h1.3v1.3h-1.3zM89.1,166.8h1.6v1.6h-1.6zM169.3,288.1h1.6v1.6h-1.6zM163.1,287.7h1.3v1.3h-1.3zM93.2,219.8h1v1h-1zM85.5,202.0h1.6v1.6h-1.6zM133.0,117.0h1v1h-1zM222.2,281.4h1.3v1.3h-1.3zM156.0,275.7h1.6v1.6h-1.6zM255.6,240.9h1.3v1.3h-1.3zM112.8,138.8h1v1h-1zM256.9,242.5h1.3v1.3h-1.3zM90.5,165.6h1.6v1.6h-1.6zM209.3,283.2h1v1h-1zM252.6,255.2h1.6v1.6h-1.6zM86.5,180.1h1.6v1.6h-1.6zM116.4,137.2h1.6v1.6h-1.6zM255.1,225.1h1.6v1.6h-1.6zM207.1,147.2h1v1h-1zM119.5,128.5h1v1h-1zM109.1,251.7h1v1h-1zM174.6,128.2h1v1h-1zM130.2,262.7h1.3v1.3h-1.3zM153.3,272.2h1.3v1.3h-1.3zM89.7,170.5h1.6v1.6h-1.6zM199.3,285.6h1.3v1.3h-1.3zM240.3,258.5h1v1h-1zM110.6,138.4h1v1h-1zM163.2,117.7h1.3v1.3h-1.3zM180.8,132.6h1.3v1.3h-1.3zM172.5,290.1h1v1h-1zM148.4,109.9h1v1h-1zM229.7,270.3h1.3v1.3h-1.3zM163.9,286.6h1.3v1.3h-1.3zM191.7,138.7h1v1h-1zM92.9,164.7h1.3v1.3h-1.3zM233.4,268.5h1v1h-1zM152.7,107.3h1.3v1.3h-1.3zM160.8,284.1h1.3v1.3h-1.3zM239.7,193.1h1v1h-1zM218.9,152.2h1.6v1.6h-1.6zM167.4,123.6h1v1h-1zM251.2,215.3h1.3v1.3h-1.3zM246.7,206.8h1v1h-1zM157.1,278.8h1v1h-1zM104.4,234.6h1v1h-1zM147.7,267.1h1.3v1.3h-1.3zM85.0,195.5h1.3v1.3h-1.3zM125.5,261.7h1.6v1.6h-1.6zM100.2,152.5h1v1h-1zM168.9,127.2h1v1h-1zM114.2,134.9h1.6v1.6h-1.6zM83.6,182.8h1.6v1.6h-1.6zM236.8,183.4h1.3v1.3h-1.3zM190.6,138.6h1v1h-1zM222.0,157.0h1v1h-1zM117.8,257.9h1v1h-1zM145.3,264.5h1.6v1.6h-1.6zM171.7,292.1h1.6v1.6h-1.6zM153.2,269.7h1.6v1.6h-1.6zM240.8,190.4h1v1h-1zM98.6,227.7h1v1h-1zM129.1,116.5h1.6v1.6h-1.6zM127.5,118.7h1v1h-1zM219.4,279.2h1.6v1.6h-1.6zM233.5,268.5h1.6v1.6h-1.6zM214.8,147.3h1.6v1.6h-1.6zM173.1,129.3h1v1h-1zM121.2,260.7h1.6v1.6h-1.6zM90.0,166.0h1.6v1.6h-1.6zM116.7,256.7h1v1h-1zM174.1,291.8h1.3v1.3h-1.3zM152.6,110.8h1.3v1.3h-1.3zM150.3,108.5h1.6v1.6h-1.6zM258.7,238.8h1.6v1.6h-1.6zM154.0,269.4h1.6v1.6h-1.6zM180.9,131.1h1.6v1.6h-1.6zM208.8,148.2h1v1h-1zM95.9,151.8h1.3v1.3h-1.3zM193.2,139.7h1.3v1.3h-1.3zM151.8,269.3h1.6v1.6h-1.6zM98.6,153.4h1.3v1.3h-1.3zM128.3,259.5h1.6v1.6h-1.6zM242.9,256.9h1v1h-1zM118.8,129.2h1.3v1.3h-1.3zM89.9,216.3h1.3v1.3h-1.3zM135.3,114.7h1.6v1.6h-1.6zM256.8,239.4h1.6v1.6h-1.6zM228.4,163.6h1.6v1.6h-1.6zM158.7,283.2h1.3v1.3h-1.3zM161.8,119.5h1.6v1.6h-1.6zM159.1,283.4h1v1h-1zM205.8,282.9h1v1h-1zM185.7,132.1h1.3v1.3h-1.3zM114.1,138.0h1.3v1.3h-1.3zM110.8,251.7h1.3v1.3h-1.3zM230.0,274.8h1v1h-1zM105.9,237.0h1v1h-1zM175.7,127.7h1.3v1.3h-1.3zM152.0,107.9h1v1h-1zM153.4,268.9h1.6v1.6h-1.6zM156.6,109.7h1.3v1.3h-1.3zM132.5,113.3h1.6v1.6h-1.6zM240.9,184.5h1.6v1.6h-1.6zM237.5,261.3h1.3v1.3h-1.3zM256.6,233.1h1v1h-1zM168.7,127.5h1.3v1.3h-1.3zM113.5,252.7h1.3v1.3h-1.3zM160.4,113.3h1.3v1.3h-1.3zM243.6,201.3h1v1h-1zM158.4,280.3h1.6v1.6h-1.6zM211.4,147.2h1.3v1.3h-1.3zM153.4,270.2h1.3v1.3h-1.3zM87.4,173.6h1.6v1.6h-1.6zM235.0,265.3h1.3v1.3h-1.3zM255.0,222.5h1.3v1.3h-1.3zM122.0,260.4h1.6v1.6h-1.6zM172.5,126.5h1v1h-1zM157.9,111.3h1v1h-1zM195.3,286.2h1.3v1.3h-1.3zM107.5,244.1h1v1h-1zM227.4,276.0h1.3v1.3h-1.3zM120.7,123.8h1.3v1.3h-1.3zM176.9,131.7h1.6v1.6h-1.6zM132.6,114.6h1v1h-1zM125.5,261.8h1.6v1.6h-1.6zM257.5,243.5h1.6v1.6h-1.6zM155.5,271.1h1v1h-1zM145.1,109.2h1.3v1.3h-1.3zM171.8,126.3h1v1h-1zM225.1,277.3h1.3v1.3h-1.3zM82.7,200.3h1v1h-1zM96.9,158.1h1.3v1.3h-1.3zM241.6,186.7h1v1h-1zM147.2,110.7h1v1h-1zM218.3,152.5h1v1h-1zM86.6,211.5h1.6v1.6h-1.6zM221.5,155.9h1.3v1.3h-1.3zM235.7,180.6h1.3v1.3h-1.3zM249.3,214.9h1v1h-1zM225.1,276.3h1v1h-1zM175.1,291.6h1v1h-1zM110.0,139.2h1.3v1.3h-1.3zM236.0,262.0h1.6v1.6h-1.6zM179.4,293.6h1.6v1.6h-1.6zM238.1,258.4h1.3v1.3h-1.3z"/>
<path d="M170.8,98.0 C171.6,96.2 173.8,94.4 176.0,93.0 C178.2,91.6 181.2,90.4 184.0,89.5 C186.8,88.6 189.8,88.0 193.0,87.5 C196.2,87.0 199.3,86.8 203.0,86.5 C206.7,86.2 211.2,85.8 215.0,86.0 C218.8,86.2 222.7,86.5 226.0,87.5 C229.3,88.5 232.5,90.1 235.0,92.0 C237.5,93.9 240.2,96.5 241.0,99.0 C241.8,101.5 240.8,104.7 240.0,107.0 C239.2,109.3 237.2,110.8 236.0,113.0 C234.8,115.2 234.1,117.3 233.0,120.0 C231.9,122.7 230.5,126.0 229.2,129.0 C227.9,132.0 226.9,135.7 225.0,138.0 C223.1,140.3 220.7,142.1 218.0,143.0 C215.3,143.9 212.2,144.2 209.0,143.5 C205.8,142.8 202.4,141.2 199.0,139.0 C195.6,136.8 191.4,132.9 188.4,130.0 C185.4,127.1 183.2,124.7 181.0,121.5 C178.8,118.3 176.9,113.9 175.2,111.0 C173.5,108.1 171.7,106.2 171.0,104.0 C170.3,101.8 170.0,99.8 170.8,98.0Z" fill="url(#spk)"/>
<path fill="#6495ED" d="M206.8,87.2h1.6v1.6h-1.6zM216.4,84.7h1.3v1.3h-1.3zM221.9,86.1h1.3v1.3h-1.3zM240.1,101.3h1.6v1.6h-1.6zM226.9,139.3h1v1h-1zM238.4,110.2h1v1h-1zM213.1,144.4h1.3v1.3h-1.3zM227.5,88.4h1.6v1.6h-1.6zM222.9,138.4h1.3v1.3h-1.3zM187.5,88.1h1v1h-1zM228.5,131.9h1v1h-1zM208.1,144.1h1.6v1.6h-1.6zM215.7,84.0h1v1h-1zM234.4,118.0h1.3v1.3h-1.3zM168.8,102.9h1v1h-1zM239.1,96.7h1.3v1.3h-1.3zM183.7,125.5h1.3v1.3h-1.3zM241.2,100.1h1v1h-1zM239.5,98.1h1.3v1.3h-1.3zM206.8,143.5h1.6v1.6h-1.6zM189.2,132.0h1.3v1.3h-1.3zM214.0,85.4h1v1h-1zM168.5,98.0h1.3v1.3h-1.3zM185.3,130.8h1v1h-1zM229.0,126.3h1v1h-1zM169.8,103.6h1v1h-1zM170.7,104.5h1.3v1.3h-1.3zM220.5,85.0h1v1h-1zM241.7,100.6h1.6v1.6h-1.6zM208.0,144.7h1.6v1.6h-1.6zM191.7,85.1h1.6v1.6h-1.6zM218.6,146.1h1.3v1.3h-1.3zM193.2,88.1h1.6v1.6h-1.6zM226.0,138.3h1.3v1.3h-1.3zM217.4,143.3h1v1h-1zM175.7,92.2h1.3v1.3h-1.3zM222.6,87.2h1.6v1.6h-1.6zM186.3,87.4h1.6v1.6h-1.6zM176.3,90.9h1.3v1.3h-1.3zM225.1,137.6h1v1h-1zM170.1,96.1h1.6v1.6h-1.6zM206.3,85.9h1.6v1.6h-1.6zM176.1,115.7h1.6v1.6h-1.6zM201.5,84.9h1.3v1.3h-1.3zM237.2,111.2h1v1h-1zM236.2,113.4h1v1h-1zM230.8,129.2h1.6v1.6h-1.6zM235.2,120.4h1v1h-1zM232.8,121.5h1.3v1.3h-1.3zM215.5,145.2h1v1h-1zM237.2,111.6h1.3v1.3h-1.3zM191.0,86.1h1.6v1.6h-1.6zM230.0,129.0h1v1h-1zM206.5,141.8h1v1h-1zM168.9,101.9h1v1h-1zM172.5,108.6h1v1h-1zM210.6,87.5h1.3v1.3h-1.3zM203.3,85.7h1.3v1.3h-1.3zM172.1,97.1h1.3v1.3h-1.3zM171.4,106.1h1v1h-1zM189.5,88.2h1.3v1.3h-1.3zM209.8,142.8h1.3v1.3h-1.3zM178.5,90.0h1v1h-1zM206.0,85.2h1.3v1.3h-1.3zM223.9,140.6h1.6v1.6h-1.6zM176.9,118.8h1v1h-1zM169.8,101.6h1.3v1.3h-1.3zM232.6,125.2h1.3v1.3h-1.3zM198.7,85.8h1v1h-1zM224.9,134.7h1v1h-1zM183.3,127.1h1.3v1.3h-1.3zM215.0,84.3h1.6v1.6h-1.6zM171.0,96.2h1v1h-1zM168.3,97.3h1v1h-1zM200.4,88.4h1.6v1.6h-1.6zM233.7,121.6h1.6v1.6h-1.6zM170.9,99.4h1v1h-1zM237.2,94.0h1.3v1.3h-1.3zM236.5,91.5h1.3v1.3h-1.3zM212.6,86.0h1v1h-1zM219.8,84.8h1v1h-1zM234.4,90.7h1.3v1.3h-1.3zM220.3,87.4h1v1h-1zM215.1,86.4h1.6v1.6h-1.6zM232.6,120.1h1.3v1.3h-1.3zM169.8,98.7h1v1h-1zM178.0,118.9h1.6v1.6h-1.6zM173.0,108.6h1.3v1.3h-1.3zM192.2,87.6h1.3v1.3h-1.3zM169.7,96.9h1.6v1.6h-1.6zM198.3,84.2h1v1h-1zM238.9,96.7h1v1h-1zM178.7,93.5h1.3v1.3h-1.3zM173.2,96.3h1.3v1.3h-1.3zM219.2,144.9h1.3v1.3h-1.3zM182.9,127.9h1.3v1.3h-1.3zM213.7,84.7h1.3v1.3h-1.3zM169.9,105.8h1v1h-1zM168.8,105.5h1.3v1.3h-1.3zM169.3,101.1h1.3v1.3h-1.3zM170.1,99.4h1v1h-1zM168.4,97.9h1.6v1.6h-1.6zM241.6,103.8h1.6v1.6h-1.6zM242.0,98.4h1.6v1.6h-1.6zM231.3,124.5h1.6v1.6h-1.6zM232.4,124.8h1v1h-1zM213.3,85.9h1.6v1.6h-1.6zM178.8,91.6h1.3v1.3h-1.3zM211.3,86.0h1.6v1.6h-1.6zM194.8,137.3h1.3v1.3h-1.3zM197.7,86.7h1v1h-1zM174.0,94.0h1.3v1.3h-1.3zM194.4,135.9h1.6v1.6h-1.6zM241.0,99.2h1.3v1.3h-1.3zM242.2,100.6h1v1h-1zM228.6,86.6h1v1h-1zM214.8,143.1h1.3v1.3h-1.3zM170.5,100.9h1v1h-1zM172.0,109.4h1.6v1.6h-1.6zM228.9,89.3h1.6v1.6h-1.6zM223.0,141.9h1.6v1.6h-1.6zM178.1,116.7h1.3v1.3h-1.3zM225.2,86.8h1v1h-1zM239.2,97.3h1.6v1.6h-1.6zM234.9,118.5h1v1h-1zM176.2,113.3h1.6v1.6h-1.6zM218.3,144.5h1v1h-1zM182.9,125.2h1v1h-1zM170.7,102.3h1.6v1.6h-1.6zM239.6,103.6h1.3v1.3h-1.3zM183.9,127.8h1v1h-1zM226.8,137.6h1v1h-1zM231.1,89.6h1.6v1.6h-1.6zM206.9,84.9h1.6v1.6h-1.6zM181.9,91.8h1.3v1.3h-1.3zM176.1,91.3h1.6v1.6h-1.6zM170.7,108.2h1v1h-1zM219.7,86.0h1v1h-1zM174.4,108.0h1v1h-1zM207.2,144.7h1.6v1.6h-1.6zM217.0,83.3h1v1h-1zM235.0,89.7h1.3v1.3h-1.3zM211.1,143.2h1v1h-1zM223.8,87.3h1.3v1.3h-1.3zM182.5,124.0h1v1h-1zM214.4,85.3h1.3v1.3h-1.3zM228.9,130.8h1v1h-1zM216.3,142.6h1v1h-1zM235.6,122.8h1.6v1.6h-1.6zM186.8,88.7h1v1h-1zM232.2,88.2h1v1h-1zM227.9,88.7h1v1h-1zM176.7,112.5h1.3v1.3h-1.3zM235.0,90.6h1.3v1.3h-1.3zM206.0,144.7h1.3v1.3h-1.3zM190.5,86.8h1v1h-1zM173.7,108.4h1.3v1.3h-1.3zM170.8,99.0h1.6v1.6h-1.6zM219.0,84.4h1.6v1.6h-1.6zM205.3,141.7h1v1h-1z"/>
<path d="M229.0,93.0 C229.3,90.5 230.2,86.7 232.0,84.0 C233.8,81.3 237.0,78.9 240.0,77.0 C243.0,75.1 247.0,74.2 250.0,72.5 C253.0,70.8 255.3,68.6 258.0,67.0 C260.7,65.4 263.3,63.8 266.0,63.0 C268.7,62.2 271.5,61.5 274.0,62.0 C276.5,62.5 278.9,64.2 281.0,66.0 C283.1,67.8 285.2,70.7 286.5,73.0 C287.8,75.3 289.2,77.5 289.0,80.0 C288.8,82.5 286.5,85.3 285.0,88.0 C283.5,90.7 282.5,94.0 280.0,96.0 C277.5,98.0 273.7,98.8 270.0,100.0 C266.3,101.2 262.0,102.2 258.0,103.0 C254.0,103.8 249.7,105.0 246.0,105.0 C242.3,105.0 238.7,104.0 236.0,103.0 C233.3,102.0 231.2,100.7 230.0,99.0 C228.8,97.3 228.7,95.5 229.0,93.0Z" fill="url(#spk)"/>
<path fill="#778899" d="M233.2,102.1h1.6v1.6h-1.6zM235.2,80.2h1v1h-1zM265.8,61.3h1v1h-1zM230.6,92.2h1v1h-1zM281.8,67.6h1.3v1.3h-1.3zM262.5,100.7h1.6v1.6h-1.6zM276.9,62.3h1v1h-1zM281.0,65.9h1.6v1.6h-1.6zM273.2,61.9h1v1h-1zM227.9,89.9h1v1h-1zM263.7,62.3h1v1h-1zM275.0,63.7h1v1h-1zM234.7,102.8h1.6v1.6h-1.6zM241.3,76.0h1v1h-1zM275.6,100.2h1.3v1.3h-1.3zM259.8,63.6h1.3v1.3h-1.3zM270.8,61.2h1.3v1.3h-1.3zM249.9,70.9h1v1h-1zM282.3,66.9h1.6v1.6h-1.6zM233.6,81.3h1.3v1.3h-1.3zM265.2,101.1h1.3v1.3h-1.3zM248.9,102.9h1v1h-1zM232.3,101.8h1v1h-1zM241.8,74.0h1v1h-1zM289.1,73.6h1v1h-1zM250.8,70.8h1.3v1.3h-1.3zM286.4,75.2h1.6v1.6h-1.6zM267.0,101.6h1.6v1.6h-1.6zM281.8,62.8h1v1h-1zM258.0,66.2h1.3v1.3h-1.3zM258.1,65.6h1v1h-1zM287.7,77.7h1.3v1.3h-1.3zM278.6,98.9h1.6v1.6h-1.6zM238.2,78.1h1v1h-1zM254.6,69.4h1.6v1.6h-1.6zM244.9,105.9h1.3v1.3h-1.3zM259.5,64.6h1v1h-1zM288.4,76.7h1.6v1.6h-1.6zM249.6,106.0h1.6v1.6h-1.6zM272.6,98.9h1v1h-1zM271.4,98.7h1.3v1.3h-1.3zM228.9,97.7h1.3v1.3h-1.3zM269.9,100.3h1v1h-1zM281.1,95.5h1.3v1.3h-1.3zM259.9,103.9h1.6v1.6h-1.6zM240.1,105.0h1v1h-1zM260.5,65.4h1.3v1.3h-1.3zM243.1,75.6h1.3v1.3h-1.3zM250.4,69.9h1.6v1.6h-1.6zM289.8,82.3h1v1h-1zM255.6,67.3h1v1h-1zM288.4,81.7h1v1h-1zM266.5,103.4h1.3v1.3h-1.3zM230.4,100.5h1.6v1.6h-1.6zM226.9,97.0h1.6v1.6h-1.6zM248.9,73.5h1v1h-1zM252.4,105.5h1v1h-1zM259.4,63.3h1.3v1.3h-1.3zM236.1,78.9h1v1h-1zM262.0,102.0h1.6v1.6h-1.6zM290.1,76.5h1.6v1.6h-1.6zM241.5,75.1h1.3v1.3h-1.3zM274.2,60.5h1v1h-1zM238.5,104.8h1.3v1.3h-1.3zM254.5,70.5h1.6v1.6h-1.6zM283.4,66.9h1.6v1.6h-1.6zM230.5,90.5h1.3v1.3h-1.3zM248.9,72.1h1.3v1.3h-1.3zM228.8,94.0h1v1h-1zM271.3,99.4h1.3v1.3h-1.3zM262.3,62.8h1v1h-1zM280.9,93.1h1v1h-1zM228.7,100.2h1.3v1.3h-1.3zM279.8,63.4h1v1h-1zM228.6,93.0h1.6v1.6h-1.6zM289.3,76.3h1.3v1.3h-1.3zM290.7,80.5h1v1h-1zM238.6,103.4h1.3v1.3h-1.3zM228.3,100.1h1v1h-1zM254.1,69.4h1.6v1.6h-1.6zM231.7,85.1h1.6v1.6h-1.6zM247.3,106.7h1.3v1.3h-1.3zM259.5,67.1h1v1h-1zM228.1,86.3h1v1h-1zM248.5,72.9h1.6v1.6h-1.6zM273.7,62.8h1v1h-1zM265.9,63.2h1.6v1.6h-1.6zM237.9,104.8h1v1h-1zM263.3,104.6h1.3v1.3h-1.3zM232.8,100.1h1.6v1.6h-1.6zM286.7,70.7h1.6v1.6h-1.6zM285.3,68.9h1v1h-1zM229.5,93.1h1v1h-1zM238.8,76.7h1v1h-1zM244.2,107.3h1.6v1.6h-1.6zM249.9,69.7h1v1h-1zM227.6,94.2h1v1h-1zM244.0,74.5h1v1h-1zM235.9,79.4h1.6v1.6h-1.6zM275.9,60.2h1v1h-1zM280.8,62.1h1.6v1.6h-1.6zM272.3,98.8h1v1h-1zM244.0,74.7h1.6v1.6h-1.6zM279.6,93.1h1.6v1.6h-1.6zM278.0,63.7h1.6v1.6h-1.6zM282.2,65.1h1v1h-1zM232.2,87.4h1v1h-1zM270.6,61.7h1.3v1.3h-1.3zM279.6,95.8h1.6v1.6h-1.6zM230.3,101.4h1.3v1.3h-1.3zM281.6,65.5h1.3v1.3h-1.3zM286.5,88.0h1v1h-1zM267.2,61.1h1.3v1.3h-1.3zM242.6,73.1h1.6v1.6h-1.6zM287.3,72.7h1.6v1.6h-1.6zM247.0,74.8h1.6v1.6h-1.6zM287.8,76.4h1.6v1.6h-1.6zM272.8,60.3h1.3v1.3h-1.3zM227.3,92.9h1.6v1.6h-1.6zM263.8,62.8h1v1h-1zM245.3,75.1h1.6v1.6h-1.6zM231.9,101.6h1.3v1.3h-1.3zM273.0,62.4h1v1h-1zM234.9,104.4h1.3v1.3h-1.3zM275.0,60.9h1.3v1.3h-1.3zM282.2,90.6h1v1h-1zM285.5,84.6h1v1h-1z"/>
<path d="M276.0,85.0 C277.5,83.6 281.5,81.3 284.0,81.5 C286.5,81.7 289.5,83.9 291.0,86.0 C292.5,88.1 293.3,91.5 293.0,94.0 C292.7,96.5 291.0,99.6 289.0,101.0 C287.0,102.4 283.2,103.2 281.0,102.5 C278.8,101.8 276.5,99.1 275.5,97.0 C274.5,94.9 274.9,92.0 275.0,90.0 C275.1,88.0 274.5,86.4 276.0,85.0Z" fill="url(#spk)"/>
<path fill="#CD853F" d="M276.1,94.3h1.3v1.3h-1.3zM277.5,81.7h1.6v1.6h-1.6zM292.6,85.9h1.6v1.6h-1.6zM291.4,84.2h1v1h-1zM292.6,100.7h1v1h-1zM275.5,88.9h1.3v1.3h-1.3zM292.6,95.7h1.6v1.6h-1.6zM275.6,89.2h1v1h-1zM275.1,93.6h1.3v1.3h-1.3zM289.2,101.0h1.6v1.6h-1.6zM293.3,99.9h1v1h-1zM283.2,80.2h1.3v1.3h-1.3zM293.3,95.6h1.6v1.6h-1.6zM291.5,85.7h1.6v1.6h-1.6zM280.2,103.4h1.6v1.6h-1.6zM281.2,81.0h1.6v1.6h-1.6zM280.3,83.4h1.6v1.6h-1.6zM280.3,104.1h1.3v1.3h-1.3zM291.4,92.0h1.3v1.3h-1.3zM290.4,100.6h1.3v1.3h-1.3zM276.1,101.6h1v1h-1zM275.8,97.2h1.6v1.6h-1.6zM276.5,86.3h1.3v1.3h-1.3zM293.2,97.8h1.3v1.3h-1.3zM279.4,82.5h1.3v1.3h-1.3zM292.9,87.4h1.6v1.6h-1.6zM274.4,86.7h1.6v1.6h-1.6zM286.7,83.0h1v1h-1zM276.3,96.6h1.6v1.6h-1.6zM275.9,85.6h1v1h-1zM280.3,104.0h1v1h-1zM283.6,82.0h1v1h-1zM274.8,97.0h1.6v1.6h-1.6zM287.6,83.0h1.3v1.3h-1.3zM291.9,97.5h1.6v1.6h-1.6zM284.6,102.1h1v1h-1zM281.1,82.5h1v1h-1zM274.5,87.1h1v1h-1zM274.1,83.7h1v1h-1zM276.2,93.9h1.6v1.6h-1.6zM278.3,102.0h1.6v1.6h-1.6zM289.1,100.3h1.6v1.6h-1.6zM274.3,92.2h1.6v1.6h-1.6zM278.0,102.8h1.6v1.6h-1.6zM280.9,80.1h1.6v1.6h-1.6zM282.4,104.0h1v1h-1zM276.3,98.9h1.6v1.6h-1.6zM274.2,83.7h1v1h-1zM274.4,91.1h1v1h-1z"/>
<path d="M252.0,124.0 C253.7,121.8 258.0,119.3 262.0,118.0 C266.0,116.7 271.7,116.2 276.0,116.0 C280.3,115.8 284.7,116.2 288.0,117.0 C291.3,117.8 294.3,119.0 296.0,121.0 C297.7,123.0 299.0,126.5 298.0,129.0 C297.0,131.5 294.3,134.3 290.0,136.0 C285.7,137.7 277.3,138.8 272.0,139.0 C266.7,139.2 261.3,138.3 258.0,137.0 C254.7,135.7 253.0,133.2 252.0,131.0 C251.0,128.8 250.3,126.2 252.0,124.0Z" fill="url(#spk)"/>
<path fill="#FF7F50" d="M271.6,117.2h1.6v1.6h-1.6zM288.4,118.2h1v1h-1zM266.5,139.0h1.3v1.3h-1.3zM298.8,122.9h1v1h-1zM248.7,131.7h1.3v1.3h-1.3zM293.7,133.2h1v1h-1zM286.2,115.7h1.3v1.3h-1.3zM273.4,116.5h1.6v1.6h-1.6zM258.7,138.0h1.6v1.6h-1.6zM263.9,137.7h1v1h-1zM268.5,138.6h1.6v1.6h-1.6zM250.1,123.2h1.6v1.6h-1.6zM261.2,139.2h1.6v1.6h-1.6zM295.5,122.0h1.6v1.6h-1.6zM297.5,124.5h1.3v1.3h-1.3zM265.5,116.7h1.6v1.6h-1.6zM290.9,119.0h1.6v1.6h-1.6zM293.0,133.4h1.6v1.6h-1.6zM269.8,116.6h1.6v1.6h-1.6zM294.3,117.7h1.6v1.6h-1.6zM296.0,133.0h1v1h-1zM273.5,116.5h1.6v1.6h-1.6zM276.4,114.8h1.6v1.6h-1.6zM293.7,131.2h1.6v1.6h-1.6zM250.2,123.5h1.6v1.6h-1.6zM265.2,115.6h1v1h-1zM282.0,114.4h1v1h-1zM258.5,137.1h1.6v1.6h-1.6zM283.1,139.3h1.3v1.3h-1.3zM276.9,139.4h1.3v1.3h-1.3zM274.6,114.6h1.6v1.6h-1.6zM260.1,138.6h1.3v1.3h-1.3zM286.6,115.4h1v1h-1zM258.8,118.6h1.6v1.6h-1.6zM258.5,117.8h1.3v1.3h-1.3zM296.7,131.0h1v1h-1zM260.8,118.9h1v1h-1zM260.9,117.5h1.3v1.3h-1.3zM254.2,132.6h1.6v1.6h-1.6zM292.5,132.9h1.3v1.3h-1.3zM288.9,115.2h1v1h-1zM249.5,131.6h1.6v1.6h-1.6zM293.5,119.2h1v1h-1zM254.3,123.2h1v1h-1zM262.9,137.7h1.6v1.6h-1.6zM250.0,127.5h1.3v1.3h-1.3zM251.5,125.1h1v1h-1zM267.1,136.9h1v1h-1zM296.3,134.1h1.6v1.6h-1.6zM250.7,131.3h1.3v1.3h-1.3zM264.5,118.0h1v1h-1zM294.9,119.6h1.6v1.6h-1.6zM287.6,137.2h1.3v1.3h-1.3zM299.7,129.0h1.6v1.6h-1.6zM259.8,121.0h1.6v1.6h-1.6zM279.1,114.3h1.6v1.6h-1.6zM296.8,129.9h1.6v1.6h-1.6zM294.5,117.5h1.6v1.6h-1.6zM260.4,137.4h1.3v1.3h-1.3zM292.2,117.6h1v1h-1zM290.9,135.2h1v1h-1zM252.7,132.6h1.6v1.6h-1.6zM272.5,114.5h1.3v1.3h-1.3zM255.4,137.3h1v1h-1zM254.3,133.0h1.6v1.6h-1.6zM297.2,131.8h1.3v1.3h-1.3zM292.7,132.9h1v1h-1zM278.4,115.5h1.3v1.3h-1.3zM260.2,137.9h1.6v1.6h-1.6zM292.6,118.1h1.3v1.3h-1.3zM272.3,139.3h1.3v1.3h-1.3zM279.2,138.7h1v1h-1zM267.0,139.3h1.3v1.3h-1.3zM251.2,129.4h1.6v1.6h-1.6zM284.4,115.2h1.6v1.6h-1.6zM293.1,117.0h1v1h-1zM299.1,120.6h1.3v1.3h-1.3zM265.8,137.4h1.6v1.6h-1.6zM253.7,131.7h1.3v1.3h-1.3zM280.0,138.1h1.3v1.3h-1.3zM265.6,115.0h1.3v1.3h-1.3zM297.6,126.8h1v1h-1zM289.6,115.6h1v1h-1zM286.9,138.7h1v1h-1zM252.6,134.0h1v1h-1zM257.3,117.9h1.6v1.6h-1.6zM284.2,113.8h1v1h-1zM250.7,123.0h1v1h-1zM263.8,117.5h1.3v1.3h-1.3zM275.6,115.0h1v1h-1z"/>
<path d="M248.0,117.0 C248.8,114.9 252.3,112.2 255.0,111.5 C257.7,110.8 262.2,111.4 264.0,113.0 C265.8,114.6 267.0,118.8 266.0,121.0 C265.0,123.2 260.7,125.5 258.0,126.0 C255.3,126.5 251.7,125.5 250.0,124.0 C248.3,122.5 247.2,119.1 248.0,117.0Z" fill="url(#spk)"/>
<path fill="#7FEBCB" d="M259.1,128.1h1v1h-1zM263.3,111.6h1.6v1.6h-1.6zM246.3,118.0h1v1h-1zM262.0,122.9h1.6v1.6h-1.6zM264.6,110.5h1v1h-1zM246.9,122.3h1.6v1.6h-1.6zM248.6,125.9h1v1h-1zM254.3,126.7h1.6v1.6h-1.6zM256.2,128.9h1v1h-1zM247.1,118.7h1.3v1.3h-1.3zM248.7,118.2h1.6v1.6h-1.6zM259.7,128.0h1v1h-1zM258.5,112.5h1.6v1.6h-1.6zM260.0,123.1h1.3v1.3h-1.3zM266.9,120.8h1.3v1.3h-1.3zM251.7,111.7h1.6v1.6h-1.6zM265.4,113.8h1.6v1.6h-1.6zM249.6,124.9h1.3v1.3h-1.3zM261.3,124.7h1v1h-1zM253.8,112.5h1.6v1.6h-1.6zM249.2,118.6h1v1h-1zM264.7,118.8h1v1h-1zM259.8,111.8h1.3v1.3h-1.3zM257.0,124.5h1v1h-1zM256.6,124.7h1v1h-1zM263.3,116.2h1.3v1.3h-1.3zM252.3,112.7h1v1h-1zM259.5,127.9h1v1h-1zM247.8,122.0h1v1h-1zM251.7,125.0h1v1h-1zM264.3,124.4h1.3v1.3h-1.3zM254.7,125.4h1v1h-1zM259.2,112.3h1v1h-1zM265.7,119.9h1.3v1.3h-1.3zM248.1,122.4h1.3v1.3h-1.3zM247.5,123.3h1v1h-1zM256.8,126.1h1.6v1.6h-1.6zM250.4,114.8h1.6v1.6h-1.6zM252.7,112.6h1v1h-1zM261.3,110.4h1.3v1.3h-1.3z"/>
<path d="M249.5,160.0 C250.1,156.0 250.9,151.2 253.0,148.0 C255.1,144.8 258.2,142.5 262.0,141.0 C265.8,139.5 271.0,139.3 276.0,139.0 C281.0,138.7 286.8,139.3 292.0,139.0 C297.2,138.7 302.7,136.7 307.0,137.0 C311.3,137.3 315.2,138.8 318.0,141.0 C320.8,143.2 322.6,146.7 324.0,150.0 C325.4,153.3 326.2,157.2 326.5,161.0 C326.8,164.8 326.9,169.3 326.0,173.0 C325.1,176.7 323.3,180.2 321.0,183.0 C318.7,185.8 315.8,187.8 312.0,189.5 C308.2,191.2 302.5,192.5 298.0,193.5 C293.5,194.5 289.5,195.2 285.0,195.5 C280.5,195.8 275.2,195.8 271.0,195.0 C266.8,194.2 263.0,193.0 260.0,191.0 C257.0,189.0 254.8,186.2 253.0,183.0 C251.2,179.8 250.1,175.8 249.5,172.0 C248.9,168.2 248.9,164.0 249.5,160.0Z" fill="url(#spk)"/>
<path fill="#FF7F50" d="M275.6,138.1h1.3v1.3h-1.3zM300.4,193.5h1v1h-1zM316.4,140.1h1.6v1.6h-1.6zM247.9,173.5h1v1h-1zM269.3,139.0h1.3v1.3h-1.3zM252.4,182.2h1v1h-1zM275.2,196.9h1.6v1.6h-1.6zM297.8,135.4h1v1h-1zM295.0,137.0h1.6v1.6h-1.6zM285.0,137.7h1v1h-1zM325.4,154.3h1.3v1.3h-1.3zM328.2,158.0h1.3v1.3h-1.3zM254.2,145.6h1.6v1.6h-1.6zM327.1,159.3h1v1h-1zM313.8,188.5h1v1h-1zM249.9,174.1h1.3v1.3h-1.3zM312.2,189.3h1.6v1.6h-1.6zM255.6,143.3h1.6v1.6h-1.6zM255.6,146.5h1.6v1.6h-1.6zM321.0,145.7h1.6v1.6h-1.6zM267.9,196.2h1.3v1.3h-1.3zM279.7,140.4h1.3v1.3h-1.3zM325.7,152.2h1.6v1.6h-1.6zM283.4,194.3h1.3v1.3h-1.3zM281.4,136.8h1.3v1.3h-1.3zM266.8,195.8h1v1h-1zM269.4,140.8h1.6v1.6h-1.6zM257.9,141.7h1v1h-1zM252.4,144.6h1.3v1.3h-1.3zM275.8,195.1h1v1h-1zM294.3,137.3h1v1h-1zM325.4,169.8h1v1h-1zM293.3,139.4h1.3v1.3h-1.3zM249.0,161.7h1.6v1.6h-1.6zM248.5,169.5h1.3v1.3h-1.3zM305.1,192.2h1.6v1.6h-1.6zM300.0,136.9h1.6v1.6h-1.6zM326.8,176.7h1.6v1.6h-1.6zM256.3,190.3h1.3v1.3h-1.3zM326.1,177.5h1.6v1.6h-1.6zM324.7,146.4h1v1h-1zM301.2,192.7h1.6v1.6h-1.6zM327.5,168.0h1.3v1.3h-1.3zM284.3,198.4h1.3v1.3h-1.3zM326.0,153.9h1v1h-1zM260.1,189.3h1v1h-1zM315.0,189.9h1.3v1.3h-1.3zM305.9,137.0h1.6v1.6h-1.6zM327.6,152.8h1v1h-1zM303.2,137.7h1.3v1.3h-1.3zM250.0,178.3h1.3v1.3h-1.3zM310.4,139.7h1.3v1.3h-1.3zM302.3,135.6h1.6v1.6h-1.6zM325.1,154.0h1v1h-1zM254.6,186.2h1.3v1.3h-1.3zM249.5,175.6h1v1h-1zM267.0,194.9h1v1h-1zM312.6,188.9h1.6v1.6h-1.6zM324.6,154.9h1.3v1.3h-1.3zM254.6,184.5h1.3v1.3h-1.3zM268.2,195.8h1.6v1.6h-1.6zM297.4,196.8h1.6v1.6h-1.6zM258.6,193.4h1.6v1.6h-1.6zM246.8,158.0h1.3v1.3h-1.3zM248.8,178.5h1.6v1.6h-1.6zM308.1,136.2h1.6v1.6h-1.6zM320.3,142.9h1.6v1.6h-1.6zM326.4,164.2h1v1h-1zM303.0,192.7h1v1h-1zM319.4,183.2h1v1h-1zM317.8,140.9h1.3v1.3h-1.3zM325.5,152.0h1.6v1.6h-1.6zM254.1,148.2h1.6v1.6h-1.6zM256.3,143.5h1.6v1.6h-1.6zM314.9,139.2h1.6v1.6h-1.6zM315.5,138.1h1.6v1.6h-1.6zM255.0,184.5h1v1h-1zM248.2,160.6h1.6v1.6h-1.6zM262.1,192.7h1.3v1.3h-1.3zM264.5,193.2h1v1h-1zM257.1,142.3h1v1h-1zM318.2,139.1h1v1h-1zM268.8,196.0h1v1h-1zM321.2,142.4h1.3v1.3h-1.3zM275.5,139.3h1.6v1.6h-1.6zM323.2,179.1h1v1h-1zM262.7,193.8h1v1h-1zM324.9,175.2h1.6v1.6h-1.6zM297.9,137.7h1v1h-1zM327.0,152.1h1.6v1.6h-1.6zM323.4,177.6h1.3v1.3h-1.3zM264.1,194.1h1.6v1.6h-1.6zM306.1,191.4h1.3v1.3h-1.3zM313.2,139.4h1.6v1.6h-1.6zM322.9,148.0h1v1h-1zM327.7,164.0h1.6v1.6h-1.6zM322.2,142.3h1v1h-1zM249.0,165.7h1v1h-1zM322.8,179.4h1.3v1.3h-1.3zM272.4,197.2h1v1h-1zM281.9,198.0h1.3v1.3h-1.3zM294.6,194.0h1v1h-1zM256.4,186.1h1v1h-1zM250.8,147.8h1.6v1.6h-1.6zM285.1,138.9h1.6v1.6h-1.6zM325.8,159.8h1v1h-1zM314.4,140.4h1v1h-1zM258.1,140.2h1v1h-1zM325.7,163.7h1.3v1.3h-1.3zM269.2,193.9h1v1h-1zM248.0,158.3h1v1h-1zM324.1,152.5h1.6v1.6h-1.6zM295.4,195.0h1.6v1.6h-1.6zM262.8,193.6h1.3v1.3h-1.3zM318.4,138.2h1v1h-1zM247.5,170.4h1.6v1.6h-1.6zM277.7,139.4h1v1h-1zM328.1,168.6h1v1h-1zM325.9,177.2h1.3v1.3h-1.3zM252.6,152.2h1.6v1.6h-1.6zM324.6,153.5h1.3v1.3h-1.3zM323.0,180.9h1.6v1.6h-1.6zM276.3,139.6h1.6v1.6h-1.6zM315.1,139.1h1v1h-1zM250.5,177.5h1v1h-1zM285.6,196.2h1.3v1.3h-1.3zM249.7,174.0h1.3v1.3h-1.3zM325.7,171.9h1.3v1.3h-1.3zM310.4,191.5h1v1h-1zM284.2,138.3h1.3v1.3h-1.3zM264.4,191.0h1.3v1.3h-1.3zM251.2,174.3h1.3v1.3h-1.3zM262.1,140.6h1v1h-1zM248.0,170.3h1.3v1.3h-1.3zM268.8,193.2h1.6v1.6h-1.6zM284.2,136.8h1v1h-1zM282.2,138.4h1.3v1.3h-1.3zM256.3,189.3h1.3v1.3h-1.3zM324.6,178.3h1.6v1.6h-1.6zM257.0,189.0h1.3v1.3h-1.3zM325.3,176.5h1.6v1.6h-1.6zM328.6,161.0h1.6v1.6h-1.6zM319.1,142.0h1v1h-1zM264.3,139.5h1v1h-1zM291.6,196.4h1v1h-1zM313.5,137.1h1v1h-1zM292.8,195.2h1.6v1.6h-1.6zM325.1,176.9h1v1h-1zM247.5,175.6h1v1h-1zM271.2,138.0h1.3v1.3h-1.3zM265.4,193.7h1v1h-1zM249.3,164.1h1v1h-1zM257.6,188.3h1v1h-1zM311.7,188.9h1v1h-1zM281.7,196.4h1v1h-1zM291.0,138.4h1v1h-1zM262.4,192.6h1.3v1.3h-1.3zM325.0,150.2h1v1h-1zM251.2,152.0h1v1h-1zM295.9,194.7h1v1h-1zM271.8,138.8h1.6v1.6h-1.6zM271.2,196.6h1.6v1.6h-1.6zM304.0,191.2h1.6v1.6h-1.6zM329.2,169.0h1.3v1.3h-1.3zM261.9,192.3h1v1h-1zM327.7,157.4h1v1h-1zM255.3,185.9h1.3v1.3h-1.3zM259.7,143.3h1v1h-1zM268.9,140.7h1v1h-1zM281.1,194.8h1.3v1.3h-1.3zM322.7,180.1h1v1h-1zM322.3,183.7h1v1h-1zM250.5,159.6h1.6v1.6h-1.6zM251.4,184.4h1v1h-1zM290.6,195.3h1.6v1.6h-1.6zM296.7,193.1h1.3v1.3h-1.3zM251.6,176.9h1.3v1.3h-1.3zM258.1,143.7h1v1h-1zM253.9,183.6h1.3v1.3h-1.3z"/>
<path d="M268.0,139.0 C267.8,136.3 267.8,132.7 269.0,130.0 C270.2,127.3 272.2,124.8 275.0,123.0 C277.8,121.2 281.8,119.8 286.0,119.0 C290.2,118.2 295.8,117.7 300.0,118.0 C304.2,118.3 308.3,119.3 311.0,121.0 C313.7,122.7 316.0,125.8 316.0,128.0 C316.0,130.2 313.0,132.2 311.0,134.0 C309.0,135.8 305.7,136.9 304.0,139.0 C302.3,141.1 303.2,144.7 301.0,146.5 C298.8,148.3 294.8,149.4 291.0,150.0 C287.2,150.6 281.5,150.7 278.0,150.0 C274.5,149.3 271.7,147.8 270.0,146.0 C268.3,144.2 268.2,141.7 268.0,139.0Z" fill="url(#spk)"/>
<path fill="#FF8C00" d="M280.1,151.2h1.6v1.6h-1.6zM313.4,132.7h1.3v1.3h-1.3zM302.4,144.9h1.3v1.3h-1.3zM279.4,149.6h1v1h-1zM316.5,125.0h1.6v1.6h-1.6zM283.7,119.4h1.6v1.6h-1.6zM272.5,148.8h1v1h-1zM293.1,115.6h1.3v1.3h-1.3zM282.9,117.0h1.6v1.6h-1.6zM307.5,121.4h1v1h-1zM313.8,132.7h1v1h-1zM277.5,118.9h1v1h-1zM267.3,144.0h1v1h-1zM297.9,119.1h1v1h-1zM302.6,116.9h1.3v1.3h-1.3zM285.4,119.4h1.6v1.6h-1.6zM297.5,149.5h1.6v1.6h-1.6zM315.7,127.5h1v1h-1zM297.3,115.8h1.3v1.3h-1.3zM266.7,141.8h1v1h-1zM312.3,124.6h1v1h-1zM273.4,123.3h1v1h-1zM312.2,131.3h1.6v1.6h-1.6zM268.8,142.9h1v1h-1zM315.9,127.7h1.3v1.3h-1.3zM313.6,124.7h1.3v1.3h-1.3zM311.6,131.1h1.3v1.3h-1.3zM314.1,129.5h1.6v1.6h-1.6zM280.0,121.8h1.3v1.3h-1.3zM314.3,131.1h1.3v1.3h-1.3zM288.3,150.3h1.3v1.3h-1.3zM312.7,119.3h1.6v1.6h-1.6zM276.9,121.6h1.6v1.6h-1.6zM268.5,146.7h1v1h-1zM312.9,132.0h1.6v1.6h-1.6zM277.1,150.4h1v1h-1zM315.9,129.9h1.3v1.3h-1.3zM312.5,123.2h1.6v1.6h-1.6zM308.4,138.5h1.6v1.6h-1.6zM276.6,121.9h1.3v1.3h-1.3zM306.5,116.3h1.3v1.3h-1.3zM296.9,149.0h1.3v1.3h-1.3zM270.0,145.0h1.6v1.6h-1.6zM311.8,131.6h1.6v1.6h-1.6zM269.4,126.2h1v1h-1zM279.8,118.9h1.3v1.3h-1.3zM312.9,119.9h1.3v1.3h-1.3zM289.1,118.4h1.6v1.6h-1.6zM314.7,127.0h1.6v1.6h-1.6zM267.8,128.0h1.6v1.6h-1.6zM269.1,146.0h1v1h-1zM266.6,135.4h1.3v1.3h-1.3zM310.7,135.6h1.3v1.3h-1.3zM303.1,146.3h1.3v1.3h-1.3zM276.3,122.9h1.6v1.6h-1.6zM273.2,149.3h1.6v1.6h-1.6zM302.8,143.3h1v1h-1zM312.1,125.0h1v1h-1zM280.3,152.3h1.3v1.3h-1.3zM302.9,143.3h1.3v1.3h-1.3zM311.9,120.6h1v1h-1zM279.3,121.4h1v1h-1zM303.0,118.6h1.3v1.3h-1.3zM267.0,140.8h1.6v1.6h-1.6zM268.8,137.5h1.3v1.3h-1.3zM312.6,119.2h1.3v1.3h-1.3zM277.5,121.9h1v1h-1zM315.8,129.0h1.6v1.6h-1.6zM302.7,146.7h1.3v1.3h-1.3zM304.9,140.3h1.3v1.3h-1.3zM293.7,148.4h1v1h-1zM274.5,147.6h1.3v1.3h-1.3zM314.3,125.6h1.3v1.3h-1.3zM285.9,118.4h1.3v1.3h-1.3zM279.9,119.3h1.6v1.6h-1.6zM299.4,147.5h1.3v1.3h-1.3zM311.7,133.9h1.3v1.3h-1.3zM266.1,130.0h1v1h-1zM270.0,147.8h1v1h-1zM315.7,128.2h1.3v1.3h-1.3zM315.4,124.9h1.6v1.6h-1.6zM312.4,132.5h1.6v1.6h-1.6zM268.0,137.0h1.6v1.6h-1.6zM316.1,129.0h1.6v1.6h-1.6zM271.3,146.2h1.3v1.3h-1.3zM305.4,139.9h1.3v1.3h-1.3zM297.3,147.5h1.6v1.6h-1.6zM289.7,119.9h1.3v1.3h-1.3zM280.8,120.7h1.6v1.6h-1.6zM265.8,134.6h1.6v1.6h-1.6zM269.3,134.8h1.6v1.6h-1.6zM312.1,132.7h1.3v1.3h-1.3zM270.0,128.2h1.6v1.6h-1.6zM304.2,143.7h1.3v1.3h-1.3zM290.3,118.5h1.3v1.3h-1.3zM306.9,138.3h1.3v1.3h-1.3zM308.8,119.7h1.3v1.3h-1.3zM269.9,141.9h1.3v1.3h-1.3zM272.2,125.0h1.3v1.3h-1.3zM283.4,151.8h1.6v1.6h-1.6zM289.6,150.1h1.3v1.3h-1.3zM300.8,146.2h1v1h-1z"/>
<path d="M289.0,114.0 C290.6,112.2 294.7,110.7 298.0,110.5 C301.3,110.3 306.2,111.6 309.0,113.0 C311.8,114.4 314.2,116.8 315.0,119.0 C315.8,121.2 315.7,124.9 314.0,126.5 C312.3,128.1 308.3,128.4 305.0,128.5 C301.7,128.6 296.8,128.2 294.0,127.0 C291.2,125.8 289.3,123.2 288.5,121.0 C287.7,118.8 287.4,115.8 289.0,114.0Z" fill="url(#spk)"/>
<path fill="#B0C4DE" d="M299.0,127.0h1.6v1.6h-1.6zM302.3,111.4h1v1h-1zM301.3,112.1h1.6v1.6h-1.6zM307.6,130.3h1v1h-1zM317.3,123.4h1.3v1.3h-1.3zM294.1,126.6h1.3v1.3h-1.3zM302.2,109.7h1v1h-1zM293.3,112.5h1.6v1.6h-1.6zM286.9,114.0h1.6v1.6h-1.6zM293.5,112.9h1v1h-1zM315.0,121.6h1.6v1.6h-1.6zM315.1,117.5h1v1h-1zM295.6,127.2h1v1h-1zM295.0,127.3h1.3v1.3h-1.3zM315.0,118.4h1.3v1.3h-1.3zM288.9,115.6h1.6v1.6h-1.6zM313.8,116.7h1v1h-1zM289.9,122.9h1v1h-1zM295.3,127.2h1.6v1.6h-1.6zM296.9,127.3h1.3v1.3h-1.3zM286.9,117.4h1.6v1.6h-1.6zM315.4,126.6h1.3v1.3h-1.3zM300.1,108.6h1v1h-1zM307.9,130.2h1v1h-1zM304.1,113.4h1v1h-1zM292.3,126.8h1.3v1.3h-1.3zM297.3,111.3h1.3v1.3h-1.3zM296.1,128.6h1.6v1.6h-1.6zM301.2,128.9h1v1h-1zM304.4,111.6h1.3v1.3h-1.3zM317.3,124.4h1.3v1.3h-1.3zM314.8,115.0h1.3v1.3h-1.3zM285.8,120.2h1v1h-1zM293.1,113.7h1v1h-1zM296.0,112.3h1.6v1.6h-1.6zM304.1,112.4h1.6v1.6h-1.6zM310.2,126.7h1v1h-1zM311.5,127.8h1v1h-1zM298.4,127.6h1.6v1.6h-1.6zM304.1,110.4h1.3v1.3h-1.3zM294.6,113.0h1.3v1.3h-1.3zM304.6,129.6h1.3v1.3h-1.3zM296.7,130.0h1v1h-1zM301.0,129.4h1v1h-1zM297.0,128.1h1.6v1.6h-1.6zM299.5,127.9h1.6v1.6h-1.6zM306.2,110.2h1.6v1.6h-1.6zM309.6,128.5h1v1h-1zM313.3,118.9h1.6v1.6h-1.6zM296.9,111.1h1v1h-1zM288.7,124.5h1.6v1.6h-1.6zM285.8,121.9h1v1h-1zM301.7,130.3h1.3v1.3h-1.3zM287.5,122.0h1.6v1.6h-1.6zM295.8,126.7h1.3v1.3h-1.3zM310.2,112.3h1.6v1.6h-1.6zM294.8,111.7h1.6v1.6h-1.6z"/>
<path d="M237.0,132.0 C237.8,130.2 240.8,129.7 243.0,129.5 C245.2,129.3 248.3,129.9 250.0,131.0 C251.7,132.1 252.8,134.2 253.0,136.0 C253.2,137.8 252.5,140.3 251.0,141.5 C249.5,142.7 246.2,143.2 244.0,143.0 C241.8,142.8 239.2,141.8 238.0,140.0 C236.8,138.2 236.2,133.8 237.0,132.0Z" fill="url(#spk)"/>
<path fill="#1E90FF" d="M252.3,137.1h1.6v1.6h-1.6zM234.9,132.4h1.6v1.6h-1.6zM254.3,132.1h1.3v1.3h-1.3zM239.1,130.4h1.6v1.6h-1.6zM237.5,138.1h1.3v1.3h-1.3zM249.9,133.6h1.6v1.6h-1.6zM252.3,139.6h1.6v1.6h-1.6zM246.1,128.7h1.3v1.3h-1.3zM249.5,142.4h1.6v1.6h-1.6zM234.5,131.4h1.6v1.6h-1.6zM249.3,140.7h1.6v1.6h-1.6zM235.6,140.6h1.3v1.3h-1.3zM238.8,137.6h1v1h-1zM254.3,140.4h1v1h-1zM237.2,130.0h1.3v1.3h-1.3zM252.3,143.4h1.3v1.3h-1.3zM239.5,129.2h1.3v1.3h-1.3zM236.2,133.5h1v1h-1zM249.7,131.8h1.3v1.3h-1.3zM240.4,129.9h1v1h-1zM251.4,130.1h1.3v1.3h-1.3zM238.4,138.5h1.6v1.6h-1.6zM255.0,136.4h1.3v1.3h-1.3zM247.3,145.0h1v1h-1zM247.1,144.1h1.3v1.3h-1.3zM251.1,131.5h1v1h-1zM242.4,144.0h1.6v1.6h-1.6zM236.0,135.0h1v1h-1zM244.4,142.6h1v1h-1zM251.4,142.4h1v1h-1zM239.0,131.2h1.3v1.3h-1.3zM256.0,135.9h1v1h-1zM251.8,132.9h1v1h-1zM252.0,139.0h1.3v1.3h-1.3zM237.1,139.4h1.3v1.3h-1.3zM252.7,139.9h1.3v1.3h-1.3zM254.7,133.0h1.3v1.3h-1.3z"/>
<path d="M229.0,143.0 C229.9,141.5 232.8,139.5 235.0,139.0 C237.2,138.5 240.2,139.1 242.0,140.0 C243.8,140.9 245.8,142.8 246.0,144.5 C246.2,146.2 244.8,148.9 243.0,150.0 C241.2,151.1 237.2,151.3 235.0,151.0 C232.8,150.7 230.5,149.3 229.5,148.0 C228.5,146.7 228.1,144.5 229.0,143.0Z" fill="url(#spk)"/>
<path fill="#00BFFF" d="M244.4,139.8h1.6v1.6h-1.6zM229.2,142.8h1.6v1.6h-1.6zM229.0,144.5h1v1h-1zM230.5,141.6h1.6v1.6h-1.6zM244.5,144.4h1v1h-1zM236.0,150.2h1.3v1.3h-1.3zM237.7,137.6h1v1h-1zM243.5,137.9h1.6v1.6h-1.6zM244.0,138.1h1.3v1.3h-1.3zM235.8,153.2h1v1h-1zM229.0,148.9h1.6v1.6h-1.6zM231.0,149.9h1.6v1.6h-1.6zM246.0,143.9h1v1h-1zM242.6,147.9h1.6v1.6h-1.6zM245.8,149.4h1v1h-1zM248.4,145.0h1v1h-1zM242.7,148.1h1.6v1.6h-1.6zM246.4,148.9h1.6v1.6h-1.6zM227.0,144.3h1v1h-1zM235.6,137.0h1.3v1.3h-1.3zM245.3,148.0h1.3v1.3h-1.3zM243.5,149.4h1.3v1.3h-1.3zM229.2,147.9h1.3v1.3h-1.3zM242.6,151.6h1v1h-1zM245.5,141.5h1.6v1.6h-1.6zM241.5,150.1h1.6v1.6h-1.6zM239.2,138.8h1.6v1.6h-1.6zM229.4,146.3h1.6v1.6h-1.6zM246.0,144.8h1.6v1.6h-1.6zM231.0,149.6h1v1h-1zM227.1,148.2h1v1h-1zM231.0,148.7h1v1h-1zM240.7,149.8h1.3v1.3h-1.3zM233.4,150.2h1.3v1.3h-1.3zM234.9,136.9h1v1h-1zM232.3,151.9h1.3v1.3h-1.3z"/>
<path d="M248.0,140.0 C248.7,138.3 250.6,136.3 252.0,136.0 C253.4,135.7 255.7,136.3 256.5,138.0 C257.3,139.7 257.8,144.2 257.0,146.0 C256.2,147.8 253.5,149.0 252.0,149.0 C250.5,149.0 248.7,147.5 248.0,146.0 C247.3,144.5 247.3,141.7 248.0,140.0Z" fill="url(#spk)"/>
<path fill="#FF8C00" d="M252.7,134.7h1.3v1.3h-1.3zM255.7,136.0h1.3v1.3h-1.3zM252.3,148.4h1.3v1.3h-1.3zM251.5,136.4h1.6v1.6h-1.6zM255.3,146.0h1.3v1.3h-1.3zM253.1,136.0h1v1h-1zM255.9,137.5h1.6v1.6h-1.6zM254.6,134.0h1.3v1.3h-1.3zM248.8,136.9h1v1h-1zM249.2,136.0h1.6v1.6h-1.6zM249.1,147.0h1.3v1.3h-1.3zM248.2,146.5h1.6v1.6h-1.6zM246.2,147.3h1.6v1.6h-1.6zM248.4,140.3h1v1h-1zM249.5,150.1h1.6v1.6h-1.6zM246.2,146.4h1.3v1.3h-1.3zM253.3,148.4h1v1h-1zM255.1,147.8h1.3v1.3h-1.3zM256.5,137.8h1.3v1.3h-1.3zM256.5,142.0h1.3v1.3h-1.3zM250.5,137.6h1.3v1.3h-1.3zM258.2,143.4h1v1h-1zM255.7,137.3h1.6v1.6h-1.6zM253.7,148.8h1v1h-1zM258.0,144.7h1.6v1.6h-1.6zM251.4,136.2h1.3v1.3h-1.3zM251.1,147.5h1.3v1.3h-1.3zM254.5,133.9h1v1h-1z"/>
<path d="M193.5,74.0 C193.2,70.9 195.2,68.1 197.0,66.0 C198.8,63.9 201.3,62.4 204.0,61.5 C206.7,60.6 209.8,60.4 213.0,60.5 C216.2,60.6 220.0,61.0 223.0,62.0 C226.0,63.0 229.2,64.5 231.0,66.5 C232.8,68.5 234.0,71.4 234.0,74.0 C234.0,76.6 233.2,79.9 231.0,82.0 C228.8,84.1 224.7,85.7 221.0,86.5 C217.3,87.3 212.5,87.3 208.8,87.0 C205.1,86.7 201.6,86.7 199.0,84.5 C196.4,82.3 193.8,77.1 193.5,74.0Z" fill="url(#spk)"/>
<path fill="#7FFFD4" d="M233.7,77.8h1v1h-1zM231.7,70.8h1.3v1.3h-1.3zM231.5,65.3h1.6v1.6h-1.6zM219.0,59.2h1.3v1.3h-1.3zM194.6,73.5h1.6v1.6h-1.6zM206.0,86.3h1.3v1.3h-1.3zM197.6,82.7h1.6v1.6h-1.6zM228.4,82.6h1.3v1.3h-1.3zM226.5,61.3h1.3v1.3h-1.3zM198.1,65.4h1v1h-1zM204.3,59.6h1v1h-1zM198.8,64.0h1v1h-1zM231.6,66.1h1v1h-1zM197.4,63.3h1v1h-1zM212.8,61.1h1.6v1.6h-1.6zM233.4,66.1h1.6v1.6h-1.6zM199.3,62.2h1.3v1.3h-1.3zM197.7,65.3h1.6v1.6h-1.6zM208.9,88.9h1.3v1.3h-1.3zM218.3,61.3h1.6v1.6h-1.6zM208.1,58.0h1v1h-1zM228.1,64.0h1.3v1.3h-1.3zM218.3,60.3h1.6v1.6h-1.6zM232.0,80.1h1.6v1.6h-1.6zM194.0,73.8h1.6v1.6h-1.6zM235.7,77.0h1.6v1.6h-1.6zM222.6,86.3h1.6v1.6h-1.6zM198.0,79.9h1v1h-1zM203.3,60.9h1.3v1.3h-1.3zM198.4,82.5h1v1h-1zM232.3,80.1h1.3v1.3h-1.3zM193.2,74.9h1v1h-1zM194.7,66.5h1.6v1.6h-1.6zM225.0,62.7h1.6v1.6h-1.6zM197.5,64.7h1.6v1.6h-1.6zM203.8,86.3h1v1h-1zM215.8,86.5h1.3v1.3h-1.3zM191.3,70.4h1.6v1.6h-1.6zM226.8,83.4h1.3v1.3h-1.3zM233.6,78.5h1.3v1.3h-1.3zM209.8,87.6h1v1h-1zM212.1,87.4h1.6v1.6h-1.6zM196.4,63.8h1v1h-1zM201.9,84.6h1.6v1.6h-1.6zM222.0,84.9h1.3v1.3h-1.3zM212.5,59.5h1v1h-1zM211.7,61.5h1.3v1.3h-1.3zM221.9,87.1h1.6v1.6h-1.6zM208.6,61.1h1.3v1.3h-1.3zM206.1,86.4h1v1h-1zM227.4,62.9h1v1h-1zM230.7,64.7h1v1h-1zM232.9,66.3h1.6v1.6h-1.6zM218.4,61.0h1.3v1.3h-1.3zM230.9,65.7h1.3v1.3h-1.3zM206.2,59.9h1v1h-1zM233.5,65.0h1v1h-1zM225.5,65.1h1.6v1.6h-1.6zM227.5,62.5h1v1h-1zM223.4,62.2h1.6v1.6h-1.6zM197.0,81.9h1v1h-1zM230.1,67.5h1v1h-1zM199.6,83.7h1.3v1.3h-1.3zM227.0,64.5h1.6v1.6h-1.6zM219.4,88.0h1v1h-1zM201.7,84.6h1.3v1.3h-1.3zM233.9,76.3h1.6v1.6h-1.6zM233.6,67.9h1.6v1.6h-1.6zM201.0,63.9h1v1h-1zM218.4,61.6h1.6v1.6h-1.6zM203.6,60.2h1v1h-1zM234.7,72.3h1.6v1.6h-1.6zM193.0,79.3h1.6v1.6h-1.6zM215.6,57.5h1.3v1.3h-1.3zM202.1,63.4h1v1h-1zM219.2,89.4h1.6v1.6h-1.6zM230.4,63.7h1.6v1.6h-1.6zM219.4,86.9h1v1h-1zM196.5,65.8h1v1h-1zM226.9,84.4h1.3v1.3h-1.3zM196.5,66.6h1.3v1.3h-1.3zM220.1,62.1h1.3v1.3h-1.3zM233.8,76.5h1.3v1.3h-1.3zM231.9,79.3h1.3v1.3h-1.3zM201.3,85.2h1v1h-1z"/>
<path d="M172.5,70.0 C172.7,67.6 173.6,64.8 175.0,63.0 C176.4,61.2 178.7,60.1 181.0,59.5 C183.3,58.9 186.3,59.0 189.0,59.3 C191.7,59.5 194.9,59.9 197.0,61.0 C199.1,62.1 201.2,64.0 201.5,66.0 C201.8,68.0 200.2,70.8 199.0,73.0 C197.8,75.2 196.0,77.2 194.0,79.0 C192.0,80.8 189.4,82.8 187.0,83.5 C184.6,84.2 181.7,84.5 179.5,83.5 C177.3,82.5 175.2,79.8 174.0,77.5 C172.8,75.2 172.3,72.4 172.5,70.0Z" fill="url(#spk)"/>
<path fill="#0000FF" d="M201.0,67.1h1v1h-1zM196.5,60.6h1.3v1.3h-1.3zM178.9,59.0h1.6v1.6h-1.6zM183.6,83.6h1.3v1.3h-1.3zM179.7,61.9h1.3v1.3h-1.3zM199.1,61.9h1v1h-1zM179.3,60.6h1.3v1.3h-1.3zM187.0,61.0h1.3v1.3h-1.3zM177.3,82.2h1.6v1.6h-1.6zM183.0,83.2h1.6v1.6h-1.6zM201.4,63.9h1.6v1.6h-1.6zM184.7,59.1h1.6v1.6h-1.6zM173.7,76.3h1v1h-1zM192.9,61.4h1.3v1.3h-1.3zM202.7,66.4h1.6v1.6h-1.6zM171.9,67.4h1.6v1.6h-1.6zM204.3,65.9h1.3v1.3h-1.3zM178.5,83.9h1v1h-1zM176.9,80.4h1.6v1.6h-1.6zM180.3,57.4h1.3v1.3h-1.3zM169.8,67.5h1v1h-1zM176.7,79.4h1.6v1.6h-1.6zM190.9,83.1h1.6v1.6h-1.6zM171.7,67.1h1.6v1.6h-1.6zM192.8,58.2h1.3v1.3h-1.3zM180.8,85.4h1.3v1.3h-1.3zM198.7,75.2h1v1h-1zM175.2,63.3h1v1h-1zM173.5,62.0h1.6v1.6h-1.6zM194.1,77.5h1v1h-1zM183.4,83.6h1.6v1.6h-1.6zM187.7,84.8h1v1h-1zM179.1,84.4h1v1h-1zM201.7,71.9h1v1h-1zM192.5,58.9h1.3v1.3h-1.3zM191.1,81.3h1.6v1.6h-1.6zM192.1,81.2h1.3v1.3h-1.3zM200.1,65.6h1v1h-1zM192.4,57.1h1.6v1.6h-1.6zM201.6,65.0h1.3v1.3h-1.3zM184.5,84.8h1.6v1.6h-1.6zM178.2,84.3h1.6v1.6h-1.6zM188.0,57.5h1.6v1.6h-1.6zM180.9,58.9h1.6v1.6h-1.6zM180.7,82.0h1.3v1.3h-1.3zM200.3,62.3h1v1h-1zM171.9,67.1h1.6v1.6h-1.6zM174.3,64.9h1v1h-1zM182.9,59.0h1.3v1.3h-1.3zM178.3,61.0h1.6v1.6h-1.6zM174.7,61.0h1.6v1.6h-1.6zM181.8,58.8h1.6v1.6h-1.6zM171.6,67.9h1v1h-1zM200.5,71.6h1.6v1.6h-1.6zM197.9,77.5h1v1h-1zM186.4,58.0h1.3v1.3h-1.3zM182.3,85.3h1.3v1.3h-1.3zM174.5,79.8h1.6v1.6h-1.6zM199.4,70.8h1v1h-1zM171.8,71.3h1.3v1.3h-1.3zM178.9,85.2h1v1h-1zM197.6,61.9h1.3v1.3h-1.3zM189.0,58.2h1.3v1.3h-1.3zM178.8,83.5h1.6v1.6h-1.6zM182.3,85.5h1.3v1.3h-1.3zM201.1,64.3h1v1h-1zM192.0,80.2h1.3v1.3h-1.3z"/>
<path d="M179.5,42.0 C179.3,39.8 179.9,37.0 181.0,35.0 C182.1,33.0 183.7,31.2 186.0,30.0 C188.3,28.8 191.7,27.6 195.0,27.5 C198.3,27.4 202.8,28.1 206.0,29.5 C209.2,30.9 212.2,33.4 214.0,36.0 C215.8,38.6 217.2,42.2 217.0,45.0 C216.8,47.8 215.0,51.0 213.0,53.0 C211.0,55.0 207.8,56.2 205.0,57.0 C202.2,57.8 198.8,58.0 196.0,57.5 C193.2,57.0 190.3,55.5 188.0,54.0 C185.7,52.5 183.4,50.5 182.0,48.5 C180.6,46.5 179.7,44.2 179.5,42.0Z" fill="url(#spk)"/>
<path fill="#FFFF00" d="M209.0,32.9h1.3v1.3h-1.3zM186.8,27.1h1.6v1.6h-1.6zM214.7,41.8h1v1h-1zM185.9,31.2h1v1h-1zM178.7,44.4h1v1h-1zM182.4,30.5h1.3v1.3h-1.3zM180.6,46.3h1v1h-1zM181.1,37.9h1.6v1.6h-1.6zM188.8,28.0h1.6v1.6h-1.6zM180.7,37.2h1.3v1.3h-1.3zM185.6,52.4h1.6v1.6h-1.6zM179.9,32.7h1v1h-1zM212.9,32.5h1v1h-1zM183.5,32.4h1.3v1.3h-1.3zM191.0,27.2h1.3v1.3h-1.3zM190.6,27.0h1.6v1.6h-1.6zM216.2,35.0h1.3v1.3h-1.3zM211.3,32.2h1.6v1.6h-1.6zM214.2,35.0h1.6v1.6h-1.6zM216.6,44.9h1.6v1.6h-1.6zM179.1,37.7h1v1h-1zM216.6,45.1h1.6v1.6h-1.6zM180.3,38.1h1.3v1.3h-1.3zM185.4,51.5h1.6v1.6h-1.6zM182.0,51.5h1.6v1.6h-1.6zM202.2,27.9h1.3v1.3h-1.3zM199.8,28.7h1.6v1.6h-1.6zM187.5,28.8h1.3v1.3h-1.3zM195.6,57.4h1v1h-1zM183.8,52.4h1v1h-1zM205.3,57.2h1.6v1.6h-1.6zM181.0,44.9h1.3v1.3h-1.3zM196.8,58.9h1.6v1.6h-1.6zM216.0,48.5h1.3v1.3h-1.3zM197.9,56.3h1v1h-1zM214.7,38.5h1.6v1.6h-1.6zM185.9,51.4h1v1h-1zM203.9,26.5h1.6v1.6h-1.6zM219.3,46.7h1v1h-1zM182.7,32.7h1.6v1.6h-1.6zM186.2,56.1h1.6v1.6h-1.6zM186.9,29.7h1v1h-1zM197.7,28.7h1.3v1.3h-1.3zM194.2,27.8h1.3v1.3h-1.3zM185.6,32.1h1.6v1.6h-1.6zM177.9,42.0h1v1h-1zM216.3,47.5h1v1h-1zM192.7,28.6h1.6v1.6h-1.6zM180.2,42.5h1.3v1.3h-1.3zM181.7,45.6h1.6v1.6h-1.6zM191.3,26.0h1.3v1.3h-1.3zM178.4,41.1h1v1h-1zM205.0,27.7h1v1h-1zM204.7,58.4h1.3v1.3h-1.3zM214.0,55.5h1.3v1.3h-1.3zM182.0,34.7h1v1h-1zM199.7,59.9h1.6v1.6h-1.6zM190.7,55.5h1.6v1.6h-1.6zM183.0,51.7h1.3v1.3h-1.3zM183.9,33.6h1v1h-1zM211.1,30.5h1.6v1.6h-1.6zM190.6,54.9h1.3v1.3h-1.3zM202.5,56.6h1.6v1.6h-1.6zM218.7,44.4h1.6v1.6h-1.6zM179.8,42.2h1v1h-1zM184.9,28.7h1.6v1.6h-1.6zM181.5,34.3h1.6v1.6h-1.6zM218.6,42.5h1.6v1.6h-1.6zM199.7,56.0h1.6v1.6h-1.6zM216.0,44.3h1.6v1.6h-1.6zM216.2,47.5h1.3v1.3h-1.3zM194.8,27.4h1.3v1.3h-1.3zM183.1,47.7h1v1h-1zM177.5,38.0h1v1h-1zM177.7,34.5h1.6v1.6h-1.6zM185.8,29.0h1.6v1.6h-1.6zM185.1,51.6h1.3v1.3h-1.3zM192.4,56.0h1v1h-1zM208.1,31.2h1.3v1.3h-1.3zM208.1,55.9h1.3v1.3h-1.3zM216.8,41.4h1.6v1.6h-1.6zM209.0,53.8h1v1h-1zM214.6,50.3h1.6v1.6h-1.6zM215.7,40.1h1.3v1.3h-1.3z"/>
<path d="M185.5,26.0 C186.1,24.3 188.1,22.3 190.0,21.0 C191.9,19.7 194.5,18.6 197.0,18.0 C199.5,17.4 202.7,17.0 205.0,17.5 C207.3,18.0 209.7,19.2 211.0,21.0 C212.3,22.8 213.5,25.8 213.0,28.0 C212.5,30.2 210.3,32.8 208.0,34.0 C205.7,35.2 201.8,35.5 199.0,35.5 C196.2,35.5 193.1,34.8 191.0,34.0 C188.9,33.2 187.4,32.3 186.5,31.0 C185.6,29.7 184.9,27.7 185.5,26.0Z" fill="url(#spk)"/>
<path fill="#90EE90" d="M212.2,20.4h1.3v1.3h-1.3zM186.5,29.3h1.6v1.6h-1.6zM184.1,25.7h1.3v1.3h-1.3zM213.6,28.1h1.6v1.6h-1.6zM207.9,33.1h1.3v1.3h-1.3zM205.9,35.8h1v1h-1zM208.8,31.7h1.3v1.3h-1.3zM189.4,36.2h1.6v1.6h-1.6zM198.1,37.1h1.6v1.6h-1.6zM198.2,37.2h1.6v1.6h-1.6zM187.2,23.3h1.3v1.3h-1.3zM213.0,30.3h1.3v1.3h-1.3zM214.7,29.6h1v1h-1zM195.6,34.4h1.6v1.6h-1.6zM185.6,31.1h1.3v1.3h-1.3zM187.0,19.4h1v1h-1zM213.5,25.7h1.6v1.6h-1.6zM186.1,23.4h1.3v1.3h-1.3zM189.4,20.0h1.6v1.6h-1.6zM214.3,28.6h1.3v1.3h-1.3zM214.3,29.7h1v1h-1zM186.8,32.6h1v1h-1zM184.4,27.4h1.3v1.3h-1.3zM196.6,37.8h1.6v1.6h-1.6zM206.4,35.4h1v1h-1zM206.0,35.0h1.6v1.6h-1.6zM213.6,26.8h1.3v1.3h-1.3zM201.6,18.5h1.6v1.6h-1.6zM188.9,34.6h1.6v1.6h-1.6zM190.5,17.5h1v1h-1zM208.7,18.9h1v1h-1zM199.4,37.4h1.6v1.6h-1.6zM188.4,33.2h1v1h-1zM208.2,36.3h1.6v1.6h-1.6zM207.6,33.7h1.6v1.6h-1.6zM184.4,31.9h1.3v1.3h-1.3zM205.6,35.1h1.6v1.6h-1.6zM195.8,36.6h1.6v1.6h-1.6zM197.5,38.3h1.3v1.3h-1.3zM185.8,24.1h1v1h-1zM184.7,26.9h1.6v1.6h-1.6zM198.0,17.2h1.6v1.6h-1.6zM212.3,31.1h1.6v1.6h-1.6zM194.4,35.1h1v1h-1zM209.0,17.9h1.6v1.6h-1.6zM191.0,36.6h1v1h-1zM213.4,28.0h1.3v1.3h-1.3zM194.5,19.7h1v1h-1zM211.4,28.9h1.6v1.6h-1.6zM186.9,30.4h1.3v1.3h-1.3zM197.7,36.3h1.6v1.6h-1.6zM191.4,18.8h1v1h-1zM211.6,22.4h1v1h-1zM186.5,30.1h1.3v1.3h-1.3zM187.8,24.3h1.6v1.6h-1.6zM213.7,30.2h1v1h-1zM203.5,35.0h1.3v1.3h-1.3z"/>
<path d="M207.0,20.0 C208.2,18.8 211.8,18.2 214.0,18.5 C216.2,18.8 218.3,20.0 220.0,21.5 C221.7,23.0 223.6,25.4 224.0,27.5 C224.4,29.6 223.8,32.7 222.5,34.0 C221.2,35.3 217.9,35.9 216.0,35.5 C214.1,35.1 212.6,33.2 211.0,31.5 C209.4,29.8 207.2,27.4 206.5,25.5 C205.8,23.6 205.8,21.2 207.0,20.0Z" fill="url(#spk)"/>
<path fill="#8B0000" d="M223.0,33.9h1.3v1.3h-1.3zM212.3,35.4h1.6v1.6h-1.6zM209.6,31.0h1v1h-1zM206.8,17.4h1v1h-1zM214.2,33.3h1.3v1.3h-1.3zM224.1,26.3h1.6v1.6h-1.6zM204.6,23.3h1.3v1.3h-1.3zM213.2,16.0h1.3v1.3h-1.3zM206.2,25.7h1.6v1.6h-1.6zM220.4,19.5h1.3v1.3h-1.3zM211.5,18.9h1v1h-1zM224.5,32.3h1.3v1.3h-1.3zM206.0,26.1h1v1h-1zM223.4,32.9h1.6v1.6h-1.6zM214.2,36.3h1.3v1.3h-1.3zM216.2,20.4h1.6v1.6h-1.6zM224.4,35.2h1.3v1.3h-1.3zM204.8,20.2h1.3v1.3h-1.3zM215.5,34.2h1v1h-1zM216.8,35.6h1v1h-1zM222.4,35.3h1.6v1.6h-1.6zM226.1,27.1h1v1h-1zM209.7,19.3h1.6v1.6h-1.6zM222.5,33.2h1.6v1.6h-1.6zM207.5,26.7h1.3v1.3h-1.3zM209.4,28.8h1.6v1.6h-1.6zM223.3,22.9h1v1h-1zM221.3,33.5h1.3v1.3h-1.3zM220.4,24.2h1.6v1.6h-1.6zM221.7,22.3h1v1h-1zM213.6,32.4h1v1h-1zM209.2,28.5h1v1h-1zM206.2,21.8h1.3v1.3h-1.3zM217.0,36.2h1.3v1.3h-1.3zM204.0,26.8h1.6v1.6h-1.6zM222.3,31.8h1v1h-1zM217.9,19.2h1v1h-1zM206.2,24.8h1.3v1.3h-1.3zM205.4,25.9h1.3v1.3h-1.3zM219.6,20.3h1.6v1.6h-1.6zM207.3,22.3h1.6v1.6h-1.6zM206.5,21.6h1v1h-1zM222.9,31.0h1v1h-1z"/>
<path d="M213.5,31.0 C214.8,29.6 218.7,29.1 221.0,29.5 C223.3,29.9 226.0,31.6 227.5,33.5 C229.0,35.4 229.9,38.7 230.0,41.0 C230.1,43.3 229.5,46.2 228.0,47.5 C226.5,48.8 223.2,49.0 221.0,48.5 C218.8,48.0 216.3,46.2 215.0,44.5 C213.7,42.8 213.2,40.2 213.0,38.0 C212.8,35.8 212.2,32.4 213.5,31.0Z" fill="url(#spk)"/>
<path fill="#FFB6C1" d="M226.8,29.9h1.3v1.3h-1.3zM213.8,37.7h1.6v1.6h-1.6zM225.0,29.8h1.3v1.3h-1.3zM212.5,33.1h1v1h-1zM213.3,32.9h1v1h-1zM230.0,46.3h1v1h-1zM214.7,42.1h1.6v1.6h-1.6zM217.2,47.4h1.3v1.3h-1.3zM220.0,47.2h1v1h-1zM213.8,33.5h1.6v1.6h-1.6zM228.3,31.9h1.6v1.6h-1.6zM211.7,29.4h1v1h-1zM215.5,46.2h1.3v1.3h-1.3zM215.4,30.8h1v1h-1zM226.9,48.3h1.6v1.6h-1.6zM226.3,31.8h1.6v1.6h-1.6zM223.9,49.7h1v1h-1zM214.3,29.5h1.6v1.6h-1.6zM221.3,51.3h1.6v1.6h-1.6zM214.4,34.4h1v1h-1zM224.2,30.6h1.3v1.3h-1.3zM213.5,43.4h1.3v1.3h-1.3zM214.7,45.4h1.6v1.6h-1.6zM218.3,28.3h1.3v1.3h-1.3zM230.9,36.8h1.6v1.6h-1.6zM223.2,28.2h1.6v1.6h-1.6zM214.0,31.7h1.6v1.6h-1.6zM222.0,49.5h1v1h-1zM218.8,30.3h1.3v1.3h-1.3zM219.7,27.5h1.6v1.6h-1.6zM229.4,31.1h1v1h-1zM226.3,32.0h1v1h-1zM230.3,33.4h1.3v1.3h-1.3zM212.4,32.8h1.6v1.6h-1.6zM218.0,46.6h1v1h-1zM212.3,33.9h1.6v1.6h-1.6zM221.6,29.5h1.6v1.6h-1.6zM214.0,41.0h1.6v1.6h-1.6zM229.3,46.7h1.6v1.6h-1.6zM210.7,38.2h1.6v1.6h-1.6zM225.4,49.3h1.3v1.3h-1.3zM219.1,47.6h1.6v1.6h-1.6zM230.4,47.8h1v1h-1zM210.0,35.8h1.3v1.3h-1.3zM213.5,43.0h1v1h-1zM218.1,46.4h1.3v1.3h-1.3z"/>
<path d="M200.0,45.0 C201.2,42.9 204.5,41.9 207.0,41.5 C209.5,41.1 212.8,41.4 215.0,42.5 C217.2,43.6 219.3,45.8 220.0,48.0 C220.7,50.2 220.2,54.1 219.0,56.0 C217.8,57.9 215.3,58.9 213.0,59.5 C210.7,60.1 207.2,60.4 205.0,59.5 C202.8,58.6 200.3,56.4 199.5,54.0 C198.7,51.6 198.8,47.1 200.0,45.0Z" fill="url(#spk)"/>
<path fill="#20B2AA" d="M218.4,57.6h1v1h-1zM207.3,60.8h1v1h-1zM202.3,59.0h1v1h-1zM220.7,45.8h1.3v1.3h-1.3zM206.4,62.1h1.6v1.6h-1.6zM210.6,60.4h1v1h-1zM216.2,42.4h1.3v1.3h-1.3zM199.5,44.0h1.6v1.6h-1.6zM211.5,39.5h1.3v1.3h-1.3zM215.0,43.4h1v1h-1zM222.8,51.0h1.3v1.3h-1.3zM220.7,57.8h1.3v1.3h-1.3zM199.3,56.9h1.6v1.6h-1.6zM214.4,41.6h1v1h-1zM203.0,60.4h1v1h-1zM215.7,42.9h1.3v1.3h-1.3zM199.5,50.0h1.3v1.3h-1.3zM199.7,49.9h1.6v1.6h-1.6zM215.6,42.1h1.3v1.3h-1.3zM198.9,49.5h1v1h-1zM213.4,58.7h1.3v1.3h-1.3zM218.6,54.7h1.6v1.6h-1.6zM210.2,59.8h1.3v1.3h-1.3zM218.5,43.9h1.6v1.6h-1.6zM197.9,53.6h1.3v1.3h-1.3zM199.9,52.7h1.3v1.3h-1.3zM200.5,56.2h1.3v1.3h-1.3zM198.2,49.1h1.3v1.3h-1.3zM197.5,51.3h1.6v1.6h-1.6zM201.2,42.4h1v1h-1zM217.0,41.6h1.3v1.3h-1.3zM198.3,52.0h1.3v1.3h-1.3zM213.3,43.7h1.3v1.3h-1.3zM208.5,42.3h1v1h-1zM197.3,50.2h1v1h-1zM211.7,59.9h1v1h-1zM206.4,42.1h1.6v1.6h-1.6zM210.8,60.6h1.3v1.3h-1.3zM210.7,62.8h1.3v1.3h-1.3zM218.2,44.6h1.6v1.6h-1.6zM218.5,44.9h1.6v1.6h-1.6zM218.2,46.1h1.6v1.6h-1.6zM220.4,54.5h1.6v1.6h-1.6zM200.7,42.4h1.6v1.6h-1.6zM214.2,41.6h1.3v1.3h-1.3zM201.4,55.8h1.3v1.3h-1.3zM200.2,51.0h1.3v1.3h-1.3zM210.6,60.3h1v1h-1zM202.8,42.5h1v1h-1zM202.1,42.2h1v1h-1z"/>
<path d="M218.5,47.0 C220.0,45.8 223.9,45.0 226.0,45.5 C228.1,46.0 229.8,48.1 231.0,50.0 C232.2,51.9 233.2,54.8 233.0,57.0 C232.8,59.2 231.5,62.2 230.0,63.5 C228.5,64.8 225.8,65.1 224.0,64.5 C222.2,63.9 220.2,61.9 219.0,60.0 C217.8,58.1 217.1,55.2 217.0,53.0 C216.9,50.8 217.0,48.2 218.5,47.0Z" fill="url(#spk)"/>
<path fill="#BA55D3" d="M230.4,61.8h1.3v1.3h-1.3zM228.7,47.8h1.3v1.3h-1.3zM223.4,65.7h1.6v1.6h-1.6zM225.1,44.2h1v1h-1zM228.0,45.8h1.6v1.6h-1.6zM230.4,48.0h1.3v1.3h-1.3zM233.9,55.8h1v1h-1zM225.5,45.3h1.3v1.3h-1.3zM227.9,49.3h1.6v1.6h-1.6zM218.8,59.0h1.3v1.3h-1.3zM228.5,46.7h1.3v1.3h-1.3zM232.2,57.3h1.3v1.3h-1.3zM227.8,45.0h1v1h-1zM233.4,58.0h1.6v1.6h-1.6zM215.3,53.6h1.6v1.6h-1.6zM231.8,58.8h1.6v1.6h-1.6zM229.1,44.7h1.6v1.6h-1.6zM223.5,65.1h1.3v1.3h-1.3zM216.9,54.0h1v1h-1zM227.6,65.9h1.6v1.6h-1.6zM215.5,58.7h1.3v1.3h-1.3zM228.6,63.2h1.6v1.6h-1.6zM230.8,60.7h1.3v1.3h-1.3zM216.8,54.8h1.6v1.6h-1.6zM228.5,48.2h1.6v1.6h-1.6zM219.2,49.6h1v1h-1zM227.1,62.6h1.3v1.3h-1.3zM216.5,58.7h1.6v1.6h-1.6zM218.4,59.1h1.3v1.3h-1.3zM217.5,48.7h1v1h-1zM223.8,44.9h1v1h-1zM217.0,56.9h1.6v1.6h-1.6zM224.4,44.9h1.6v1.6h-1.6zM234.6,61.3h1.6v1.6h-1.6zM231.2,47.9h1v1h-1zM226.0,66.5h1v1h-1zM224.4,44.4h1.6v1.6h-1.6zM231.5,54.8h1.6v1.6h-1.6zM221.7,64.3h1.6v1.6h-1.6zM232.6,49.9h1.6v1.6h-1.6zM235.2,59.5h1.6v1.6h-1.6zM215.9,50.8h1.6v1.6h-1.6zM231.9,62.5h1v1h-1zM220.6,63.1h1.3v1.3h-1.3z"/>
<path d="M141.0,50.0 C141.6,48.2 143.2,45.7 145.0,44.5 C146.8,43.3 149.7,42.8 152.0,43.0 C154.3,43.2 157.0,44.2 159.0,45.5 C161.0,46.8 163.0,49.1 164.0,51.0 C165.0,52.9 165.7,55.2 165.0,57.0 C164.3,58.8 162.2,60.7 160.0,61.5 C157.8,62.3 154.5,62.4 152.0,62.0 C149.5,61.6 146.8,60.2 145.0,59.0 C143.2,57.8 142.2,56.5 141.5,55.0 C140.8,53.5 140.4,51.8 141.0,50.0Z" fill="url(#spk)"/>
<path fill="#FFD700" d="M160.2,44.0h1.6v1.6h-1.6zM157.9,61.5h1.3v1.3h-1.3zM163.1,62.0h1v1h-1zM152.8,40.8h1.3v1.3h-1.3zM159.7,47.0h1.6v1.6h-1.6zM163.1,57.6h1v1h-1zM156.6,44.4h1.6v1.6h-1.6zM152.8,60.9h1.3v1.3h-1.3zM164.6,56.7h1v1h-1zM157.0,60.8h1v1h-1zM161.1,44.9h1.6v1.6h-1.6zM141.4,55.2h1.3v1.3h-1.3zM162.9,46.3h1v1h-1zM159.3,63.1h1.6v1.6h-1.6zM142.9,56.4h1.3v1.3h-1.3zM152.1,42.8h1.3v1.3h-1.3zM138.9,51.6h1.3v1.3h-1.3zM165.8,53.2h1.6v1.6h-1.6zM139.3,50.7h1.6v1.6h-1.6zM140.5,54.6h1v1h-1zM140.7,57.7h1.3v1.3h-1.3zM145.2,43.2h1.3v1.3h-1.3zM142.4,58.1h1.3v1.3h-1.3zM138.4,51.5h1.3v1.3h-1.3zM138.9,51.4h1.6v1.6h-1.6zM139.3,53.7h1.6v1.6h-1.6zM143.2,55.2h1v1h-1zM163.6,48.8h1v1h-1zM140.8,47.4h1.3v1.3h-1.3zM165.6,55.3h1.3v1.3h-1.3zM163.5,54.4h1v1h-1zM161.3,59.9h1v1h-1zM140.8,49.3h1.6v1.6h-1.6zM162.2,49.3h1.3v1.3h-1.3zM152.1,44.4h1.3v1.3h-1.3zM142.2,56.1h1.3v1.3h-1.3zM158.3,42.6h1.6v1.6h-1.6zM160.8,61.1h1.3v1.3h-1.3zM141.7,51.1h1.6v1.6h-1.6zM156.5,61.3h1.3v1.3h-1.3zM139.7,47.2h1.3v1.3h-1.3zM163.2,52.3h1v1h-1zM139.4,53.6h1.6v1.6h-1.6zM143.8,44.2h1.3v1.3h-1.3zM140.8,48.8h1.3v1.3h-1.3zM144.3,61.2h1.3v1.3h-1.3zM149.1,42.6h1v1h-1zM164.4,59.3h1v1h-1zM154.3,63.1h1.3v1.3h-1.3zM162.1,60.4h1.3v1.3h-1.3zM160.9,60.6h1v1h-1zM159.6,62.0h1v1h-1zM144.3,58.3h1.6v1.6h-1.6zM154.7,62.9h1v1h-1z"/>
<path d="M143.0,58.0 C144.0,57.5 147.8,58.2 150.0,59.0 C152.2,59.8 156.0,61.6 156.0,62.5 C156.0,63.4 152.0,64.6 150.0,64.5 C148.0,64.4 145.2,63.1 144.0,62.0 C142.8,60.9 142.0,58.5 143.0,58.0Z" fill="url(#spk)"/>
<path fill="#6495ED" d="M142.3,59.9h1v1h-1zM153.0,60.7h1.6v1.6h-1.6zM149.8,66.7h1.3v1.3h-1.3zM141.1,62.5h1.6v1.6h-1.6zM156.3,62.7h1.6v1.6h-1.6zM150.0,63.4h1.3v1.3h-1.3zM155.3,64.8h1.3v1.3h-1.3zM144.4,58.3h1v1h-1zM151.2,59.5h1.3v1.3h-1.3zM144.3,61.8h1v1h-1zM141.8,58.5h1.6v1.6h-1.6zM141.7,60.0h1v1h-1zM155.6,64.6h1.6v1.6h-1.6zM154.1,64.0h1.3v1.3h-1.3zM155.9,64.8h1.3v1.3h-1.3zM155.4,62.9h1.3v1.3h-1.3zM147.9,63.1h1v1h-1zM149.4,59.5h1v1h-1zM140.8,62.5h1.6v1.6h-1.6zM151.9,63.8h1.6v1.6h-1.6zM143.9,60.9h1v1h-1zM148.0,63.2h1.3v1.3h-1.3zM143.6,59.2h1.3v1.3h-1.3zM158.4,62.6h1v1h-1z"/>
<path d="M104.0,80.0 C104.1,76.7 104.5,72.7 106.0,70.0 C107.5,67.3 110.3,65.2 113.0,64.0 C115.7,62.8 119.0,62.9 122.0,63.0 C125.0,63.1 128.4,63.3 131.0,64.5 C133.6,65.7 135.9,67.8 137.5,70.0 C139.1,72.2 140.1,75.2 140.5,78.0 C140.9,80.8 140.7,83.9 140.0,86.5 C139.3,89.1 138.2,91.6 136.5,93.5 C134.8,95.4 132.6,97.1 130.0,98.0 C127.4,98.9 124.2,99.2 121.0,99.0 C117.8,98.8 113.6,98.5 111.0,97.0 C108.4,95.5 106.7,92.8 105.5,90.0 C104.3,87.2 103.9,83.3 104.0,80.0Z" fill="url(#spk)"/>
<path fill="#DAA520" d="M128.1,62.0h1.6v1.6h-1.6zM114.1,97.7h1.6v1.6h-1.6zM124.9,64.2h1.3v1.3h-1.3zM139.0,92.3h1.6v1.6h-1.6zM101.5,82.1h1.3v1.3h-1.3zM143.7,81.8h1.6v1.6h-1.6zM139.5,89.9h1.3v1.3h-1.3zM104.0,82.4h1v1h-1zM135.7,68.9h1.6v1.6h-1.6zM141.0,73.2h1.6v1.6h-1.6zM135.4,93.8h1.6v1.6h-1.6zM133.1,66.4h1v1h-1zM105.5,84.2h1v1h-1zM132.1,62.9h1.3v1.3h-1.3zM106.3,92.7h1.3v1.3h-1.3zM123.2,61.2h1v1h-1zM140.0,91.8h1.3v1.3h-1.3zM103.6,85.2h1.6v1.6h-1.6zM109.1,95.0h1.6v1.6h-1.6zM117.7,99.3h1.6v1.6h-1.6zM128.7,98.2h1.6v1.6h-1.6zM141.4,90.3h1.6v1.6h-1.6zM105.0,84.7h1.3v1.3h-1.3zM141.6,84.3h1.3v1.3h-1.3zM143.2,83.4h1v1h-1zM142.1,78.4h1v1h-1zM107.5,95.9h1v1h-1zM112.1,98.1h1v1h-1zM110.4,65.5h1v1h-1zM140.2,93.2h1.3v1.3h-1.3zM122.3,100.3h1.3v1.3h-1.3zM110.3,96.0h1.3v1.3h-1.3zM141.6,81.6h1.3v1.3h-1.3zM141.9,79.3h1.6v1.6h-1.6zM113.3,64.6h1.3v1.3h-1.3zM119.6,100.3h1.3v1.3h-1.3zM130.7,64.3h1.3v1.3h-1.3zM139.9,89.3h1.3v1.3h-1.3zM107.3,94.6h1v1h-1zM139.0,90.1h1.6v1.6h-1.6zM130.6,99.2h1v1h-1zM122.3,61.7h1.3v1.3h-1.3zM139.2,89.4h1.3v1.3h-1.3zM140.4,83.2h1.6v1.6h-1.6zM140.0,68.1h1v1h-1zM139.7,76.1h1.6v1.6h-1.6zM131.6,65.4h1.3v1.3h-1.3zM103.5,91.5h1.3v1.3h-1.3zM108.7,66.8h1.3v1.3h-1.3zM125.0,62.6h1.6v1.6h-1.6zM130.1,101.2h1.3v1.3h-1.3zM121.7,100.1h1.6v1.6h-1.6zM117.6,61.5h1.3v1.3h-1.3zM140.2,71.5h1v1h-1zM138.4,94.4h1.3v1.3h-1.3zM123.2,61.7h1.6v1.6h-1.6zM133.3,63.2h1.6v1.6h-1.6zM112.9,97.0h1v1h-1zM141.0,75.7h1.6v1.6h-1.6zM115.3,64.6h1.6v1.6h-1.6zM128.1,98.1h1v1h-1zM127.3,101.3h1v1h-1zM139.9,82.3h1.6v1.6h-1.6zM130.5,62.0h1.6v1.6h-1.6zM140.4,81.7h1v1h-1zM131.9,96.7h1.6v1.6h-1.6zM109.3,66.1h1v1h-1zM112.6,65.4h1v1h-1zM122.4,98.6h1.6v1.6h-1.6zM139.6,83.5h1.6v1.6h-1.6zM105.9,93.5h1v1h-1zM106.2,72.2h1v1h-1zM111.1,98.4h1.6v1.6h-1.6zM135.9,69.3h1.6v1.6h-1.6zM135.0,96.9h1.6v1.6h-1.6zM104.3,92.8h1.3v1.3h-1.3zM109.5,94.7h1v1h-1zM137.9,70.9h1.3v1.3h-1.3zM119.6,62.3h1.3v1.3h-1.3zM123.7,60.6h1.3v1.3h-1.3zM118.7,63.0h1v1h-1zM109.6,66.7h1v1h-1zM110.3,65.9h1.3v1.3h-1.3zM120.6,102.3h1.6v1.6h-1.6zM119.5,102.0h1v1h-1zM133.0,99.0h1.6v1.6h-1.6zM139.6,91.9h1.6v1.6h-1.6zM108.3,67.1h1.3v1.3h-1.3zM131.6,97.8h1.3v1.3h-1.3zM139.0,88.9h1.3v1.3h-1.3zM110.8,99.0h1.3v1.3h-1.3zM128.2,98.0h1v1h-1zM140.2,76.2h1.6v1.6h-1.6z"/>
<path d="M94.5,81.0 C94.2,79.4 94.6,77.2 95.5,76.0 C96.4,74.8 98.1,73.9 100.0,73.5 C101.9,73.1 105.2,72.8 107.0,73.5 C108.8,74.2 110.5,76.2 111.0,78.0 C111.5,79.8 111.2,82.7 110.0,84.0 C108.8,85.3 106.2,85.8 104.0,86.0 C101.8,86.2 98.6,86.3 97.0,85.5 C95.4,84.7 94.8,82.6 94.5,81.0Z" fill="url(#spk)"/>
<path fill="#A9A9A9" d="M101.8,72.4h1.6v1.6h-1.6zM108.5,73.3h1v1h-1zM96.3,84.9h1v1h-1zM108.5,83.6h1.6v1.6h-1.6zM106.1,72.6h1.3v1.3h-1.3zM95.2,74.7h1.6v1.6h-1.6zM94.9,83.2h1v1h-1zM95.3,81.1h1v1h-1zM113.1,76.8h1.3v1.3h-1.3zM104.2,85.0h1.6v1.6h-1.6zM112.8,82.6h1v1h-1zM95.2,77.8h1.6v1.6h-1.6zM93.2,76.1h1.6v1.6h-1.6zM103.8,88.4h1.3v1.3h-1.3zM100.1,72.0h1v1h-1zM101.2,86.9h1.6v1.6h-1.6zM95.5,79.0h1.6v1.6h-1.6zM113.5,81.3h1.6v1.6h-1.6zM104.6,72.7h1.6v1.6h-1.6zM105.6,73.2h1.3v1.3h-1.3zM95.8,84.0h1.3v1.3h-1.3zM102.7,72.6h1.6v1.6h-1.6zM94.1,75.8h1.6v1.6h-1.6zM104.1,88.1h1v1h-1zM103.8,73.4h1.3v1.3h-1.3zM105.8,71.2h1v1h-1zM112.4,85.2h1v1h-1zM111.0,84.7h1.3v1.3h-1.3zM107.8,71.2h1.6v1.6h-1.6zM102.8,85.4h1.6v1.6h-1.6zM110.6,79.2h1v1h-1zM96.4,83.3h1.6v1.6h-1.6zM102.2,72.9h1.6v1.6h-1.6zM112.9,85.1h1.3v1.3h-1.3zM110.9,81.2h1.3v1.3h-1.3zM109.0,75.3h1.6v1.6h-1.6zM103.0,70.0h1.6v1.6h-1.6zM110.0,75.1h1v1h-1z"/>
<path d="M93.0,93.0 C92.9,91.2 92.3,89.2 93.5,88.0 C94.7,86.8 98.2,85.8 100.0,86.0 C101.8,86.2 103.9,87.3 104.5,89.0 C105.1,90.7 104.5,94.1 103.5,96.0 C102.5,97.9 100.1,100.1 98.5,100.5 C96.9,100.9 94.9,99.8 94.0,98.5 C93.1,97.2 93.1,94.8 93.0,93.0Z" fill="url(#spk)"/>
<path fill="#008080" d="M99.9,100.2h1.6v1.6h-1.6zM95.0,87.0h1v1h-1zM102.4,87.9h1.3v1.3h-1.3zM99.9,100.8h1v1h-1zM100.4,101.5h1v1h-1zM105.6,95.2h1.6v1.6h-1.6zM92.8,96.3h1.6v1.6h-1.6zM95.7,100.7h1v1h-1zM92.0,100.0h1.3v1.3h-1.3zM92.1,95.9h1.6v1.6h-1.6zM92.4,90.4h1.3v1.3h-1.3zM92.3,97.8h1.6v1.6h-1.6zM93.4,91.7h1v1h-1zM106.8,88.7h1v1h-1zM90.6,92.6h1.6v1.6h-1.6zM96.3,86.1h1.6v1.6h-1.6zM98.8,87.1h1.3v1.3h-1.3zM92.1,89.5h1.3v1.3h-1.3zM98.8,87.3h1.6v1.6h-1.6zM96.9,103.1h1.3v1.3h-1.3zM104.7,92.7h1.6v1.6h-1.6zM98.8,85.4h1v1h-1zM98.1,103.5h1.3v1.3h-1.3zM103.2,97.8h1v1h-1zM92.2,100.7h1.6v1.6h-1.6zM91.3,95.9h1.3v1.3h-1.3zM98.7,85.8h1v1h-1zM93.5,97.6h1v1h-1zM104.3,96.5h1v1h-1zM105.6,87.9h1.3v1.3h-1.3zM92.3,95.9h1.3v1.3h-1.3zM100.6,86.6h1.6v1.6h-1.6zM97.5,87.4h1v1h-1z"/>
<path d="M101.0,94.0 C100.7,91.9 100.5,89.2 102.0,88.0 C103.5,86.8 107.6,86.3 110.0,86.5 C112.4,86.7 115.3,87.5 116.5,89.0 C117.7,90.5 117.8,93.6 117.0,95.5 C116.2,97.4 114.2,99.7 112.0,100.5 C109.8,101.3 105.8,101.6 104.0,100.5 C102.2,99.4 101.3,96.1 101.0,94.0Z" fill="url(#spk)"/>
<path fill="#008000" d="M109.8,99.7h1.6v1.6h-1.6zM114.0,88.4h1.3v1.3h-1.3zM119.3,96.1h1v1h-1zM104.7,101.2h1v1h-1zM112.2,101.3h1.6v1.6h-1.6zM116.1,91.3h1v1h-1zM106.5,87.9h1v1h-1zM102.5,95.2h1.6v1.6h-1.6zM116.7,93.7h1.6v1.6h-1.6zM99.7,89.3h1.3v1.3h-1.3zM101.9,100.7h1.3v1.3h-1.3zM103.5,84.6h1v1h-1zM112.0,86.7h1v1h-1zM101.5,98.8h1.3v1.3h-1.3zM103.2,102.8h1v1h-1zM106.7,102.1h1.6v1.6h-1.6zM117.7,97.1h1.6v1.6h-1.6zM111.9,101.8h1.3v1.3h-1.3zM101.3,98.9h1.3v1.3h-1.3zM101.4,93.0h1.3v1.3h-1.3zM104.9,100.2h1.6v1.6h-1.6zM117.4,96.2h1v1h-1zM109.6,85.2h1.3v1.3h-1.3zM108.8,103.1h1v1h-1zM109.9,85.7h1v1h-1zM115.7,96.0h1v1h-1zM116.4,93.2h1v1h-1zM109.4,87.5h1v1h-1zM114.7,85.5h1.3v1.3h-1.3zM114.3,97.2h1v1h-1zM115.6,96.8h1v1h-1zM100.0,90.8h1.3v1.3h-1.3zM116.1,90.9h1.6v1.6h-1.6zM111.7,87.0h1v1h-1zM103.0,100.2h1v1h-1zM99.2,89.3h1.3v1.3h-1.3zM99.4,94.9h1.3v1.3h-1.3zM100.4,92.1h1v1h-1zM103.7,100.2h1.6v1.6h-1.6z"/>
<path d="M112.5,93.0 C112.6,91.4 112.3,89.4 113.5,88.5 C114.7,87.6 117.8,86.9 119.5,87.5 C121.2,88.1 123.2,90.2 124.0,92.0 C124.8,93.8 125.0,96.6 124.0,98.0 C123.0,99.4 119.8,100.5 118.0,100.5 C116.2,100.5 113.9,99.2 113.0,98.0 C112.1,96.8 112.4,94.6 112.5,93.0Z" fill="url(#spk)"/>
<path fill="#DC143C" d="M123.3,90.9h1.6v1.6h-1.6zM124.5,89.5h1.3v1.3h-1.3zM110.4,94.0h1.3v1.3h-1.3zM113.0,96.0h1.3v1.3h-1.3zM125.7,95.1h1.3v1.3h-1.3zM125.1,89.8h1.3v1.3h-1.3zM123.4,94.3h1.3v1.3h-1.3zM111.4,88.7h1v1h-1zM111.7,91.0h1.3v1.3h-1.3zM121.3,87.0h1.6v1.6h-1.6zM113.4,85.6h1.6v1.6h-1.6zM117.5,86.9h1.6v1.6h-1.6zM123.4,94.9h1.3v1.3h-1.3zM111.8,89.5h1.6v1.6h-1.6zM122.7,100.7h1.3v1.3h-1.3zM115.6,102.4h1.6v1.6h-1.6zM111.2,100.0h1.3v1.3h-1.3zM124.3,91.7h1.6v1.6h-1.6zM115.3,99.5h1.6v1.6h-1.6zM111.1,96.9h1.3v1.3h-1.3zM118.9,88.1h1v1h-1zM113.6,94.9h1.3v1.3h-1.3zM113.8,90.0h1.6v1.6h-1.6zM123.3,94.8h1v1h-1zM109.4,92.7h1v1h-1zM113.4,89.0h1.6v1.6h-1.6zM118.4,100.1h1v1h-1zM112.9,85.5h1v1h-1zM119.8,98.8h1v1h-1zM116.7,86.2h1.3v1.3h-1.3zM113.7,91.1h1.6v1.6h-1.6zM110.9,95.1h1v1h-1z"/>
<path d="M64.0,106.0 C66.8,104.3 69.3,102.2 72.0,102.0 C74.7,101.8 77.3,103.2 80.0,104.5 C82.7,105.8 85.5,107.8 88.0,110.0 C90.5,112.2 93.8,115.3 95.0,118.0 C96.2,120.7 95.9,123.3 95.5,126.0 C95.1,128.7 93.5,131.3 92.5,134.0 C91.5,136.7 90.7,139.3 89.5,142.0 C88.3,144.7 87.3,147.7 85.5,150.0 C83.7,152.3 81.1,154.8 78.5,156.0 C75.9,157.2 72.8,157.7 70.0,157.5 C67.2,157.3 64.7,156.2 62.0,155.0 C59.3,153.8 56.8,151.5 54.0,150.0 C51.2,148.5 47.4,147.5 45.0,146.0 C42.6,144.5 40.8,143.0 39.5,141.0 C38.2,139.0 37.4,136.3 37.5,134.0 C37.6,131.7 38.7,129.4 40.0,127.0 C41.3,124.6 43.0,122.0 45.5,119.5 C48.0,117.0 51.9,114.2 55.0,112.0 C58.1,109.8 61.2,107.7 64.0,106.0Z" fill="url(#spk)"/>
<path fill="#87CEFA" d="M90.5,113.5h1v1h-1zM39.7,125.3h1.6v1.6h-1.6zM68.3,103.3h1.3v1.3h-1.3zM66.0,158.5h1.3v1.3h-1.3zM94.6,136.5h1v1h-1zM44.3,120.7h1.3v1.3h-1.3zM67.3,157.8h1.6v1.6h-1.6zM82.5,152.0h1.3v1.3h-1.3zM71.8,158.6h1v1h-1zM89.4,147.7h1v1h-1zM35.3,131.3h1.3v1.3h-1.3zM71.5,158.4h1.3v1.3h-1.3zM38.1,130.6h1v1h-1zM97.1,117.8h1.3v1.3h-1.3zM82.6,106.5h1.6v1.6h-1.6zM80.1,153.6h1.3v1.3h-1.3zM87.2,147.6h1.3v1.3h-1.3zM78.7,104.8h1.6v1.6h-1.6zM92.3,132.3h1.6v1.6h-1.6zM89.4,147.0h1.3v1.3h-1.3zM82.3,152.9h1.3v1.3h-1.3zM62.3,105.8h1.6v1.6h-1.6zM94.9,128.4h1.3v1.3h-1.3zM58.9,108.4h1.3v1.3h-1.3zM63.4,156.1h1.6v1.6h-1.6zM71.5,159.5h1.6v1.6h-1.6zM92.0,110.1h1.3v1.3h-1.3zM89.6,108.0h1v1h-1zM81.8,154.0h1.3v1.3h-1.3zM69.7,157.0h1.3v1.3h-1.3zM97.6,118.1h1.3v1.3h-1.3zM92.6,136.5h1.3v1.3h-1.3zM86.4,150.6h1.3v1.3h-1.3zM63.2,154.6h1.3v1.3h-1.3zM52.6,149.1h1v1h-1zM61.5,157.4h1.3v1.3h-1.3zM82.5,104.6h1v1h-1zM62.8,107.1h1.3v1.3h-1.3zM94.7,127.5h1v1h-1zM51.0,151.7h1v1h-1zM90.6,138.0h1.3v1.3h-1.3zM89.6,110.1h1.6v1.6h-1.6zM86.6,105.8h1.3v1.3h-1.3zM87.4,145.8h1.3v1.3h-1.3zM87.7,147.4h1v1h-1zM91.1,141.9h1.6v1.6h-1.6zM82.9,106.8h1.6v1.6h-1.6zM55.6,151.0h1v1h-1zM38.2,141.9h1v1h-1zM58.1,152.8h1.6v1.6h-1.6zM54.8,113.1h1.6v1.6h-1.6zM95.6,118.2h1.3v1.3h-1.3zM67.4,158.0h1.6v1.6h-1.6zM88.0,110.3h1.3v1.3h-1.3zM68.4,160.1h1.6v1.6h-1.6zM85.3,152.9h1.3v1.3h-1.3zM94.3,112.4h1.3v1.3h-1.3zM67.0,103.9h1.3v1.3h-1.3zM38.7,128.7h1.6v1.6h-1.6zM88.9,143.7h1.6v1.6h-1.6zM64.5,105.0h1v1h-1zM98.6,124.6h1.6v1.6h-1.6zM61.0,156.5h1v1h-1zM53.5,150.3h1.3v1.3h-1.3zM70.5,103.5h1v1h-1zM80.7,103.1h1.6v1.6h-1.6zM44.2,145.9h1.6v1.6h-1.6zM36.9,135.6h1.6v1.6h-1.6zM85.7,108.5h1v1h-1zM38.8,125.5h1v1h-1zM71.1,159.3h1.3v1.3h-1.3zM61.4,156.4h1.6v1.6h-1.6zM62.8,108.7h1v1h-1zM68.3,157.8h1.3v1.3h-1.3zM81.3,153.1h1.3v1.3h-1.3zM74.5,101.7h1.3v1.3h-1.3zM87.6,108.5h1.3v1.3h-1.3zM85.9,107.0h1.6v1.6h-1.6zM60.3,156.6h1.3v1.3h-1.3zM61.3,154.2h1.3v1.3h-1.3zM71.0,156.7h1.3v1.3h-1.3zM47.7,115.9h1.6v1.6h-1.6zM56.8,152.1h1v1h-1zM61.5,155.4h1v1h-1zM38.5,138.2h1v1h-1zM41.4,143.8h1.6v1.6h-1.6zM95.1,119.8h1v1h-1zM37.7,141.1h1v1h-1zM78.6,159.1h1.3v1.3h-1.3zM41.1,144.6h1v1h-1zM86.6,149.6h1.6v1.6h-1.6zM56.6,111.2h1v1h-1zM79.3,157.6h1.6v1.6h-1.6zM96.0,127.8h1v1h-1zM73.7,156.7h1.6v1.6h-1.6zM65.7,159.0h1v1h-1zM83.8,107.5h1.6v1.6h-1.6zM93.8,133.0h1.3v1.3h-1.3zM36.7,137.4h1.6v1.6h-1.6zM65.0,104.4h1.6v1.6h-1.6zM89.3,141.3h1.3v1.3h-1.3zM73.6,102.5h1.6v1.6h-1.6zM73.3,158.0h1.6v1.6h-1.6zM68.5,157.0h1.6v1.6h-1.6zM78.1,156.3h1.6v1.6h-1.6zM66.5,156.2h1.3v1.3h-1.3zM75.5,157.2h1v1h-1zM52.7,110.4h1.3v1.3h-1.3zM92.7,111.2h1.6v1.6h-1.6zM41.6,125.3h1v1h-1zM73.6,100.2h1v1h-1zM60.2,105.0h1v1h-1zM89.9,139.1h1.3v1.3h-1.3zM81.1,102.3h1.3v1.3h-1.3zM78.2,103.0h1v1h-1zM78.2,103.1h1v1h-1zM91.2,135.9h1.3v1.3h-1.3zM84.2,107.9h1.6v1.6h-1.6zM97.2,126.3h1.3v1.3h-1.3zM93.0,135.8h1v1h-1zM43.4,146.3h1.3v1.3h-1.3zM95.4,124.8h1.6v1.6h-1.6zM64.8,105.6h1.3v1.3h-1.3zM88.5,148.1h1v1h-1zM76.1,103.6h1.3v1.3h-1.3zM95.6,118.2h1.6v1.6h-1.6zM88.8,147.2h1v1h-1zM46.4,148.2h1.6v1.6h-1.6zM61.9,157.7h1v1h-1zM94.7,115.1h1v1h-1zM60.1,156.0h1.3v1.3h-1.3zM85.0,149.1h1.3v1.3h-1.3zM96.9,124.4h1.3v1.3h-1.3zM40.5,144.2h1v1h-1zM87.1,149.3h1v1h-1zM40.1,142.5h1v1h-1zM68.6,158.2h1.3v1.3h-1.3z"/>
<path d="M48.0,117.0 C50.5,115.2 53.5,113.5 56.0,113.0 C58.5,112.5 61.0,112.8 63.0,114.0 C65.0,115.2 66.4,118.0 68.0,120.0 C69.6,122.0 71.5,124.0 72.5,126.0 C73.5,128.0 74.4,130.2 74.0,132.0 C73.6,133.8 72.0,135.9 70.0,137.0 C68.0,138.1 64.7,138.5 62.0,138.5 C59.3,138.5 56.7,137.4 54.0,137.0 C51.3,136.6 48.2,136.9 46.0,136.0 C43.8,135.1 41.8,133.5 41.0,131.5 C40.2,129.5 39.8,126.4 41.0,124.0 C42.2,121.6 45.5,118.8 48.0,117.0Z" fill="url(#spk)"/>
<path fill="#8B008B" d="M75.9,131.1h1v1h-1zM51.2,136.0h1.6v1.6h-1.6zM72.7,129.5h1.3v1.3h-1.3zM65.1,139.5h1v1h-1zM76.7,133.7h1.6v1.6h-1.6zM44.2,120.2h1.3v1.3h-1.3zM67.5,137.1h1v1h-1zM53.3,114.6h1.6v1.6h-1.6zM75.2,130.7h1.6v1.6h-1.6zM44.6,133.3h1.3v1.3h-1.3zM43.5,134.6h1.6v1.6h-1.6zM75.0,128.2h1.3v1.3h-1.3zM60.3,112.4h1.3v1.3h-1.3zM55.2,137.9h1.6v1.6h-1.6zM74.9,125.2h1.6v1.6h-1.6zM60.6,137.9h1.3v1.3h-1.3zM43.5,132.7h1.6v1.6h-1.6zM58.8,112.3h1.6v1.6h-1.6zM44.5,134.0h1.6v1.6h-1.6zM45.6,118.0h1.6v1.6h-1.6zM72.1,135.9h1.6v1.6h-1.6zM52.3,137.6h1.6v1.6h-1.6zM47.9,136.7h1.6v1.6h-1.6zM69.6,119.8h1.6v1.6h-1.6zM56.5,112.8h1.6v1.6h-1.6zM40.5,123.1h1.6v1.6h-1.6zM46.5,119.2h1.3v1.3h-1.3zM51.2,115.3h1.6v1.6h-1.6zM74.2,132.7h1.6v1.6h-1.6zM72.8,132.3h1.6v1.6h-1.6zM61.8,112.8h1.3v1.3h-1.3zM57.8,111.5h1.6v1.6h-1.6zM69.1,118.9h1.6v1.6h-1.6zM57.8,136.6h1v1h-1zM63.2,116.2h1.6v1.6h-1.6zM72.3,126.7h1v1h-1zM65.9,138.2h1.6v1.6h-1.6zM67.4,121.3h1.6v1.6h-1.6zM54.1,138.7h1.6v1.6h-1.6zM63.5,139.2h1v1h-1zM69.0,122.7h1.3v1.3h-1.3zM61.0,140.4h1v1h-1zM71.0,135.2h1v1h-1zM38.3,125.3h1.6v1.6h-1.6zM70.9,121.5h1.6v1.6h-1.6zM41.4,125.6h1v1h-1zM53.6,113.7h1.3v1.3h-1.3zM41.6,132.3h1.3v1.3h-1.3zM64.5,113.8h1.3v1.3h-1.3zM46.6,136.0h1.3v1.3h-1.3zM70.6,118.9h1.3v1.3h-1.3zM40.2,123.6h1.6v1.6h-1.6zM67.4,139.5h1v1h-1zM66.0,139.8h1.6v1.6h-1.6zM52.8,137.5h1v1h-1zM39.0,129.9h1.6v1.6h-1.6zM61.2,139.1h1.3v1.3h-1.3zM60.9,139.4h1.6v1.6h-1.6zM72.6,134.5h1.6v1.6h-1.6zM39.9,134.1h1.6v1.6h-1.6zM39.7,125.3h1.3v1.3h-1.3zM55.8,112.5h1v1h-1zM59.6,137.2h1.3v1.3h-1.3zM72.7,130.9h1v1h-1zM45.9,135.6h1.3v1.3h-1.3zM43.0,136.5h1.3v1.3h-1.3zM65.9,118.9h1v1h-1zM67.9,121.1h1.3v1.3h-1.3zM68.6,117.4h1v1h-1zM39.1,130.2h1v1h-1zM73.8,130.4h1.6v1.6h-1.6zM63.9,137.9h1.6v1.6h-1.6zM67.2,114.3h1.6v1.6h-1.6z"/>
<path d="M38.0,142.0 C39.7,140.4 43.2,140.2 46.0,140.5 C48.8,140.8 52.3,142.4 55.0,144.0 C57.7,145.6 59.5,148.5 62.0,150.0 C64.5,151.5 67.6,151.6 70.0,153.0 C72.4,154.4 75.8,156.3 76.5,158.5 C77.2,160.7 76.1,163.8 74.5,166.0 C72.9,168.2 70.1,170.4 67.0,172.0 C63.9,173.6 59.5,175.1 56.0,175.5 C52.5,175.9 48.7,175.6 46.0,174.5 C43.3,173.4 41.6,171.4 40.0,169.0 C38.4,166.6 37.2,163.2 36.5,160.0 C35.8,156.8 35.8,153.0 36.0,150.0 C36.2,147.0 36.3,143.6 38.0,142.0Z" fill="url(#spk)"/>
<path fill="#00FFFF" d="M41.1,139.6h1.3v1.3h-1.3zM60.2,177.2h1.6v1.6h-1.6zM54.5,144.9h1.3v1.3h-1.3zM35.1,156.0h1.6v1.6h-1.6zM54.2,178.3h1.3v1.3h-1.3zM39.5,169.7h1.3v1.3h-1.3zM70.3,170.7h1.3v1.3h-1.3zM68.2,150.6h1v1h-1zM71.4,171.7h1v1h-1zM37.4,142.7h1.6v1.6h-1.6zM61.4,149.7h1v1h-1zM63.3,151.0h1v1h-1zM76.0,163.9h1v1h-1zM73.0,155.4h1v1h-1zM37.2,146.1h1v1h-1zM64.9,172.3h1.3v1.3h-1.3zM66.5,152.4h1.6v1.6h-1.6zM51.7,175.4h1v1h-1zM36.2,163.5h1.6v1.6h-1.6zM34.1,153.4h1v1h-1zM76.9,160.5h1.6v1.6h-1.6zM49.7,177.7h1v1h-1zM75.9,160.8h1v1h-1zM35.5,159.0h1.3v1.3h-1.3zM76.7,164.0h1v1h-1zM39.3,168.9h1v1h-1zM44.4,140.3h1.6v1.6h-1.6zM38.6,168.1h1v1h-1zM41.1,173.3h1.6v1.6h-1.6zM42.2,170.6h1.6v1.6h-1.6zM42.5,172.9h1.3v1.3h-1.3zM48.2,174.6h1.3v1.3h-1.3zM45.4,142.0h1.3v1.3h-1.3zM75.0,164.4h1.3v1.3h-1.3zM64.9,150.1h1.3v1.3h-1.3zM37.7,158.9h1.3v1.3h-1.3zM36.7,147.9h1.6v1.6h-1.6zM56.9,146.2h1.3v1.3h-1.3zM77.9,158.1h1.6v1.6h-1.6zM73.7,153.9h1v1h-1zM71.1,153.6h1.3v1.3h-1.3zM66.9,149.8h1.3v1.3h-1.3zM76.3,163.5h1.6v1.6h-1.6zM71.1,151.7h1.3v1.3h-1.3zM67.1,151.9h1.6v1.6h-1.6zM35.9,146.4h1v1h-1zM42.5,175.3h1v1h-1zM40.2,172.2h1.6v1.6h-1.6zM74.5,165.8h1.6v1.6h-1.6zM62.2,149.7h1.6v1.6h-1.6zM76.1,157.7h1.3v1.3h-1.3zM35.9,144.0h1v1h-1zM65.7,172.0h1.6v1.6h-1.6zM75.6,159.5h1.6v1.6h-1.6zM37.6,148.6h1.6v1.6h-1.6zM36.7,155.6h1v1h-1zM71.4,153.6h1.3v1.3h-1.3zM75.5,155.1h1.3v1.3h-1.3zM35.7,163.9h1v1h-1zM37.6,140.6h1.3v1.3h-1.3zM41.0,170.9h1.3v1.3h-1.3zM68.1,151.5h1.6v1.6h-1.6zM75.5,167.0h1.3v1.3h-1.3zM44.7,173.6h1.6v1.6h-1.6zM37.8,146.1h1v1h-1zM64.8,151.3h1v1h-1zM67.0,153.1h1.3v1.3h-1.3zM37.1,144.9h1.6v1.6h-1.6zM66.6,151.0h1.6v1.6h-1.6zM38.3,143.1h1v1h-1zM72.0,153.6h1.3v1.3h-1.3zM76.7,164.2h1.3v1.3h-1.3zM74.4,164.2h1v1h-1zM58.1,143.4h1v1h-1zM39.3,141.7h1.6v1.6h-1.6zM39.2,142.9h1v1h-1zM61.2,145.7h1.3v1.3h-1.3zM66.2,172.4h1.6v1.6h-1.6zM65.6,150.1h1v1h-1zM46.1,138.9h1.6v1.6h-1.6zM75.2,156.0h1.6v1.6h-1.6zM36.9,143.6h1.3v1.3h-1.3zM44.5,172.5h1.6v1.6h-1.6zM39.0,169.4h1v1h-1zM61.1,145.9h1.6v1.6h-1.6zM53.6,177.0h1.3v1.3h-1.3zM74.3,168.1h1.6v1.6h-1.6zM35.0,160.1h1.6v1.6h-1.6zM36.6,149.7h1v1h-1zM61.6,175.4h1v1h-1zM73.1,170.5h1.6v1.6h-1.6zM50.5,139.9h1v1h-1zM36.6,156.3h1.3v1.3h-1.3zM39.0,167.5h1.3v1.3h-1.3zM58.0,145.1h1v1h-1z"/>
<path d="M232.0,162.0 C232.5,160.9 234.8,160.3 236.0,160.5 C237.2,160.7 238.8,161.8 239.0,163.0 C239.2,164.2 238.5,166.8 237.5,167.5 C236.5,168.2 233.9,167.9 233.0,167.0 C232.1,166.1 231.5,163.1 232.0,162.0Z" fill="url(#spk)"/>
<path fill="#FFD700" d="M234.7,160.9h1.3v1.3h-1.3zM237.9,161.7h1.6v1.6h-1.6zM232.4,163.2h1.3v1.3h-1.3zM234.0,162.0h1.3v1.3h-1.3zM232.8,163.0h1v1h-1zM232.5,167.5h1.3v1.3h-1.3zM232.9,161.1h1.6v1.6h-1.6zM238.1,169.5h1v1h-1zM234.4,167.5h1.6v1.6h-1.6zM241.4,162.6h1v1h-1zM237.7,166.9h1.6v1.6h-1.6zM237.2,164.1h1.3v1.3h-1.3zM238.2,163.8h1.6v1.6h-1.6zM239.3,161.1h1v1h-1zM235.4,166.2h1.6v1.6h-1.6zM232.2,161.6h1v1h-1zM234.6,161.7h1v1h-1zM237.5,161.9h1.3v1.3h-1.3z"/>
<path fill="#FFFF00" d="M200.7,99.6h1.3v1.3h-1.3zM204.3,98.1h1v1h-1zM202.7,94.4h1v1h-1zM205.0,94.8h1v1h-1zM205.7,100.2h1v1h-1zM204.6,98.4h1v1h-1zM200.9,95.2h1.3v1.3h-1.3zM201.7,99.8h1.6v1.6h-1.6zM204.1,94.8h1.3v1.3h-1.3z"/>
<path fill="#FFFF00" d="M216.6,102.4h1.6v1.6h-1.6zM215.1,104.9h1v1h-1zM219.9,99.5h1.6v1.6h-1.6zM221.0,102.3h1.3v1.3h-1.3zM217.8,104.1h1.6v1.6h-1.6zM222.4,101.3h1v1h-1zM216.0,101.6h1v1h-1zM223.2,102.2h1v1h-1zM223.5,101.5h1v1h-1zM219.6,101.3h1v1h-1z"/>
<path d="M101.5,148.9 C103.5,146.9 106.5,145.4 108.8,143.5 C111.1,141.6 113.5,140.0 115.3,137.7 C117.0,135.4 117.9,132.5 119.3,129.9 C120.7,127.3 121.6,124.1 123.4,121.9 C125.2,119.7 127.5,118.2 129.9,116.8 C132.3,115.4 135.2,114.4 138.0,113.4 C140.8,112.4 143.5,111.7 146.4,111.0 C149.3,110.3 152.5,109.2 155.2,109.5 C157.9,109.8 160.2,112.1 162.8,113.1 C165.4,114.0 169.6,116.2 170.8,115.2 C172.0,114.2 169.9,109.9 170.0,107.3 C170.1,104.7 170.1,101.9 171.2,99.8 C172.3,97.7 174.9,96.6 176.6,94.4 C178.3,92.2 181.3,89.3 181.2,86.9 C181.1,84.5 177.6,82.3 176.2,79.9 C174.8,77.5 173.0,75.2 172.9,72.4 C172.8,69.6 174.0,65.3 175.8,63.3 C177.6,61.3 181.1,61.5 183.7,60.3 C186.2,59.1 190.6,58.0 191.1,56.2 C191.6,54.5 188.2,52.0 186.6,49.8 C185.0,47.6 182.4,45.4 181.6,42.9 C180.8,40.4 181.3,37.4 181.9,34.5 C182.5,31.6 183.6,28.1 185.4,25.7 C187.2,23.3 190.1,21.5 192.6,20.0 C195.1,18.5 197.8,17.2 200.6,16.6 C203.4,16.0 206.3,16.2 209.2,16.6 C212.0,17.0 215.5,17.6 217.7,19.0 C219.9,20.4 220.9,23.0 222.4,25.2 C223.9,27.4 225.6,29.7 226.7,32.3 C227.8,34.9 228.4,37.9 229.1,40.8 C229.8,43.7 230.5,46.8 231.0,49.8 C231.5,52.8 231.7,56.1 232.3,59.0 C232.9,61.9 232.9,64.8 234.5,67.0 C236.1,69.2 239.1,71.4 241.8,72.1 C244.5,72.8 247.8,72.2 250.5,71.4 C253.2,70.6 255.4,68.5 257.8,67.0 C260.2,65.5 262.4,63.6 265.1,62.6 C267.8,61.6 271.2,60.6 273.9,61.2 C276.6,61.8 279.0,64.4 281.2,66.3 C283.4,68.2 285.4,70.4 287.0,72.8 C288.6,75.2 289.6,78.2 290.7,80.9 C291.8,83.6 293.2,86.1 293.6,88.9 C294.0,91.7 294.0,95.3 292.9,97.7 C291.8,100.1 287.4,101.8 287.0,103.5 C286.6,105.2 288.6,106.9 290.7,107.9 C292.8,109.0 296.7,108.8 299.5,109.8 C302.3,110.8 305.2,112.1 307.5,113.7 C309.8,115.3 311.9,117.3 313.3,119.6 C314.8,121.9 315.0,124.8 316.2,127.6 C317.4,130.4 319.4,133.5 320.7,136.4 C322.0,139.3 323.3,142.4 324.2,145.2 C325.1,148.0 325.5,150.2 326.0,153.0 C326.5,155.8 327.0,159.0 327.2,161.8 C327.4,164.6 327.4,166.9 327.2,169.7 C327.0,172.5 326.9,175.9 326.0,178.5 C325.1,181.1 323.7,183.6 321.6,185.5 C319.6,187.4 316.3,188.6 313.7,189.9 C311.1,191.2 308.6,192.4 305.8,193.4 C303.0,194.4 300.2,195.3 297.1,196.0 C294.0,196.7 290.5,197.3 287.4,197.7 C284.3,198.1 281.5,198.3 278.7,198.6 C275.9,198.9 273.6,199.9 270.8,199.5 C268.0,199.1 264.5,197.3 262.0,196.0 C259.5,194.7 257.6,193.5 255.9,191.6 C254.2,189.7 252.7,186.9 251.5,184.6 C250.3,182.3 249.5,180.1 248.9,177.6 C248.3,175.1 248.4,172.3 248.0,169.7 C247.6,167.1 247.3,164.7 246.3,161.8 C245.3,158.9 244.2,154.7 242.0,152.5 C239.8,150.3 236.0,148.6 233.2,148.5 C230.4,148.4 227.0,150.4 225.2,152.0 C223.4,153.6 222.3,155.8 222.6,158.2 C222.8,160.5 225.2,163.5 226.7,166.1 C228.2,168.7 229.7,170.9 231.4,173.7 C233.2,176.5 235.8,180.1 237.2,182.9 C238.6,185.8 239.2,188.3 240.0,190.8 C240.8,193.3 241.2,195.2 242.0,197.8 C242.8,200.4 243.8,203.3 245.0,206.1 C246.2,208.9 247.7,212.0 249.0,214.6 C250.3,217.2 251.6,219.0 252.6,221.6 C253.6,224.2 254.5,227.6 255.2,230.4 C255.9,233.2 256.5,235.8 256.6,238.4 C256.8,241.1 257.1,243.7 256.1,246.3 C255.1,248.9 253.0,252.5 250.8,254.2 C248.6,255.9 245.4,255.3 242.9,256.5 C240.4,257.7 237.6,259.5 235.8,261.3 C234.0,263.1 233.6,264.9 232.3,267.1 C231.0,269.3 229.8,272.4 227.9,274.5 C226.0,276.6 223.5,278.3 220.8,279.4 C218.2,280.5 214.8,280.5 212.0,281.2 C209.2,281.9 206.5,282.9 203.7,283.7 C200.9,284.5 198.0,285.0 195.4,286.0 C192.8,287.0 190.8,288.8 188.1,289.6 C185.4,290.4 181.9,290.9 179.0,290.9 C176.1,290.9 173.5,290.4 170.8,289.6 C168.1,288.8 165.1,287.7 163.0,286.0 C160.9,284.3 159.4,282.1 158.0,279.6 C156.6,277.1 156.3,273.2 154.7,270.8 C153.1,268.4 150.9,266.1 148.4,265.0 C145.9,263.9 142.6,264.8 139.8,264.1 C137.1,263.4 134.6,261.7 131.9,261.0 C129.2,260.3 126.5,260.6 123.9,259.9 C121.3,259.2 118.3,258.4 116.1,256.8 C113.9,255.2 112.0,252.8 110.6,250.4 C109.2,248.0 108.6,244.9 107.5,242.2 C106.4,239.4 105.5,236.5 104.2,233.9 C102.9,231.3 101.4,228.9 99.6,226.6 C97.8,224.3 95.1,222.2 93.2,219.9 C91.3,217.6 89.5,215.5 88.1,213.0 C86.7,210.5 85.6,207.6 85.0,204.7 C84.4,201.8 84.4,198.5 84.5,195.6 C84.6,192.7 85.3,190.3 85.6,187.4 C85.8,184.5 85.5,181.2 86.0,178.3 C86.5,175.4 87.6,172.8 88.7,170.1 C89.8,167.4 91.3,164.8 92.7,162.4 C94.1,160.0 95.4,157.8 96.9,155.5 C98.4,153.2 99.5,150.9 101.5,148.9Z" fill="none" stroke="#283f88" stroke-width="4.8" stroke-dasharray="4.8 3.6"/>
<path d="M137.5,47.0 C138.4,44.8 141.2,42.3 143.5,41.5 C145.8,40.7 149.1,41.1 151.5,42.0 C153.9,42.9 155.9,45.3 158.1,47.0 C160.3,48.7 162.9,50.4 164.5,52.4 C166.1,54.4 167.6,56.8 167.4,59.0 C167.2,61.2 165.3,64.3 163.2,65.5 C161.0,66.7 157.1,66.5 154.5,66.3 C151.9,66.1 150.1,65.3 147.9,64.1 C145.7,62.9 142.9,60.6 141.3,59.0 C139.7,57.4 138.8,56.5 138.2,54.5 C137.6,52.5 136.6,49.2 137.5,47.0Z" fill="none" stroke="#c00000" stroke-width="4.8" stroke-dasharray="4.8 3.6"/>
<path d="M95.9,79.1 C96.7,78.1 98.8,75.2 100.8,73.4 C102.8,71.6 105.6,69.7 107.9,68.1 C110.2,66.5 112.3,64.5 114.8,63.8 C117.3,63.1 120.1,63.7 122.7,63.8 C125.3,63.9 128.4,63.6 130.7,64.6 C133.0,65.6 135.5,67.6 136.7,69.9 C137.9,72.2 137.8,75.5 138.0,78.2 C138.2,80.9 138.6,83.6 138.0,86.1 C137.4,88.6 136.1,91.4 134.5,93.1 C132.9,94.8 129.3,95.9 128.3,96.5" fill="none" stroke="#3b5e27" stroke-width="4.8" stroke-dasharray="4.8 3.6"/>
<path d="M88.9,83.9 C90.9,82.8 94.4,83.0 96.4,83.9 C98.4,84.9 98.8,88.9 100.8,89.6 C102.8,90.2 105.5,88.3 108.2,87.8 C110.9,87.3 114.5,86.0 117.0,86.5 C119.5,87.0 122.1,88.9 123.5,90.9 C124.9,93.0 125.7,96.8 125.3,98.8 C124.9,100.8 122.7,101.1 120.9,103.2 C119.1,105.3 116.5,109.4 114.3,111.5 C112.1,113.6 110.0,114.7 107.7,116.0 C105.4,117.3 102.5,118.1 100.4,119.6 C98.3,121.0 96.8,122.4 95.3,124.7 C93.8,127.0 92.4,130.7 91.3,133.3 C90.2,135.9 89.6,138.0 88.8,140.5 C88.0,143.0 87.4,145.7 86.2,148.1 C85.0,150.5 83.6,153.4 81.6,154.8 C79.6,156.2 76.4,156.6 74.0,156.5 C71.6,156.4 69.2,155.6 67.0,154.3 C64.8,153.0 62.8,150.5 61.0,148.6 C59.2,146.7 57.8,144.5 56.0,143.0 C54.2,141.5 52.0,140.7 50.0,139.5 C48.0,138.3 46.0,137.4 44.0,136.0 C42.0,134.6 38.7,133.3 38.2,131.3 C37.7,129.3 39.8,126.5 41.2,124.1 C42.6,121.7 44.4,118.8 46.4,117.0 C48.4,115.2 50.7,114.7 53.0,113.4 C55.3,112.1 58.1,110.9 60.1,109.3 C62.1,107.7 62.7,105.3 64.7,103.7 C66.7,102.1 69.5,100.9 71.9,99.6 C74.3,98.3 77.0,97.5 79.1,96.0 C81.1,94.5 82.6,92.7 84.2,90.7 C85.8,88.7 86.9,85.0 88.9,83.9Z" fill="none" stroke="#ff5c1c" stroke-width="4.8" stroke-dasharray="4.8 3.6"/>
<path d="M41.0,139.5 C43.0,139.2 46.1,139.4 48.4,140.5 C50.6,141.6 52.6,144.2 54.5,146.1 C56.4,148.0 57.7,150.9 59.6,152.2 C61.5,153.5 63.4,153.0 65.8,153.8 C68.2,154.7 72.6,155.5 73.9,157.3 C75.2,159.1 74.8,162.4 73.9,164.5 C73.0,166.6 70.3,168.6 68.3,170.1 C66.3,171.6 64.2,172.8 61.7,173.7 C59.2,174.5 56.2,175.2 53.5,175.2 C50.8,175.2 47.7,174.8 45.3,173.7 C42.9,172.6 40.7,170.6 39.2,168.6 C37.7,166.6 36.5,163.7 36.1,161.4 C35.7,159.1 36.4,156.9 37.0,155.0 C37.6,153.1 39.9,151.9 39.7,149.7 C39.6,147.5 35.9,143.7 36.1,142.0 C36.3,140.3 39.0,139.8 41.0,139.5Z" fill="none" stroke="#ff1aa0" stroke-width="4.8" stroke-dasharray="4.8 3.6"/>
<text x="168.1" y="194.06" font-size="11" fill="#000" text-anchor="middle" >26</text>
<text x="205.9" y="123.96" font-size="11" fill="#000" text-anchor="middle" >20</text>
<text x="268.6" y="81.96" font-size="11" fill="#000" text-anchor="middle" >17</text>
<text x="282" y="100.16" font-size="11" fill="#000" text-anchor="middle" >25</text>
<text x="300.6" y="125.96" font-size="11" fill="#000" text-anchor="middle" >27</text>
<text x="287.4" y="143.96" font-size="11" fill="#000" text-anchor="middle" >28</text>
<text x="288.3" y="169.26" font-size="11" fill="#000" text-anchor="middle" >22</text>
<text x="244.5" y="139.86" font-size="11" fill="#000" text-anchor="middle" >12</text>
<text x="235.8" y="149.16" font-size="11" fill="#000" text-anchor="middle" >19</text>
<text x="209" y="79.36" font-size="11" fill="#000" text-anchor="middle" >5</text>
<text x="183.1" y="74.66" font-size="11" fill="#000" text-anchor="middle" >4</text>
<text x="194.5" y="32.46" font-size="11" fill="#000" text-anchor="middle" >10</text>
<text x="214.8" y="32.46" font-size="11" fill="#000" text-anchor="middle" >1</text>
<text x="193" y="47.16" font-size="11" fill="#000" text-anchor="middle" >18</text>
<text x="221.5" y="43.36" font-size="11" fill="#000" text-anchor="middle" >2</text>
<text x="210.1" y="55.66" font-size="11" fill="#000" text-anchor="middle" >11</text>
<text x="224.3" y="59.46" font-size="11" fill="#000" text-anchor="middle" >3</text>
<text x="152.3" y="56.56" font-size="11" fill="#000" text-anchor="middle" >6</text>
<text x="123.1" y="79.56" font-size="11" fill="#000" text-anchor="middle" >21</text>
<text x="103.8" y="84.76" font-size="11" fill="#000" text-anchor="middle" >7</text>
<text x="96.4" y="100.16" font-size="11" fill="#000" text-anchor="middle" >8</text>
<text x="107.3" y="101.46" font-size="11" fill="#000" text-anchor="middle" >14</text>
<text x="118.7" y="99.26" font-size="11" fill="#000" text-anchor="middle" >13</text>
<text x="81.6" y="121.96" font-size="11" fill="#000" text-anchor="middle" >15</text>
<text x="54.5" y="130.66" font-size="11" fill="#000" text-anchor="middle" >16</text>
<text x="51" y="165.96" font-size="11" fill="#000" text-anchor="middle" >9</text>
<text x="251.7" y="202.66" font-size="11" fill="#000" text-anchor="middle" >24</text>
<line x1="24.6" y1="3" x2="24.6" y2="304.5" stroke="#555555" stroke-width="1.1" />
<line x1="24" y1="304" x2="340" y2="304" stroke="#555555" stroke-width="1.1" />
<line x1="24" y1="3" x2="340" y2="3" stroke="#555555" stroke-width="1.1" />
<line x1="21.5" y1="73.8" x2="24.6" y2="73.8" stroke="#555555" stroke-width="1.1" />
<line x1="21.5" y1="158.2" x2="24.6" y2="158.2" stroke="#555555" stroke-width="1.1" />
<line x1="21.5" y1="244" x2="24.6" y2="244" stroke="#555555" stroke-width="1.1" />
<line x1="92" y1="304" x2="92" y2="307" stroke="#555555" stroke-width="1.1" />
<line x1="185.5" y1="304" x2="185.5" y2="307" stroke="#555555" stroke-width="1.1" />
<line x1="280" y1="304" x2="280" y2="307" stroke="#555555" stroke-width="1.1" />
<text x="0" y="0" font-size="12.7" fill="#000" text-anchor="middle" transform="translate(20.8 73.8) rotate(-90)" >20</text>
<text x="0" y="0" font-size="12.7" fill="#000" text-anchor="middle" transform="translate(20.8 158.2) rotate(-90)" >0</text>
<text x="0" y="0" font-size="12.7" fill="#000" text-anchor="middle" transform="translate(20.8 244) rotate(-90)" >-20</text>
<text x="89.8" y="320.2" font-size="12.7" fill="#000" text-anchor="middle" >-20</text>
<text x="185.4" y="320.2" font-size="12.7" fill="#000" text-anchor="middle" >0</text>
<text x="280.7" y="320.2" font-size="12.7" fill="#000" text-anchor="middle" >20</text>
<text x="0" y="0" font-size="13.1" fill="#000" text-anchor="middle" transform="translate(9.8 156.2) rotate(-90)" >tSNE2</text>
<text x="186.2" y="335.1" font-size="13.3" fill="#000" text-anchor="middle" >tSNE1</text>
<text x="1.3" y="18" font-size="18.5" fill="#000" text-anchor="start" >A</text>
<text x="103.7" y="20.6" font-size="15.2" fill="#c00000" text-anchor="start" >Natural killer</text>
<text x="148.2" y="38.2" font-size="15.2" fill="#c00000" text-anchor="middle" >cells</text>
<text x="65.3" y="45.6" font-size="15.5" fill="#3f6b2a" text-anchor="start" >Memory</text>
<text x="92" y="63.1" font-size="15.3" fill="#3f6b2a" text-anchor="middle" >T cells</text>
<text x="26.6" y="81.3" font-size="15" fill="#ff5c1c" text-anchor="start" >Activated</text>
<text x="24.3" y="99.6" font-size="15" fill="#ff5c1c" text-anchor="start" >T cells</text>
<text x="32.1" y="192.3" font-size="15.2" fill="#ff0fa5" text-anchor="start" >Tregs</text>
<text x="244" y="36" font-size="15.1" fill="#3358a8" text-anchor="start" >Myeloid</text>
<text x="272" y="53.4" font-size="15.1" fill="#3358a8" text-anchor="middle" >cells</text>
<text x="254.1" y="214.1" font-size="15.1" fill="#bf9000" text-anchor="start" >B cells</text>
<text x="0" y="0" font-size="13.6" fill="#000" text-anchor="middle" transform="translate(102 380) rotate(-90)" >Cell clusters</text>
<circle cx="113" cy="367.4" r="3.3" fill="#8B0000"/>
<text x="0" y="0" font-size="10.3" transform="translate(116.7 363.0) rotate(-90)">1</text>
<circle cx="124.26" cy="367.4" r="3.3" fill="#FFB6C1"/>
<text x="0" y="0" font-size="10.3" transform="translate(128.0 363.0) rotate(-90)">2</text>
<circle cx="135.52" cy="367.4" r="3.3" fill="#BA55D3"/>
<text x="0" y="0" font-size="10.3" transform="translate(139.2 363.0) rotate(-90)">3</text>
<circle cx="146.78" cy="367.4" r="3.3" fill="#0000FF"/>
<text x="0" y="0" font-size="10.3" transform="translate(150.5 363.0) rotate(-90)">4</text>
<circle cx="158.04" cy="367.4" r="3.3" fill="#7FFFD4"/>
<text x="0" y="0" font-size="10.3" transform="translate(161.7 363.0) rotate(-90)">5</text>
<circle cx="169.3" cy="367.4" r="3.3" fill="#FFD700"/>
<text x="0" y="0" font-size="10.3" transform="translate(173.0 363.0) rotate(-90)">6</text>
<circle cx="180.56" cy="367.4" r="3.3" fill="#A9A9A9"/>
<text x="0" y="0" font-size="10.3" transform="translate(184.3 363.0) rotate(-90)">7</text>
<circle cx="191.82" cy="367.4" r="3.3" fill="#008080"/>
<text x="0" y="0" font-size="10.3" transform="translate(195.5 363.0) rotate(-90)">8</text>
<circle cx="203.08" cy="367.4" r="3.3" fill="#00FFFF"/>
<text x="0" y="0" font-size="10.3" transform="translate(206.8 363.0) rotate(-90)">9</text>
<circle cx="214.34" cy="367.4" r="3.3" fill="#90EE90"/>
<text x="0" y="0" font-size="10.3" transform="translate(218.0 363.0) rotate(-90)">10</text>
<circle cx="225.6" cy="367.4" r="3.3" fill="#20B2AA"/>
<text x="0" y="0" font-size="10.3" transform="translate(229.3 363.0) rotate(-90)">11</text>
<circle cx="236.86" cy="367.4" r="3.3" fill="#1E90FF"/>
<text x="0" y="0" font-size="10.3" transform="translate(240.6 363.0) rotate(-90)">12</text>
<circle cx="248.12" cy="367.4" r="3.3" fill="#DC143C"/>
<text x="0" y="0" font-size="10.3" transform="translate(251.8 363.0) rotate(-90)">13</text>
<circle cx="259.38" cy="367.4" r="3.3" fill="#008000"/>
<text x="0" y="0" font-size="10.3" transform="translate(263.1 363.0) rotate(-90)">14</text>
<circle cx="270.64" cy="367.4" r="3.3" fill="#87CEFA"/>
<text x="0" y="0" font-size="10.3" transform="translate(274.3 363.0) rotate(-90)">15</text>
<circle cx="113" cy="393" r="3.3" fill="#8B008B"/>
<text x="0" y="0" font-size="10.3" transform="translate(116.7 388.6) rotate(-90)">16</text>
<circle cx="124.26" cy="393" r="3.3" fill="#778899"/>
<text x="0" y="0" font-size="10.3" transform="translate(128.0 388.6) rotate(-90)">17</text>
<circle cx="135.52" cy="393" r="3.3" fill="#FFFF00"/>
<text x="0" y="0" font-size="10.3" transform="translate(139.2 388.6) rotate(-90)">18</text>
<circle cx="146.78" cy="393" r="3.3" fill="#00BFFF"/>
<text x="0" y="0" font-size="10.3" transform="translate(150.5 388.6) rotate(-90)">19</text>
<circle cx="158.04" cy="393" r="3.3" fill="#6495ED"/>
<text x="0" y="0" font-size="10.3" transform="translate(161.7 388.6) rotate(-90)">20</text>
<circle cx="169.3" cy="393" r="3.3" fill="#DAA520"/>
<text x="0" y="0" font-size="10.3" transform="translate(173.0 388.6) rotate(-90)">21</text>
<circle cx="180.56" cy="393" r="3.3" fill="#FF7F50"/>
<text x="0" y="0" font-size="10.3" transform="translate(184.3 388.6) rotate(-90)">22</text>
<circle cx="191.82" cy="393" r="3.3" fill="#696969"/>
<text x="0" y="0" font-size="10.3" transform="translate(195.5 388.6) rotate(-90)">23</text>
<circle cx="203.08" cy="393" r="3.3" fill="#FF0000"/>
<text x="0" y="0" font-size="10.3" transform="translate(206.8 388.6) rotate(-90)">24</text>
<circle cx="214.34" cy="393" r="3.3" fill="#CD853F"/>
<text x="0" y="0" font-size="10.3" transform="translate(218.0 388.6) rotate(-90)">25</text>
<circle cx="225.6" cy="393" r="3.3" fill="#00CED1"/>
<text x="0" y="0" font-size="10.3" transform="translate(229.3 388.6) rotate(-90)">26</text>
<circle cx="236.86" cy="393" r="3.3" fill="#B0C4DE"/>
<text x="0" y="0" font-size="10.3" transform="translate(240.6 388.6) rotate(-90)">27</text>
<circle cx="248.12" cy="393" r="3.3" fill="#FF8C00"/>
<text x="0" y="0" font-size="10.3" transform="translate(251.8 388.6) rotate(-90)">28</text>
<circle cx="259.38" cy="393" r="3.3" fill="#66CDAA"/>
<text x="0" y="0" font-size="10.3" transform="translate(263.1 388.6) rotate(-90)">29</text>
<circle cx="270.64" cy="393" r="3.3" fill="#8A2BE2"/>
<text x="0" y="0" font-size="10.3" transform="translate(274.3 388.6) rotate(-90)">30</text>
</svg>
</body></html>
